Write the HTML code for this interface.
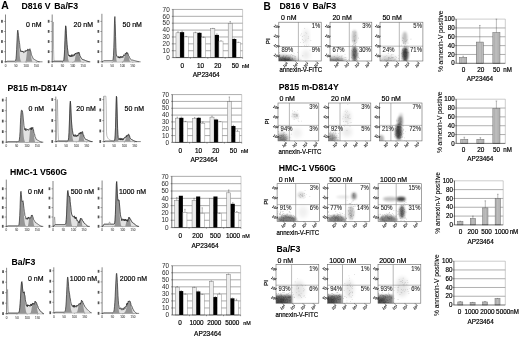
<!DOCTYPE html>
<html><head><meta charset="utf-8"><style>
html,body{margin:0;padding:0;background:#fff;}
svg{display:block;will-change:transform;filter:blur(0.4px);}
svg text{font-family:"Liberation Sans", sans-serif;}
</style></head><body>
<svg width="520" height="338" viewBox="0 0 520 338" font-family="Liberation Sans, sans-serif">
<defs><radialGradient id="rg"><stop offset="0" stop-color="#000" stop-opacity="1"/><stop offset="0.35" stop-color="#000" stop-opacity="0.75"/><stop offset="0.65" stop-color="#000" stop-opacity="0.3"/><stop offset="1" stop-color="#000" stop-opacity="0"/></radialGradient>
<filter id="b1" x="-50%" y="-50%" width="200%" height="200%"><feGaussianBlur stdDeviation="1"/></filter>
<filter id="b2" x="-50%" y="-50%" width="200%" height="200%"><feGaussianBlur stdDeviation="2"/></filter>
<filter id="b3" x="-50%" y="-50%" width="200%" height="200%"><feGaussianBlur stdDeviation="3"/></filter></defs>
<rect width="520" height="338" fill="#fff"/>
<text x="1.3" y="9.3" font-size="10.95" stroke="#000" stroke-width="0.06" font-weight="bold" transform="matrix(0.95 0 0 1 0.07 0)">A</text>
<text x="263.6" y="10.1" font-size="10.53" stroke="#000" stroke-width="0.06" font-weight="bold" transform="matrix(0.95 0 0 1 13.18 0)">B</text>
<text x="21.5" y="9.2" font-size="9.16" stroke="#000" stroke-width="0.06" font-weight="bold" transform="matrix(0.95 0 0 1 1.08 0)" xml:space="preserve">D816 V <tspan dx="1.5">Ba/F3</tspan></text>
<text x="7.5" y="90.6" font-size="9.16" stroke="#000" stroke-width="0.06" font-weight="bold" transform="matrix(0.95 0 0 1 0.38 0)" xml:space="preserve">P815 m-D814Y</text>
<text x="10" y="175" font-size="9.16" stroke="#000" stroke-width="0.06" font-weight="bold" transform="matrix(0.95 0 0 1 0.5 0)" xml:space="preserve">HMC-1 V560G</text>
<text x="11.6" y="264.6" font-size="9.16" stroke="#000" stroke-width="0.06" font-weight="bold" transform="matrix(0.95 0 0 1 0.58 0)" xml:space="preserve">Ba/F3</text>
<text x="279.6" y="9.3" font-size="9.16" stroke="#000" stroke-width="0.06" font-weight="bold" transform="matrix(0.95 0 0 1 13.98 0)" xml:space="preserve">D816 V <tspan dx="1.5">Ba/F3</tspan></text>
<text x="278.8" y="89.6" font-size="9.16" stroke="#000" stroke-width="0.06" font-weight="bold" transform="matrix(0.95 0 0 1 13.94 0)" xml:space="preserve">P815 m-D814Y</text>
<text x="278.8" y="171.2" font-size="9.16" stroke="#000" stroke-width="0.06" font-weight="bold" transform="matrix(0.95 0 0 1 13.94 0)" xml:space="preserve">HMC-1 V560G</text>
<text x="276.6" y="252.2" font-size="9.16" stroke="#000" stroke-width="0.06" font-weight="bold" transform="matrix(0.95 0 0 1 13.83 0)" xml:space="preserve">Ba/F3</text>
<line x1="5.5" y1="14.5" x2="5.5" y2="61.8" stroke="#222" stroke-width="0.55"/>
<line x1="5.5" y1="61.8" x2="42.5" y2="61.8" stroke="#222" stroke-width="0.55"/>
<rect x="1.1" y="60.3" width="1.7" height="2.8" fill="#555"/>
<line x1="3.9" y1="61.8" x2="5.5" y2="61.8" stroke="#444" stroke-width="0.45"/>
<rect x="1.1" y="50.2" width="1.7" height="2.8" fill="#555"/>
<line x1="3.9" y1="51.7" x2="5.5" y2="51.7" stroke="#444" stroke-width="0.45"/>
<rect x="1.1" y="40.1" width="1.7" height="2.8" fill="#555"/>
<line x1="3.9" y1="41.6" x2="5.5" y2="41.6" stroke="#444" stroke-width="0.45"/>
<rect x="1.1" y="30" width="1.7" height="2.8" fill="#555"/>
<line x1="3.9" y1="31.5" x2="5.5" y2="31.5" stroke="#444" stroke-width="0.45"/>
<rect x="1.1" y="19.9" width="1.7" height="2.8" fill="#555"/>
<line x1="3.9" y1="21.4" x2="5.5" y2="21.4" stroke="#444" stroke-width="0.45"/>
<text x="5.5" y="66.8" font-size="3.33" stroke="#555" stroke-width="0.08" text-anchor="middle" fill="#555" transform="matrix(0.9 0 0 1 0.55 0)">0</text>
<line x1="5.5" y1="61.8" x2="5.5" y2="62.7" stroke="#444" stroke-width="0.4"/>
<text x="15.8" y="66.8" font-size="3.33" stroke="#555" stroke-width="0.08" text-anchor="middle" fill="#555" transform="matrix(0.9 0 0 1 1.58 0)">50</text>
<line x1="15.8" y1="61.8" x2="15.8" y2="62.7" stroke="#444" stroke-width="0.4"/>
<text x="26.1" y="66.8" font-size="3.33" stroke="#555" stroke-width="0.08" text-anchor="middle" fill="#555" transform="matrix(0.9 0 0 1 2.61 0)">100</text>
<line x1="26.1" y1="61.8" x2="26.1" y2="62.7" stroke="#444" stroke-width="0.4"/>
<text x="36.4" y="66.8" font-size="3.33" stroke="#555" stroke-width="0.08" text-anchor="middle" fill="#555" transform="matrix(0.9 0 0 1 3.64 0)">150</text>
<line x1="36.4" y1="61.8" x2="36.4" y2="62.7" stroke="#444" stroke-width="0.4"/>
<polygon points="5.5,61.8 5.5,61.8 5.81,61.8 6.12,61.79 6.43,61.68 6.74,61.51 7.05,61.33 7.35,61.22 7.66,61.2 7.97,61.2 8.28,61.2 8.59,61.2 8.9,61.2 9.21,61.2 9.52,61.2 9.83,61.2 10.14,61.2 10.45,61.2 10.75,61.2 11.06,61.2 11.37,61.2 11.68,61.2 11.99,61.2 12.3,61.2 12.61,61.2 12.92,61.2 13.23,61.2 13.54,61.2 13.85,61.2 14.15,61.2 14.46,61.2 14.77,61.18 15.08,61.11 15.39,60.86 15.7,60.15 16.01,58.44 16.32,55.11 16.63,49.6 16.94,42.1 17.25,35.09 17.55,30.83 17.86,30.12 18.17,32.21 18.48,35.36 18.79,38 19.1,40.39 19.41,42.47 19.72,44.55 20.03,48.12 20.34,48.85 20.65,51.51 20.95,50.58 21.26,51.44 21.57,51.95 21.88,51.13 22.19,51.6 22.5,50.94 22.81,52.05 23.12,51.22 23.43,51.78 23.74,52.77 24.05,52.71 24.35,52.21 24.66,51.51 24.97,50.68 25.28,50.53 25.59,51.71 25.9,51.72 26.21,50.16 26.52,50.55 26.83,50.48 27.14,50.84 27.45,50.81 27.75,49.06 28.06,49.07 28.37,50.15 28.68,49.83 28.99,50.45 29.3,50.06 29.61,49.71 29.92,48.68 30.23,50.79 30.54,50.6 30.85,51.81 31.15,53.14 31.46,54.72 31.77,55.47 32.08,56.23 32.39,56.56 32.7,57.46 33.01,58.26 33.32,58.86 33.63,59.06 33.94,59.23 34.25,59.37 34.55,59.53 34.86,59.74 35.17,59.93 35.48,60.11 35.79,60.29 36.1,60.48 36.41,60.67 36.72,60.85 37.03,61.02 37.34,61.18 37.65,61.33 37.95,61.46 38.26,61.58 38.57,61.67 38.88,61.74 39.19,61.78 39.5,61.8 39.5,61.8" fill="#e2e2e2"/>
<polygon points="5.5,61.8 5.5,61.8 5.81,61.8 6.12,61.8 6.43,61.8 6.74,61.8 7.05,61.8 7.35,61.8 7.66,61.8 7.97,61.8 8.28,61.8 8.59,61.8 8.9,61.8 9.21,61.8 9.52,61.8 9.83,61.8 10.14,61.8 10.45,61.8 10.75,61.8 11.06,61.8 11.37,61.8 11.68,61.8 11.99,61.8 12.3,61.8 12.61,61.8 12.92,61.8 13.23,61.8 13.54,61.8 13.85,61.8 14.15,61.8 14.46,61.8 14.77,61.78 15.08,61.71 15.39,61.46 15.7,60.6 16.01,58.44 16.32,55.11 16.63,49.6 16.94,42.1 17.25,35.09 17.55,30.83 17.86,30.12 18.17,32.21 18.48,35.36 18.79,38 19.1,40.56 19.41,47.39 19.72,55.13 20.03,57.88 20.34,59.49 20.65,60.59 20.95,61.24 21.26,61.57 21.57,61.71 21.88,61.77 22.19,61.79 22.5,61.79 22.81,61.79 23.12,61.78 23.43,61.77 23.74,61.75 24.05,61.72 24.35,61.68 24.66,61.63 24.97,61.55 25.28,61.46 25.59,61.34 25.9,60.59 26.21,58.31 26.52,55.73 26.83,53.07 27.14,51.49 27.45,50.81 27.75,49.06 28.06,49.07 28.37,50.15 28.68,49.83 28.99,50.45 29.3,50.06 29.61,49.71 29.92,48.68 30.23,50.79 30.54,50.94 30.85,53.29 31.15,55.93 31.46,58.43 31.77,60.04 32.08,61.13 32.39,61.62 32.7,61.69 33.01,61.73 33.32,61.75 33.63,61.77 33.94,61.78 34.25,61.79 34.55,61.79 34.86,61.8 35.17,61.8 35.48,61.8 35.79,61.8 36.1,61.8 36.41,61.8 36.72,61.8 37.03,61.8 37.34,61.8 37.65,61.8 37.95,61.8 38.26,61.8 38.57,61.8 38.88,61.8 39.19,61.8 39.5,61.8 39.5,61.8" fill="#959595"/>
<polyline points="5.5,61.8 5.81,61.8 6.12,61.79 6.43,61.68 6.74,61.51 7.05,61.33 7.35,61.22 7.66,61.2 7.97,61.2 8.28,61.2 8.59,61.2 8.9,61.2 9.21,61.2 9.52,61.2 9.83,61.2 10.14,61.2 10.45,61.2 10.75,61.2 11.06,61.2 11.37,61.2 11.68,61.2 11.99,61.2 12.3,61.2 12.61,61.2 12.92,61.2 13.23,61.2 13.54,61.2 13.85,61.2 14.15,61.2 14.46,61.2 14.77,61.18 15.08,61.11 15.39,60.86 15.7,60.15 16.01,58.44 16.32,55.11 16.63,49.6 16.94,42.1 17.25,35.09 17.55,30.83 17.86,30.12 18.17,32.21 18.48,35.36 18.79,38 19.1,40.39 19.41,42.47 19.72,44.55 20.03,48.12 20.34,48.85 20.65,51.51 20.95,50.58 21.26,51.44 21.57,51.95 21.88,51.13 22.19,51.6 22.5,50.94 22.81,52.05 23.12,51.22 23.43,51.78 23.74,52.77 24.05,52.71 24.35,52.21 24.66,51.51 24.97,50.68 25.28,50.53 25.59,51.71 25.9,51.72 26.21,50.16 26.52,50.55 26.83,50.48 27.14,50.84 27.45,50.81 27.75,49.06 28.06,49.07 28.37,50.15 28.68,49.83 28.99,50.45 29.3,50.06 29.61,49.71 29.92,48.68 30.23,50.79 30.54,50.6 30.85,51.81 31.15,53.14 31.46,54.72 31.77,55.47 32.08,56.23 32.39,56.56 32.7,57.46 33.01,58.26 33.32,58.86 33.63,59.06 33.94,59.23 34.25,59.37 34.55,59.53 34.86,59.74 35.17,59.93 35.48,60.11 35.79,60.29 36.1,60.48 36.41,60.67 36.72,60.85 37.03,61.02 37.34,61.18 37.65,61.33 37.95,61.46 38.26,61.58 38.57,61.67 38.88,61.74 39.19,61.78 39.5,61.8" fill="none" stroke="#222" stroke-width="0.65"/>
<text x="26" y="26.9" font-size="7.78" stroke="#000" stroke-width="0.2" transform="matrix(0.9 0 0 1 2.6 0)">0 nM</text>
<line x1="52.2" y1="14.5" x2="52.2" y2="61.8" stroke="#222" stroke-width="0.55"/>
<line x1="52.2" y1="61.8" x2="89.2" y2="61.8" stroke="#222" stroke-width="0.55"/>
<rect x="47.8" y="60.3" width="1.7" height="2.8" fill="#555"/>
<line x1="50.6" y1="61.8" x2="52.2" y2="61.8" stroke="#444" stroke-width="0.45"/>
<rect x="47.8" y="50.2" width="1.7" height="2.8" fill="#555"/>
<line x1="50.6" y1="51.7" x2="52.2" y2="51.7" stroke="#444" stroke-width="0.45"/>
<rect x="47.8" y="40.1" width="1.7" height="2.8" fill="#555"/>
<line x1="50.6" y1="41.6" x2="52.2" y2="41.6" stroke="#444" stroke-width="0.45"/>
<rect x="47.8" y="30" width="1.7" height="2.8" fill="#555"/>
<line x1="50.6" y1="31.5" x2="52.2" y2="31.5" stroke="#444" stroke-width="0.45"/>
<rect x="47.8" y="19.9" width="1.7" height="2.8" fill="#555"/>
<line x1="50.6" y1="21.4" x2="52.2" y2="21.4" stroke="#444" stroke-width="0.45"/>
<text x="52.2" y="66.8" font-size="3.33" stroke="#555" stroke-width="0.08" text-anchor="middle" fill="#555" transform="matrix(0.9 0 0 1 5.22 0)">0</text>
<line x1="52.2" y1="61.8" x2="52.2" y2="62.7" stroke="#444" stroke-width="0.4"/>
<text x="62.5" y="66.8" font-size="3.33" stroke="#555" stroke-width="0.08" text-anchor="middle" fill="#555" transform="matrix(0.9 0 0 1 6.25 0)">50</text>
<line x1="62.5" y1="61.8" x2="62.5" y2="62.7" stroke="#444" stroke-width="0.4"/>
<text x="72.8" y="66.8" font-size="3.33" stroke="#555" stroke-width="0.08" text-anchor="middle" fill="#555" transform="matrix(0.9 0 0 1 7.28 0)">100</text>
<line x1="72.8" y1="61.8" x2="72.8" y2="62.7" stroke="#444" stroke-width="0.4"/>
<text x="83.1" y="66.8" font-size="3.33" stroke="#555" stroke-width="0.08" text-anchor="middle" fill="#555" transform="matrix(0.9 0 0 1 8.31 0)">150</text>
<line x1="83.1" y1="61.8" x2="83.1" y2="62.7" stroke="#444" stroke-width="0.4"/>
<polygon points="52.2,61.8 52.2,61.8 52.55,61.8 52.89,61.77 53.24,61.62 53.58,61.42 53.93,61.25 54.27,61.2 54.62,61.2 54.96,61.2 55.31,61.2 55.65,61.2 56,61.2 56.35,61.2 56.69,61.2 57.04,61.2 57.38,61.2 57.73,61.2 58.07,61.2 58.42,61.2 58.76,61.2 59.11,61.2 59.45,61.2 59.8,61.2 60.15,61.2 60.49,61.2 60.84,61.2 61.18,61.2 61.53,61.2 61.87,61.2 62.22,61.2 62.56,61.2 62.91,61.18 63.25,61.09 63.6,60.69 63.95,59.39 64.29,56.07 64.64,49.67 64.98,40.14 65.33,30.67 65.67,25.82 66.02,27.41 66.36,33.28 66.71,39.68 67.05,44.32 67.4,47.71 67.75,50.65 68.09,53.41 68.44,55.25 68.78,55.46 69.13,56.02 69.47,54.97 69.82,56.54 70.16,55.67 70.51,56.66 70.85,55.96 71.2,54.86 71.55,54.84 71.89,56.94 72.24,55.11 72.58,54.8 72.93,55.79 73.27,56.03 73.62,55.82 73.96,54.56 74.31,55.46 74.65,54.07 75,54.56 75.35,53 75.69,53.67 76.04,53.07 76.38,53.05 76.73,53.21 77.07,52.95 77.42,53.04 77.76,53.46 78.11,52.1 78.45,52.84 78.8,53.16 79.15,52.59 79.49,53.75 79.84,55.58 80.18,56.08 80.53,56.6 80.87,57.5 81.22,58.14 81.56,58.51 81.91,58.78 82.25,59.46 82.6,59.49 82.95,59.64 83.29,59.64 83.64,59.83 83.98,59.94 84.33,60.07 84.67,60.2 85.02,60.34 85.36,60.47 85.71,60.61 86.05,60.75 86.4,60.89 86.75,61.02 87.09,61.15 87.44,61.27 87.78,61.38 88.13,61.48 88.47,61.57 88.82,61.65 89.16,61.71 89.51,61.76 89.85,61.79 90.2,61.8 90.2,61.8" fill="#e2e2e2"/>
<polygon points="52.2,61.8 52.2,61.8 52.55,61.8 52.89,61.8 53.24,61.8 53.58,61.8 53.93,61.8 54.27,61.8 54.62,61.8 54.96,61.8 55.31,61.8 55.65,61.8 56,61.8 56.35,61.8 56.69,61.8 57.04,61.8 57.38,61.8 57.73,61.8 58.07,61.8 58.42,61.8 58.76,61.8 59.11,61.8 59.45,61.8 59.8,61.8 60.15,61.8 60.49,61.8 60.84,61.8 61.18,61.8 61.53,61.8 61.87,61.8 62.22,61.8 62.56,61.8 62.91,61.78 63.25,61.69 63.6,61.29 63.95,59.75 64.29,56.07 64.64,49.67 64.98,40.14 65.33,30.67 65.67,25.82 66.02,27.41 66.36,33.28 66.71,39.68 67.05,44.32 67.4,48.94 67.75,55.57 68.09,58.9 68.44,60.36 68.78,61.2 69.13,61.59 69.47,61.74 69.82,61.78 70.16,61.8 70.51,61.8 70.85,61.8 71.2,61.79 71.55,61.78 71.89,61.77 72.24,61.74 72.58,61.7 72.93,61.64 73.27,61.55 73.62,61.43 73.96,61.26 74.31,61.05 74.65,60.47 75,59.03 75.35,56.42 75.69,54.95 76.04,53.25 76.38,53.05 76.73,53.21 77.07,52.95 77.42,53.04 77.76,53.46 78.11,52.1 78.45,52.84 78.8,53.16 79.15,52.6 79.49,54.32 79.84,56.96 80.18,58.53 80.53,59.97 80.87,61.05 81.22,61.52 81.56,61.62 81.91,61.69 82.25,61.73 82.6,61.76 82.95,61.78 83.29,61.79 83.64,61.79 83.98,61.8 84.33,61.8 84.67,61.8 85.02,61.8 85.36,61.8 85.71,61.8 86.05,61.8 86.4,61.8 86.75,61.8 87.09,61.8 87.44,61.8 87.78,61.8 88.13,61.8 88.47,61.8 88.82,61.8 89.16,61.8 89.51,61.8 89.85,61.8 90.2,61.8 90.2,61.8" fill="#959595"/>
<polyline points="52.2,61.31 52.55,53.83 52.89,27.26 53.24,21.94 53.58,49.31 53.93,60.27 54.27,61.18 54.62,61.2 54.96,61.2 55.31,61.2 55.65,61.2 56,61.2 56.35,61.2 56.69,61.2 57.04,61.2 57.38,61.2 57.73,61.2 58.07,61.2 58.42,61.2 58.76,61.2 59.11,61.2 59.45,61.2 59.8,61.2 60.15,61.2 60.49,61.2 60.84,61.2 61.18,61.2 61.53,61.2 61.87,61.2 62.22,61.2 62.56,61.2 62.91,61.18 63.25,61.09 63.6,60.69 63.95,59.39 64.29,56.07 64.64,49.67 64.98,40.14 65.33,30.67 65.67,25.82 66.02,27.41 66.36,33.28 66.71,39.68 67.05,44.32 67.4,47.71 67.75,50.65 68.09,53.41 68.44,55.25 68.78,55.46 69.13,56.02 69.47,54.97 69.82,56.54 70.16,55.67 70.51,56.66 70.85,55.96 71.2,54.86 71.55,54.84 71.89,56.94 72.24,55.11 72.58,54.8 72.93,55.79 73.27,56.03 73.62,55.82 73.96,54.56 74.31,55.46 74.65,54.07 75,54.56 75.35,53 75.69,53.67 76.04,53.07 76.38,53.05 76.73,53.21 77.07,52.95 77.42,53.04 77.76,53.46 78.11,52.1 78.45,52.84 78.8,53.16 79.15,52.59 79.49,53.75 79.84,55.58 80.18,56.08 80.53,56.6 80.87,57.5 81.22,58.14 81.56,58.51 81.91,58.78 82.25,59.46 82.6,59.49 82.95,59.64 83.29,59.64 83.64,59.83 83.98,59.94 84.33,60.07 84.67,60.2 85.02,60.34 85.36,60.47 85.71,60.61 86.05,60.75 86.4,60.89 86.75,61.02 87.09,61.15 87.44,61.27 87.78,61.38 88.13,61.48 88.47,61.57 88.82,61.65 89.16,61.71 89.51,61.76 89.85,61.79 90.2,61.8" fill="none" stroke="#777" stroke-width="0.5"/>
<polyline points="52.2,61.8 52.55,61.8 52.89,61.77 53.24,61.62 53.58,61.42 53.93,61.25 54.27,61.2 54.62,61.2 54.96,61.2 55.31,61.2 55.65,61.2 56,61.2 56.35,61.2 56.69,61.2 57.04,61.2 57.38,61.2 57.73,61.2 58.07,61.2 58.42,61.2 58.76,61.2 59.11,61.2 59.45,61.2 59.8,61.2 60.15,61.2 60.49,61.2 60.84,61.2 61.18,61.2 61.53,61.2 61.87,61.2 62.22,61.2 62.56,61.2 62.91,61.18 63.25,61.09 63.6,60.69 63.95,59.39 64.29,56.07 64.64,49.67 64.98,40.14 65.33,30.67 65.67,25.82 66.02,27.41 66.36,33.28 66.71,39.68 67.05,44.32 67.4,47.71 67.75,50.65 68.09,53.41 68.44,55.25 68.78,55.46 69.13,56.02 69.47,54.97 69.82,56.54 70.16,55.67 70.51,56.66 70.85,55.96 71.2,54.86 71.55,54.84 71.89,56.94 72.24,55.11 72.58,54.8 72.93,55.79 73.27,56.03 73.62,55.82 73.96,54.56 74.31,55.46 74.65,54.07 75,54.56 75.35,53 75.69,53.67 76.04,53.07 76.38,53.05 76.73,53.21 77.07,52.95 77.42,53.04 77.76,53.46 78.11,52.1 78.45,52.84 78.8,53.16 79.15,52.59 79.49,53.75 79.84,55.58 80.18,56.08 80.53,56.6 80.87,57.5 81.22,58.14 81.56,58.51 81.91,58.78 82.25,59.46 82.6,59.49 82.95,59.64 83.29,59.64 83.64,59.83 83.98,59.94 84.33,60.07 84.67,60.2 85.02,60.34 85.36,60.47 85.71,60.61 86.05,60.75 86.4,60.89 86.75,61.02 87.09,61.15 87.44,61.27 87.78,61.38 88.13,61.48 88.47,61.57 88.82,61.65 89.16,61.71 89.51,61.76 89.85,61.79 90.2,61.8" fill="none" stroke="#222" stroke-width="0.65"/>
<text x="73.6" y="26.9" font-size="7.78" stroke="#000" stroke-width="0.2" transform="matrix(0.9 0 0 1 7.36 0)">20 nM</text>
<line x1="101.9" y1="13.8" x2="101.9" y2="61.8" stroke="#222" stroke-width="0.55"/>
<line x1="101.9" y1="61.8" x2="138.9" y2="61.8" stroke="#222" stroke-width="0.55"/>
<rect x="97.5" y="60.3" width="1.7" height="2.8" fill="#555"/>
<line x1="100.3" y1="61.8" x2="101.9" y2="61.8" stroke="#444" stroke-width="0.45"/>
<rect x="97.5" y="50.2" width="1.7" height="2.8" fill="#555"/>
<line x1="100.3" y1="51.7" x2="101.9" y2="51.7" stroke="#444" stroke-width="0.45"/>
<rect x="97.5" y="40.1" width="1.7" height="2.8" fill="#555"/>
<line x1="100.3" y1="41.6" x2="101.9" y2="41.6" stroke="#444" stroke-width="0.45"/>
<rect x="97.5" y="30" width="1.7" height="2.8" fill="#555"/>
<line x1="100.3" y1="31.5" x2="101.9" y2="31.5" stroke="#444" stroke-width="0.45"/>
<rect x="97.5" y="19.9" width="1.7" height="2.8" fill="#555"/>
<line x1="100.3" y1="21.4" x2="101.9" y2="21.4" stroke="#444" stroke-width="0.45"/>
<text x="101.9" y="66.8" font-size="3.33" stroke="#555" stroke-width="0.08" text-anchor="middle" fill="#555" transform="matrix(0.9 0 0 1 10.19 0)">0</text>
<line x1="101.9" y1="61.8" x2="101.9" y2="62.7" stroke="#444" stroke-width="0.4"/>
<text x="112.2" y="66.8" font-size="3.33" stroke="#555" stroke-width="0.08" text-anchor="middle" fill="#555" transform="matrix(0.9 0 0 1 11.22 0)">50</text>
<line x1="112.2" y1="61.8" x2="112.2" y2="62.7" stroke="#444" stroke-width="0.4"/>
<text x="122.5" y="66.8" font-size="3.33" stroke="#555" stroke-width="0.08" text-anchor="middle" fill="#555" transform="matrix(0.9 0 0 1 12.25 0)">100</text>
<line x1="122.5" y1="61.8" x2="122.5" y2="62.7" stroke="#444" stroke-width="0.4"/>
<text x="132.8" y="66.8" font-size="3.33" stroke="#555" stroke-width="0.08" text-anchor="middle" fill="#555" transform="matrix(0.9 0 0 1 13.28 0)">150</text>
<line x1="132.8" y1="61.8" x2="132.8" y2="62.7" stroke="#444" stroke-width="0.4"/>
<polygon points="101.9,61.8 101.9,61.8 102.25,61.8 102.6,61.74 102.95,61.43 103.3,61.02 103.65,60.69 104.01,60.6 104.36,60.6 104.71,60.6 105.06,60.6 105.41,60.6 105.76,60.6 106.11,60.6 106.46,60.6 106.81,60.6 107.16,60.6 107.51,60.6 107.87,60.6 108.22,60.6 108.57,60.6 108.92,60.6 109.27,60.6 109.62,60.6 109.97,60.6 110.32,60.6 110.67,60.6 111.02,60.6 111.37,60.6 111.73,60.6 112.08,60.59 112.43,60.55 112.78,60.26 113.13,59.13 113.48,55.52 113.83,47.24 114.18,33.93 114.53,20.95 114.88,16.52 115.23,23.52 115.59,36.52 115.94,47.78 116.29,53.9 116.64,56.22 116.99,56.54 117.34,56.31 117.69,57.4 118.04,56.99 118.39,56.48 118.74,58.03 119.09,56.65 119.45,58.14 119.8,56.87 120.15,58.13 120.5,56.39 120.85,57.29 121.2,56.59 121.55,57.57 121.9,56.47 122.25,57.36 122.6,56.4 122.95,57.53 123.31,56.26 123.66,54.85 124.01,54.9 124.36,55.92 124.71,55.55 125.06,53.77 125.41,53.24 125.76,54.17 126.11,54.04 126.46,52.37 126.81,52.46 127.17,53.69 127.52,52.69 127.87,53.34 128.22,54.33 128.57,55.66 128.92,56 129.27,56.46 129.62,57.6 129.97,57.96 130.32,58.9 130.67,59.38 131.03,59.57 131.38,59.88 131.73,60.03 132.08,60.02 132.43,60.03 132.78,60.16 133.13,60.24 133.48,60.33 133.83,60.42 134.18,60.52 134.53,60.61 134.89,60.71 135.24,60.81 135.59,60.91 135.94,61.01 136.29,61.1 136.64,61.2 136.99,61.29 137.34,61.37 137.69,61.45 138.04,61.53 138.39,61.59 138.75,61.65 139.1,61.7 139.45,61.74 139.8,61.77 140.15,61.79 140.5,61.8 140.5,61.8" fill="#e2e2e2"/>
<polygon points="101.9,61.8 101.9,61.8 102.25,61.8 102.6,61.8 102.95,61.8 103.3,61.8 103.65,61.8 104.01,61.8 104.36,61.8 104.71,61.8 105.06,61.8 105.41,61.8 105.76,61.8 106.11,61.8 106.46,61.8 106.81,61.8 107.16,61.8 107.51,61.8 107.87,61.8 108.22,61.8 108.57,61.8 108.92,61.8 109.27,61.8 109.62,61.8 109.97,61.8 110.32,61.8 110.67,61.8 111.02,61.8 111.37,61.8 111.73,61.8 112.08,61.79 112.43,61.75 112.78,61.46 113.13,60.23 113.48,55.52 113.83,47.24 114.18,33.93 114.53,20.95 114.88,16.52 115.23,23.52 115.59,36.77 115.94,50.73 116.29,58.7 116.64,61.02 116.99,61.65 117.34,61.78 117.69,61.8 118.04,61.8 118.39,61.8 118.74,61.8 119.09,61.8 119.45,61.8 119.8,61.79 120.15,61.79 120.5,61.78 120.85,61.76 121.2,61.74 121.55,61.69 121.9,61.62 122.25,61.52 122.6,61.37 122.95,61.17 123.31,60.91 123.66,60.32 124.01,58.89 124.36,57.74 124.71,56.3 125.06,53.89 125.41,53.24 125.76,54.17 126.11,54.04 126.46,52.37 126.81,52.46 127.17,53.69 127.52,52.69 127.87,53.34 128.22,54.37 128.57,56.21 128.92,57.47 129.27,58.95 129.62,60.4 129.97,61.19 130.32,61.51 130.67,61.61 131.03,61.69 131.38,61.73 131.73,61.76 132.08,61.78 132.43,61.79 132.78,61.79 133.13,61.8 133.48,61.8 133.83,61.8 134.18,61.8 134.53,61.8 134.89,61.8 135.24,61.8 135.59,61.8 135.94,61.8 136.29,61.8 136.64,61.8 136.99,61.8 137.34,61.8 137.69,61.8 138.04,61.8 138.39,61.8 138.75,61.8 139.1,61.8 139.45,61.8 139.8,61.8 140.15,61.8 140.5,61.8 140.5,61.8" fill="#959595"/>
<polyline points="101.9,61.8 102.25,61.8 102.6,61.74 102.95,61.43 103.3,61.02 103.65,60.69 104.01,60.6 104.36,60.6 104.71,60.6 105.06,60.6 105.41,60.6 105.76,60.6 106.11,60.6 106.46,60.6 106.81,60.6 107.16,60.6 107.51,60.6 107.87,60.6 108.22,60.6 108.57,60.6 108.92,60.6 109.27,60.6 109.62,60.6 109.97,60.6 110.32,60.6 110.67,60.6 111.02,60.6 111.37,60.6 111.73,60.6 112.08,60.59 112.43,60.55 112.78,60.26 113.13,59.13 113.48,55.52 113.83,47.24 114.18,33.93 114.53,20.95 114.88,16.52 115.23,23.52 115.59,36.52 115.94,47.78 116.29,53.9 116.64,56.22 116.99,56.54 117.34,56.31 117.69,57.4 118.04,56.99 118.39,56.48 118.74,58.03 119.09,56.65 119.45,58.14 119.8,56.87 120.15,58.13 120.5,56.39 120.85,57.29 121.2,56.59 121.55,57.57 121.9,56.47 122.25,57.36 122.6,56.4 122.95,57.53 123.31,56.26 123.66,54.85 124.01,54.9 124.36,55.92 124.71,55.55 125.06,53.77 125.41,53.24 125.76,54.17 126.11,54.04 126.46,52.37 126.81,52.46 127.17,53.69 127.52,52.69 127.87,53.34 128.22,54.33 128.57,55.66 128.92,56 129.27,56.46 129.62,57.6 129.97,57.96 130.32,58.9 130.67,59.38 131.03,59.57 131.38,59.88 131.73,60.03 132.08,60.02 132.43,60.03 132.78,60.16 133.13,60.24 133.48,60.33 133.83,60.42 134.18,60.52 134.53,60.61 134.89,60.71 135.24,60.81 135.59,60.91 135.94,61.01 136.29,61.1 136.64,61.2 136.99,61.29 137.34,61.37 137.69,61.45 138.04,61.53 138.39,61.59 138.75,61.65 139.1,61.7 139.45,61.74 139.8,61.77 140.15,61.79 140.5,61.8" fill="none" stroke="#222" stroke-width="0.65"/>
<text x="122.5" y="27" font-size="7.78" stroke="#000" stroke-width="0.2" transform="matrix(0.9 0 0 1 12.25 0)">50 nM</text>
<line x1="6.3" y1="97" x2="6.3" y2="142.2" stroke="#222" stroke-width="0.55"/>
<line x1="6.3" y1="142.2" x2="43.3" y2="142.2" stroke="#222" stroke-width="0.55"/>
<rect x="1.9" y="140.7" width="1.7" height="2.8" fill="#555"/>
<line x1="4.7" y1="142.2" x2="6.3" y2="142.2" stroke="#444" stroke-width="0.45"/>
<rect x="1.9" y="130.2" width="1.7" height="2.8" fill="#555"/>
<line x1="4.7" y1="131.7" x2="6.3" y2="131.7" stroke="#444" stroke-width="0.45"/>
<rect x="1.9" y="119.7" width="1.7" height="2.8" fill="#555"/>
<line x1="4.7" y1="121.2" x2="6.3" y2="121.2" stroke="#444" stroke-width="0.45"/>
<rect x="1.9" y="109.2" width="1.7" height="2.8" fill="#555"/>
<line x1="4.7" y1="110.7" x2="6.3" y2="110.7" stroke="#444" stroke-width="0.45"/>
<rect x="1.9" y="98.7" width="1.7" height="2.8" fill="#555"/>
<line x1="4.7" y1="100.2" x2="6.3" y2="100.2" stroke="#444" stroke-width="0.45"/>
<text x="6.3" y="147.2" font-size="3.33" stroke="#555" stroke-width="0.08" text-anchor="middle" fill="#555" transform="matrix(0.9 0 0 1 0.63 0)">0</text>
<line x1="6.3" y1="142.2" x2="6.3" y2="143.1" stroke="#444" stroke-width="0.4"/>
<text x="16.6" y="147.2" font-size="3.33" stroke="#555" stroke-width="0.08" text-anchor="middle" fill="#555" transform="matrix(0.9 0 0 1 1.66 0)">50</text>
<line x1="16.6" y1="142.2" x2="16.6" y2="143.1" stroke="#444" stroke-width="0.4"/>
<text x="26.9" y="147.2" font-size="3.33" stroke="#555" stroke-width="0.08" text-anchor="middle" fill="#555" transform="matrix(0.9 0 0 1 2.69 0)">100</text>
<line x1="26.9" y1="142.2" x2="26.9" y2="143.1" stroke="#444" stroke-width="0.4"/>
<text x="37.2" y="147.2" font-size="3.33" stroke="#555" stroke-width="0.08" text-anchor="middle" fill="#555" transform="matrix(0.9 0 0 1 3.72 0)">150</text>
<line x1="37.2" y1="142.2" x2="37.2" y2="143.1" stroke="#444" stroke-width="0.4"/>
<polygon points="6.3,142.2 6.3,142.2 6.63,142.2 6.95,142.18 7.28,142.05 7.61,141.86 7.94,141.69 8.26,141.6 8.59,141.6 8.92,141.6 9.25,141.6 9.57,141.6 9.9,141.6 10.23,141.6 10.55,141.6 10.88,141.6 11.21,141.6 11.54,141.6 11.86,141.6 12.19,141.6 12.52,141.6 12.85,141.6 13.17,141.6 13.5,141.6 13.83,141.6 14.15,141.6 14.48,141.6 14.81,141.6 15.14,141.6 15.46,141.6 15.79,141.6 16.12,141.6 16.45,141.6 16.77,141.6 17.1,141.6 17.43,141.6 17.75,141.6 18.08,141.59 18.41,141.53 18.74,141.33 19.06,140.75 19.39,139.35 19.72,136.64 20.05,131.45 20.37,124.34 20.7,117.55 21.03,112.75 21.35,110.44 21.68,110.21 22.01,110.3 22.34,110.91 22.66,112.55 22.99,115.06 23.32,119.04 23.65,121.98 23.97,125.73 24.3,127.25 24.63,129.7 24.95,130.06 25.28,128.41 25.61,130.05 25.94,130.86 26.26,128.65 26.59,129.1 26.92,129.74 27.25,129.72 27.57,128.99 27.9,129.69 28.23,129.43 28.55,130.22 28.88,130.35 29.21,129.58 29.54,128.63 29.86,128.49 30.19,128.55 30.52,128.09 30.85,129.67 31.17,127.5 31.5,129.61 31.83,127.62 32.15,128.45 32.48,128.44 32.81,127.29 33.14,129.48 33.46,129.58 33.79,131.72 34.12,133.41 34.45,133.71 34.77,134.93 35.1,136.9 35.43,137.25 35.75,138.06 36.08,139.05 36.41,139.63 36.74,139.58 37.06,139.84 37.39,140.02 37.72,140.16 38.05,140.36 38.37,140.56 38.7,140.76 39.03,140.96 39.35,141.15 39.68,141.34 40.01,141.52 40.34,141.68 40.66,141.82 40.99,141.95 41.32,142.06 41.65,142.13 41.97,142.18 42.3,142.2 42.3,142.2" fill="#e2e2e2"/>
<polygon points="6.3,142.2 6.3,142.2 6.63,142.2 6.95,142.2 7.28,142.2 7.61,142.2 7.94,142.2 8.26,142.2 8.59,142.2 8.92,142.2 9.25,142.2 9.57,142.2 9.9,142.2 10.23,142.2 10.55,142.2 10.88,142.2 11.21,142.2 11.54,142.2 11.86,142.2 12.19,142.2 12.52,142.2 12.85,142.2 13.17,142.2 13.5,142.2 13.83,142.2 14.15,142.2 14.48,142.2 14.81,142.2 15.14,142.2 15.46,142.2 15.79,142.2 16.12,142.2 16.45,142.2 16.77,142.2 17.1,142.2 17.43,142.2 17.75,142.2 18.08,142.19 18.41,142.13 18.74,141.93 19.06,141.08 19.39,139.35 19.72,136.64 20.05,131.45 20.37,124.34 20.7,117.55 21.03,112.75 21.35,110.44 21.68,110.21 22.01,110.3 22.34,110.91 22.66,112.81 22.99,121.98 23.32,132.15 23.65,135.65 23.97,138.2 24.3,140.01 24.63,141.12 24.95,141.72 25.28,142.01 25.61,142.13 25.94,142.17 26.26,142.18 26.59,142.18 26.92,142.17 27.25,142.15 27.57,142.11 27.9,142.07 28.23,142.01 28.55,141.93 28.88,141.71 29.21,139.78 29.54,136.16 29.86,132.36 30.19,129.53 30.52,128.09 30.85,129.67 31.17,127.5 31.5,129.61 31.83,127.62 32.15,128.45 32.48,128.44 32.81,127.29 33.14,129.48 33.46,130.13 33.79,133.74 34.12,136.99 34.45,139.16 34.77,141.06 35.1,142 35.43,142.11 35.75,142.15 36.08,142.17 36.41,142.18 36.74,142.19 37.06,142.19 37.39,142.2 37.72,142.2 38.05,142.2 38.37,142.2 38.7,142.2 39.03,142.2 39.35,142.2 39.68,142.2 40.01,142.2 40.34,142.2 40.66,142.2 40.99,142.2 41.32,142.2 41.65,142.2 41.97,142.2 42.3,142.2 42.3,142.2" fill="#959595"/>
<polyline points="6.3,142.2 6.63,142.2 6.95,142.18 7.28,142.05 7.61,141.86 7.94,141.69 8.26,141.6 8.59,141.6 8.92,141.6 9.25,141.6 9.57,141.6 9.9,141.6 10.23,141.6 10.55,141.6 10.88,141.6 11.21,141.6 11.54,141.6 11.86,141.6 12.19,141.6 12.52,141.6 12.85,141.6 13.17,141.6 13.5,141.6 13.83,141.6 14.15,141.6 14.48,141.6 14.81,141.6 15.14,141.6 15.46,141.6 15.79,141.6 16.12,141.6 16.45,141.6 16.77,141.6 17.1,141.6 17.43,141.6 17.75,141.6 18.08,141.59 18.41,141.53 18.74,141.33 19.06,140.75 19.39,139.35 19.72,136.64 20.05,131.45 20.37,124.34 20.7,117.55 21.03,112.75 21.35,110.44 21.68,110.21 22.01,110.3 22.34,110.91 22.66,112.55 22.99,115.06 23.32,119.04 23.65,121.98 23.97,125.73 24.3,127.25 24.63,129.7 24.95,130.06 25.28,128.41 25.61,130.05 25.94,130.86 26.26,128.65 26.59,129.1 26.92,129.74 27.25,129.72 27.57,128.99 27.9,129.69 28.23,129.43 28.55,130.22 28.88,130.35 29.21,129.58 29.54,128.63 29.86,128.49 30.19,128.55 30.52,128.09 30.85,129.67 31.17,127.5 31.5,129.61 31.83,127.62 32.15,128.45 32.48,128.44 32.81,127.29 33.14,129.48 33.46,129.58 33.79,131.72 34.12,133.41 34.45,133.71 34.77,134.93 35.1,136.9 35.43,137.25 35.75,138.06 36.08,139.05 36.41,139.63 36.74,139.58 37.06,139.84 37.39,140.02 37.72,140.16 38.05,140.36 38.37,140.56 38.7,140.76 39.03,140.96 39.35,141.15 39.68,141.34 40.01,141.52 40.34,141.68 40.66,141.82 40.99,141.95 41.32,142.06 41.65,142.13 41.97,142.18 42.3,142.2" fill="none" stroke="#222" stroke-width="0.65"/>
<text x="28.6" y="111" font-size="7.78" stroke="#000" stroke-width="0.2" transform="matrix(0.9 0 0 1 2.86 0)">0 nM</text>
<line x1="55.8" y1="96.6" x2="55.8" y2="141.6" stroke="#222" stroke-width="0.55"/>
<line x1="55.8" y1="141.6" x2="92.8" y2="141.6" stroke="#222" stroke-width="0.55"/>
<rect x="51.4" y="140.1" width="1.7" height="2.8" fill="#555"/>
<line x1="54.2" y1="141.6" x2="55.8" y2="141.6" stroke="#444" stroke-width="0.45"/>
<rect x="51.4" y="129.6" width="1.7" height="2.8" fill="#555"/>
<line x1="54.2" y1="131.1" x2="55.8" y2="131.1" stroke="#444" stroke-width="0.45"/>
<rect x="51.4" y="119.1" width="1.7" height="2.8" fill="#555"/>
<line x1="54.2" y1="120.6" x2="55.8" y2="120.6" stroke="#444" stroke-width="0.45"/>
<rect x="51.4" y="108.6" width="1.7" height="2.8" fill="#555"/>
<line x1="54.2" y1="110.1" x2="55.8" y2="110.1" stroke="#444" stroke-width="0.45"/>
<rect x="51.4" y="98.1" width="1.7" height="2.8" fill="#555"/>
<line x1="54.2" y1="99.6" x2="55.8" y2="99.6" stroke="#444" stroke-width="0.45"/>
<text x="55.8" y="146.6" font-size="3.33" stroke="#555" stroke-width="0.08" text-anchor="middle" fill="#555" transform="matrix(0.9 0 0 1 5.58 0)">0</text>
<line x1="55.8" y1="141.6" x2="55.8" y2="142.5" stroke="#444" stroke-width="0.4"/>
<text x="66.1" y="146.6" font-size="3.33" stroke="#555" stroke-width="0.08" text-anchor="middle" fill="#555" transform="matrix(0.9 0 0 1 6.61 0)">50</text>
<line x1="66.1" y1="141.6" x2="66.1" y2="142.5" stroke="#444" stroke-width="0.4"/>
<text x="76.4" y="146.6" font-size="3.33" stroke="#555" stroke-width="0.08" text-anchor="middle" fill="#555" transform="matrix(0.9 0 0 1 7.64 0)">100</text>
<line x1="76.4" y1="141.6" x2="76.4" y2="142.5" stroke="#444" stroke-width="0.4"/>
<text x="86.7" y="146.6" font-size="3.33" stroke="#555" stroke-width="0.08" text-anchor="middle" fill="#555" transform="matrix(0.9 0 0 1 8.67 0)">150</text>
<line x1="86.7" y1="141.6" x2="86.7" y2="142.5" stroke="#444" stroke-width="0.4"/>
<polygon points="55.8,141.6 55.8,141.6 56.13,141.6 56.46,141.58 56.79,141.45 57.12,141.26 57.45,141.08 57.79,141 58.12,141 58.45,141 58.78,141 59.11,141 59.44,141 59.77,141 60.1,141 60.43,141 60.76,141 61.09,141 61.43,141 61.76,141 62.09,141 62.42,141 62.75,141 63.08,141 63.41,141 63.74,141 64.07,141 64.4,141 64.73,141 65.07,141 65.4,141 65.73,141 66.06,141 66.39,141 66.72,141 67.05,141 67.38,140.99 67.71,140.94 68.04,140.7 68.37,139.86 68.71,137.54 69.04,132.48 69.37,124 69.7,113.12 70.03,104.16 70.36,101.19 70.69,104.79 71.02,112.05 71.35,119.05 71.68,123.98 72.01,127.54 72.35,130.23 72.68,131.98 73.01,134.64 73.34,134.75 73.67,136.18 74,134.7 74.33,135.84 74.66,136.22 74.99,136.61 75.32,134.82 75.65,134.86 75.99,135.83 76.32,136.62 76.65,135.75 76.98,135.93 77.31,134.92 77.64,136.04 77.97,136.24 78.3,134.76 78.63,134.54 78.96,133.41 79.29,132.9 79.63,134.2 79.96,133.23 80.29,132.37 80.62,132.43 80.95,133.81 81.28,132.69 81.61,132.02 81.94,131.93 82.27,131.71 82.6,131.74 82.93,134.23 83.27,134.57 83.6,134.94 83.93,136.81 84.26,137.28 84.59,137.93 84.92,138.64 85.25,138.95 85.58,139.26 85.91,139.36 86.24,139.55 86.57,139.61 86.91,139.72 87.24,139.88 87.57,140.03 87.9,140.18 88.23,140.34 88.56,140.5 88.89,140.65 89.22,140.8 89.55,140.95 89.88,141.08 90.21,141.21 90.55,141.32 90.88,141.41 91.21,141.49 91.54,141.55 91.87,141.59 92.2,141.6 92.2,141.6" fill="#e2e2e2"/>
<polygon points="55.8,141.6 55.8,141.6 56.13,141.6 56.46,141.6 56.79,141.6 57.12,141.6 57.45,141.6 57.79,141.6 58.12,141.6 58.45,141.6 58.78,141.6 59.11,141.6 59.44,141.6 59.77,141.6 60.1,141.6 60.43,141.6 60.76,141.6 61.09,141.6 61.43,141.6 61.76,141.6 62.09,141.6 62.42,141.6 62.75,141.6 63.08,141.6 63.41,141.6 63.74,141.6 64.07,141.6 64.4,141.6 64.73,141.6 65.07,141.6 65.4,141.6 65.73,141.6 66.06,141.6 66.39,141.6 66.72,141.6 67.05,141.6 67.38,141.59 67.71,141.54 68.04,141.3 68.37,140.44 68.71,137.6 69.04,132.48 69.37,124 69.7,113.12 70.03,104.16 70.36,101.19 70.69,104.79 71.02,112.05 71.35,119.05 71.68,123.98 72.01,128.9 72.35,135.29 72.68,138.62 73.01,140.06 73.34,140.92 73.67,141.35 74,141.52 74.33,141.58 74.66,141.59 74.99,141.6 75.32,141.6 75.65,141.59 75.99,141.58 76.32,141.57 76.65,141.54 76.98,141.49 77.31,141.42 77.64,141.32 77.97,141.17 78.3,140.96 78.63,140.64 78.96,139.18 79.29,136.78 79.63,135.53 79.96,133.45 80.29,132.37 80.62,132.43 80.95,133.81 81.28,132.69 81.61,132.02 81.94,131.93 82.27,131.71 82.6,131.74 82.93,134.47 83.27,135.8 83.6,137.55 83.93,139.75 84.26,140.82 84.59,141.32 84.92,141.43 85.25,141.5 85.58,141.54 85.91,141.57 86.24,141.58 86.57,141.59 86.91,141.6 87.24,141.6 87.57,141.6 87.9,141.6 88.23,141.6 88.56,141.6 88.89,141.6 89.22,141.6 89.55,141.6 89.88,141.6 90.21,141.6 90.55,141.6 90.88,141.6 91.21,141.6 91.54,141.6 91.87,141.6 92.2,141.6 92.2,141.6" fill="#959595"/>
<polyline points="55.8,141.43 56.13,140.09 56.46,133.82 56.79,118.14 57.12,100.51 57.45,99.6 57.79,116.41 58.12,132.51 58.45,139.29 58.78,140.8 59.11,140.99 59.44,141 59.77,141 60.1,141 60.43,141 60.76,141 61.09,141 61.43,141 61.76,141 62.09,141 62.42,141 62.75,141 63.08,141 63.41,141 63.74,141 64.07,141 64.4,141 64.73,141 65.07,141 65.4,141 65.73,141 66.06,141 66.39,141 66.72,141 67.05,141 67.38,140.99 67.71,140.94 68.04,140.7 68.37,139.86 68.71,137.54 69.04,132.48 69.37,124 69.7,113.12 70.03,104.16 70.36,101.19 70.69,104.79 71.02,112.05 71.35,119.05 71.68,123.98 72.01,127.54 72.35,130.23 72.68,131.98 73.01,134.64 73.34,134.75 73.67,136.18 74,134.7 74.33,135.84 74.66,136.22 74.99,136.61 75.32,134.82 75.65,134.86 75.99,135.83 76.32,136.62 76.65,135.75 76.98,135.93 77.31,134.92 77.64,136.04 77.97,136.24 78.3,134.76 78.63,134.54 78.96,133.41 79.29,132.9 79.63,134.2 79.96,133.23 80.29,132.37 80.62,132.43 80.95,133.81 81.28,132.69 81.61,132.02 81.94,131.93 82.27,131.71 82.6,131.74 82.93,134.23 83.27,134.57 83.6,134.94 83.93,136.81 84.26,137.28 84.59,137.93 84.92,138.64 85.25,138.95 85.58,139.26 85.91,139.36 86.24,139.55 86.57,139.61 86.91,139.72 87.24,139.88 87.57,140.03 87.9,140.18 88.23,140.34 88.56,140.5 88.89,140.65 89.22,140.8 89.55,140.95 89.88,141.08 90.21,141.21 90.55,141.32 90.88,141.41 91.21,141.49 91.54,141.55 91.87,141.59 92.2,141.6" fill="none" stroke="#777" stroke-width="0.5"/>
<polyline points="55.8,141.6 56.13,141.6 56.46,141.58 56.79,141.45 57.12,141.26 57.45,141.08 57.79,141 58.12,141 58.45,141 58.78,141 59.11,141 59.44,141 59.77,141 60.1,141 60.43,141 60.76,141 61.09,141 61.43,141 61.76,141 62.09,141 62.42,141 62.75,141 63.08,141 63.41,141 63.74,141 64.07,141 64.4,141 64.73,141 65.07,141 65.4,141 65.73,141 66.06,141 66.39,141 66.72,141 67.05,141 67.38,140.99 67.71,140.94 68.04,140.7 68.37,139.86 68.71,137.54 69.04,132.48 69.37,124 69.7,113.12 70.03,104.16 70.36,101.19 70.69,104.79 71.02,112.05 71.35,119.05 71.68,123.98 72.01,127.54 72.35,130.23 72.68,131.98 73.01,134.64 73.34,134.75 73.67,136.18 74,134.7 74.33,135.84 74.66,136.22 74.99,136.61 75.32,134.82 75.65,134.86 75.99,135.83 76.32,136.62 76.65,135.75 76.98,135.93 77.31,134.92 77.64,136.04 77.97,136.24 78.3,134.76 78.63,134.54 78.96,133.41 79.29,132.9 79.63,134.2 79.96,133.23 80.29,132.37 80.62,132.43 80.95,133.81 81.28,132.69 81.61,132.02 81.94,131.93 82.27,131.71 82.6,131.74 82.93,134.23 83.27,134.57 83.6,134.94 83.93,136.81 84.26,137.28 84.59,137.93 84.92,138.64 85.25,138.95 85.58,139.26 85.91,139.36 86.24,139.55 86.57,139.61 86.91,139.72 87.24,139.88 87.57,140.03 87.9,140.18 88.23,140.34 88.56,140.5 88.89,140.65 89.22,140.8 89.55,140.95 89.88,141.08 90.21,141.21 90.55,141.32 90.88,141.41 91.21,141.49 91.54,141.55 91.87,141.59 92.2,141.6" fill="none" stroke="#222" stroke-width="0.65"/>
<text x="76.3" y="110.8" font-size="7.78" stroke="#000" stroke-width="0.2" transform="matrix(0.9 0 0 1 7.63 0)">20 nM</text>
<line x1="103.8" y1="96.2" x2="103.8" y2="141.6" stroke="#222" stroke-width="0.55"/>
<line x1="103.8" y1="141.6" x2="140.8" y2="141.6" stroke="#222" stroke-width="0.55"/>
<rect x="99.4" y="140.1" width="1.7" height="2.8" fill="#555"/>
<line x1="102.2" y1="141.6" x2="103.8" y2="141.6" stroke="#444" stroke-width="0.45"/>
<rect x="99.4" y="129.6" width="1.7" height="2.8" fill="#555"/>
<line x1="102.2" y1="131.1" x2="103.8" y2="131.1" stroke="#444" stroke-width="0.45"/>
<rect x="99.4" y="119.1" width="1.7" height="2.8" fill="#555"/>
<line x1="102.2" y1="120.6" x2="103.8" y2="120.6" stroke="#444" stroke-width="0.45"/>
<rect x="99.4" y="108.6" width="1.7" height="2.8" fill="#555"/>
<line x1="102.2" y1="110.1" x2="103.8" y2="110.1" stroke="#444" stroke-width="0.45"/>
<rect x="99.4" y="98.1" width="1.7" height="2.8" fill="#555"/>
<line x1="102.2" y1="99.6" x2="103.8" y2="99.6" stroke="#444" stroke-width="0.45"/>
<text x="103.8" y="146.6" font-size="3.33" stroke="#555" stroke-width="0.08" text-anchor="middle" fill="#555" transform="matrix(0.9 0 0 1 10.38 0)">0</text>
<line x1="103.8" y1="141.6" x2="103.8" y2="142.5" stroke="#444" stroke-width="0.4"/>
<text x="114.1" y="146.6" font-size="3.33" stroke="#555" stroke-width="0.08" text-anchor="middle" fill="#555" transform="matrix(0.9 0 0 1 11.41 0)">50</text>
<line x1="114.1" y1="141.6" x2="114.1" y2="142.5" stroke="#444" stroke-width="0.4"/>
<text x="124.4" y="146.6" font-size="3.33" stroke="#555" stroke-width="0.08" text-anchor="middle" fill="#555" transform="matrix(0.9 0 0 1 12.44 0)">100</text>
<line x1="124.4" y1="141.6" x2="124.4" y2="142.5" stroke="#444" stroke-width="0.4"/>
<text x="134.7" y="146.6" font-size="3.33" stroke="#555" stroke-width="0.08" text-anchor="middle" fill="#555" transform="matrix(0.9 0 0 1 13.47 0)">150</text>
<line x1="134.7" y1="141.6" x2="134.7" y2="142.5" stroke="#444" stroke-width="0.4"/>
<polygon points="103.8,141.6 103.8,141.6 104.1,141.6 104.4,141.59 104.7,141.49 105,141.33 105.3,141.16 105.6,141.03 105.9,141 106.2,141 106.5,141 106.8,141 107.1,141 107.4,141 107.7,141 108,141 108.3,141 108.6,141 108.9,141 109.2,141 109.5,141 109.8,141 110.1,141 110.4,141 110.7,141 111,141 111.3,141 111.6,141 111.9,141 112.2,141 112.5,141 112.8,141 113.1,141 113.4,141 113.7,141 114,140.97 114.3,140.86 114.6,140.38 114.9,138.91 115.2,135.14 115.5,127.66 115.8,116.3 116.1,104.03 116.4,96.33 116.7,97.27 117,106.15 117.3,118.21 117.6,128.46 117.9,134.72 118.2,137.68 118.5,138.6 118.8,138.93 119.1,140.02 119.4,138.7 119.7,138.41 120,137.94 120.3,138.7 120.6,140.1 120.9,138.62 121.2,139.6 121.5,138.54 121.8,139.73 122.1,140.15 122.4,139.37 122.7,138.62 123,140.09 123.3,138.55 123.6,138.81 123.9,138.78 124.2,138.44 124.5,137.38 124.8,137.22 125.1,137.52 125.4,137.67 125.7,136.78 126,136.43 126.3,135.8 126.6,136.75 126.9,135.47 127.2,134.91 127.5,135.14 127.8,135.46 128.1,135.39 128.4,134.48 128.7,134.27 129,134.54 129.3,136.03 129.6,136.07 129.9,137.7 130.2,138.47 130.5,138.53 130.8,138.96 131.1,139.4 131.4,139.41 131.7,139.58 132,139.9 132.3,139.91 132.6,140.07 132.9,140.25 133.2,140.39 133.5,140.53 133.8,140.67 134.1,140.81 134.4,140.95 134.7,141.08 135,141.2 135.3,141.31 135.6,141.41 135.9,141.49 136.2,141.55 136.5,141.59 136.8,141.6 136.8,141.6" fill="#e2e2e2"/>
<polygon points="103.8,141.6 103.8,141.6 104.1,141.6 104.4,141.6 104.7,141.6 105,141.6 105.3,141.6 105.6,141.6 105.9,141.6 106.2,141.6 106.5,141.6 106.8,141.6 107.1,141.6 107.4,141.6 107.7,141.6 108,141.6 108.3,141.6 108.6,141.6 108.9,141.6 109.2,141.6 109.5,141.6 109.8,141.6 110.1,141.6 110.4,141.6 110.7,141.6 111,141.6 111.3,141.6 111.6,141.6 111.9,141.6 112.2,141.6 112.5,141.6 112.8,141.6 113.1,141.6 113.4,141.6 113.7,141.6 114,141.57 114.3,141.46 114.6,140.98 114.9,139.37 115.2,135.14 115.5,127.66 115.8,116.3 116.1,104.03 116.4,96.33 116.7,97.27 117,106.15 117.3,118.38 117.6,129.83 117.9,137.16 118.2,140.14 118.5,141.21 118.8,141.51 119.1,141.59 119.4,141.6 119.7,141.6 120,141.6 120.3,141.6 120.6,141.6 120.9,141.6 121.2,141.6 121.5,141.6 121.8,141.6 122.1,141.59 122.4,141.59 122.7,141.58 123,141.56 123.3,141.52 123.6,141.47 123.9,141.38 124.2,141.25 124.5,141.07 124.8,140.83 125.1,140.51 125.4,139.88 125.7,138.67 126,137.42 126.3,136.11 126.6,136.75 126.9,135.47 127.2,134.91 127.5,135.14 127.8,135.46 128.1,135.39 128.4,134.48 128.7,134.27 129,134.54 129.3,136.3 129.6,137.12 129.9,139.11 130.2,140.22 130.5,140.88 130.8,141.25 131.1,141.38 131.4,141.47 131.7,141.52 132,141.56 132.3,141.58 132.6,141.59 132.9,141.59 133.2,141.6 133.5,141.6 133.8,141.6 134.1,141.6 134.4,141.6 134.7,141.6 135,141.6 135.3,141.6 135.6,141.6 135.9,141.6 136.2,141.6 136.5,141.6 136.8,141.6 136.8,141.6" fill="#959595"/>
<polyline points="103.8,96.2 104.1,96.2 104.4,96.2 104.7,96.2 105,96.2 105.3,96.2 105.6,96.2 105.9,96.2 106.2,105.11 106.5,131.79 106.8,135.7 107.1,136.51 107.4,137.2 107.7,137.78 108,138.28 108.3,138.7 108.6,139.05 108.9,139.35 109.2,139.6 109.5,139.82 109.8,140 110.1,140.15 110.4,140.28 110.7,140.39 111,140.49 111.3,140.56 111.6,140.63 111.9,140.69 112.2,140.74 112.5,140.78 112.8,140.81 113.1,140.84 113.4,140.86 113.7,140.88 114,140.88 114.3,140.77 114.6,140.31 114.9,138.85 115.2,135.09 115.5,127.62 115.8,116.27 116.1,104 116.4,96.3 116.7,97.24 117,106.13 117.3,118.2 117.6,128.45 117.9,134.71 118.2,137.67 118.5,138.59 118.8,138.92 119.1,140.02 119.4,138.7 119.7,138.41 120,137.94 120.3,138.7 120.6,140.1 120.9,138.62 121.2,139.6 121.5,138.53 121.8,139.73 122.1,140.15 122.4,139.37 122.7,138.61 123,140.09 123.3,138.55 123.6,138.81 123.9,138.78 124.2,138.44 124.5,137.38 124.8,137.22 125.1,137.52 125.4,137.67 125.7,136.77 126,136.43 126.3,135.8 126.6,136.75 126.9,135.47 127.2,134.91 127.5,135.14 127.8,135.46 128.1,135.39 128.4,134.48 128.7,134.27 129,134.54 129.3,136.03 129.6,136.07 129.9,137.7 130.2,138.47 130.5,138.53 130.8,138.96 131.1,139.4 131.4,139.41 131.7,139.58 132,139.9 132.3,139.91 132.6,140.07 132.9,140.25 133.2,140.39 133.5,140.53 133.8,140.67 134.1,140.81 134.4,140.95 134.7,141.08 135,141.2 135.3,141.31 135.6,141.41 135.9,141.49 136.2,141.55 136.5,141.59 136.8,141.6" fill="none" stroke="#777" stroke-width="0.5"/>
<polyline points="103.8,141.6 104.1,141.6 104.4,141.59 104.7,141.49 105,141.33 105.3,141.16 105.6,141.03 105.9,141 106.2,141 106.5,141 106.8,141 107.1,141 107.4,141 107.7,141 108,141 108.3,141 108.6,141 108.9,141 109.2,141 109.5,141 109.8,141 110.1,141 110.4,141 110.7,141 111,141 111.3,141 111.6,141 111.9,141 112.2,141 112.5,141 112.8,141 113.1,141 113.4,141 113.7,141 114,140.97 114.3,140.86 114.6,140.38 114.9,138.91 115.2,135.14 115.5,127.66 115.8,116.3 116.1,104.03 116.4,96.33 116.7,97.27 117,106.15 117.3,118.21 117.6,128.46 117.9,134.72 118.2,137.68 118.5,138.6 118.8,138.93 119.1,140.02 119.4,138.7 119.7,138.41 120,137.94 120.3,138.7 120.6,140.1 120.9,138.62 121.2,139.6 121.5,138.54 121.8,139.73 122.1,140.15 122.4,139.37 122.7,138.62 123,140.09 123.3,138.55 123.6,138.81 123.9,138.78 124.2,138.44 124.5,137.38 124.8,137.22 125.1,137.52 125.4,137.67 125.7,136.78 126,136.43 126.3,135.8 126.6,136.75 126.9,135.47 127.2,134.91 127.5,135.14 127.8,135.46 128.1,135.39 128.4,134.48 128.7,134.27 129,134.54 129.3,136.03 129.6,136.07 129.9,137.7 130.2,138.47 130.5,138.53 130.8,138.96 131.1,139.4 131.4,139.41 131.7,139.58 132,139.9 132.3,139.91 132.6,140.07 132.9,140.25 133.2,140.39 133.5,140.53 133.8,140.67 134.1,140.81 134.4,140.95 134.7,141.08 135,141.2 135.3,141.31 135.6,141.41 135.9,141.49 136.2,141.55 136.5,141.59 136.8,141.6" fill="none" stroke="#222" stroke-width="0.65"/>
<text x="124.6" y="111" font-size="7.78" stroke="#000" stroke-width="0.2" transform="matrix(0.9 0 0 1 12.46 0)">50 nM</text>
<line x1="6.3" y1="179.6" x2="6.3" y2="226.4" stroke="#222" stroke-width="0.55"/>
<line x1="6.3" y1="226.4" x2="43.3" y2="226.4" stroke="#222" stroke-width="0.55"/>
<rect x="1.9" y="224.9" width="1.7" height="2.8" fill="#555"/>
<line x1="4.7" y1="226.4" x2="6.3" y2="226.4" stroke="#444" stroke-width="0.45"/>
<rect x="1.9" y="215.5" width="1.7" height="2.8" fill="#555"/>
<line x1="4.7" y1="217" x2="6.3" y2="217" stroke="#444" stroke-width="0.45"/>
<rect x="1.9" y="206.1" width="1.7" height="2.8" fill="#555"/>
<line x1="4.7" y1="207.6" x2="6.3" y2="207.6" stroke="#444" stroke-width="0.45"/>
<rect x="1.9" y="196.7" width="1.7" height="2.8" fill="#555"/>
<line x1="4.7" y1="198.2" x2="6.3" y2="198.2" stroke="#444" stroke-width="0.45"/>
<rect x="1.9" y="187.3" width="1.7" height="2.8" fill="#555"/>
<line x1="4.7" y1="188.8" x2="6.3" y2="188.8" stroke="#444" stroke-width="0.45"/>
<text x="6.3" y="231.4" font-size="3.33" stroke="#555" stroke-width="0.08" text-anchor="middle" fill="#555" transform="matrix(0.9 0 0 1 0.63 0)">0</text>
<line x1="6.3" y1="226.4" x2="6.3" y2="227.3" stroke="#444" stroke-width="0.4"/>
<text x="16.6" y="231.4" font-size="3.33" stroke="#555" stroke-width="0.08" text-anchor="middle" fill="#555" transform="matrix(0.9 0 0 1 1.66 0)">50</text>
<line x1="16.6" y1="226.4" x2="16.6" y2="227.3" stroke="#444" stroke-width="0.4"/>
<text x="26.9" y="231.4" font-size="3.33" stroke="#555" stroke-width="0.08" text-anchor="middle" fill="#555" transform="matrix(0.9 0 0 1 2.69 0)">100</text>
<line x1="26.9" y1="226.4" x2="26.9" y2="227.3" stroke="#444" stroke-width="0.4"/>
<text x="37.2" y="231.4" font-size="3.33" stroke="#555" stroke-width="0.08" text-anchor="middle" fill="#555" transform="matrix(0.9 0 0 1 3.72 0)">150</text>
<line x1="37.2" y1="226.4" x2="37.2" y2="227.3" stroke="#444" stroke-width="0.4"/>
<polygon points="6.3,226.4 6.3,226.4 6.63,226.4 6.95,226.38 7.28,226.25 7.61,226.06 7.94,225.89 8.26,225.8 8.59,225.8 8.92,225.8 9.25,225.8 9.57,225.8 9.9,225.8 10.23,225.8 10.55,225.8 10.88,225.8 11.21,225.8 11.54,225.8 11.86,225.8 12.19,225.8 12.52,225.8 12.85,225.8 13.17,225.8 13.5,225.8 13.83,225.8 14.15,225.8 14.48,225.8 14.81,225.8 15.14,225.8 15.46,225.8 15.79,225.8 16.12,225.8 16.45,225.8 16.77,225.8 17.1,225.8 17.43,225.8 17.75,225.8 18.08,225.77 18.41,225.67 18.74,225.25 19.06,224.04 19.39,221.11 19.72,215.63 20.05,207.25 20.37,198.14 20.7,192.12 21.03,191.29 21.35,194.57 21.68,198.98 22.01,201.4 22.34,201.73 22.66,201.18 22.99,200.74 23.32,202.53 23.65,205.88 23.97,208.4 24.3,211.3 24.63,212.75 24.95,215.9 25.28,216.2 25.61,216.62 25.94,219.1 26.26,219.22 26.59,218.42 26.92,218.87 27.25,217.76 27.57,219.37 27.9,218.57 28.23,217.3 28.55,218.25 28.88,216.96 29.21,218.9 29.54,218.87 29.86,218.55 30.19,217.6 30.52,218.09 30.85,217.83 31.17,216.12 31.5,215.04 31.83,215.42 32.15,214.94 32.48,215.93 32.81,216.73 33.14,217.4 33.46,219.08 33.79,219.81 34.12,220.16 34.45,220.92 34.77,221.39 35.1,222.03 35.43,222.6 35.75,222.64 36.08,222.85 36.41,223.15 36.74,223.29 37.06,223.57 37.39,223.77 37.72,224.01 38.05,224.25 38.37,224.49 38.7,224.73 39.03,224.97 39.35,225.2 39.68,225.42 40.01,225.62 40.34,225.81 40.66,225.98 40.99,226.12 41.32,226.24 41.65,226.33 41.97,226.38 42.3,226.4 42.3,226.4" fill="#e2e2e2"/>
<polygon points="6.3,226.4 6.3,226.4 6.63,226.4 6.95,226.4 7.28,226.4 7.61,226.4 7.94,226.4 8.26,226.4 8.59,226.4 8.92,226.4 9.25,226.4 9.57,226.4 9.9,226.4 10.23,226.4 10.55,226.4 10.88,226.4 11.21,226.4 11.54,226.4 11.86,226.4 12.19,226.4 12.52,226.4 12.85,226.4 13.17,226.4 13.5,226.4 13.83,226.4 14.15,226.4 14.48,226.4 14.81,226.4 15.14,226.4 15.46,226.4 15.79,226.4 16.12,226.4 16.45,226.4 16.77,226.4 17.1,226.4 17.43,226.4 17.75,226.4 18.08,226.37 18.41,226.27 18.74,225.85 19.06,224.36 19.39,221.11 19.72,215.63 20.05,207.25 20.37,198.14 20.7,192.12 21.03,191.29 21.35,194.57 21.68,198.98 22.01,201.4 22.34,201.73 22.66,201.18 22.99,200.74 23.32,202.68 23.65,209.83 23.97,216.61 24.3,219.59 24.63,221.94 24.95,223.72 25.28,224.93 25.61,225.65 25.94,226.04 26.26,226.23 26.59,226.31 26.92,226.32 27.25,226.31 27.57,226.28 27.9,226.03 28.23,224.48 28.55,222.63 28.88,219.59 29.21,219.47 29.54,218.87 29.86,218.55 30.19,217.6 30.52,218.09 30.85,217.83 31.17,216.12 31.5,215.04 31.83,215.42 32.15,214.94 32.48,215.98 32.81,217.62 33.14,219.78 33.46,222.59 33.79,224.42 34.12,225.66 34.45,226.31 34.77,226.37 35.1,226.38 35.43,226.39 35.75,226.39 36.08,226.4 36.41,226.4 36.74,226.4 37.06,226.4 37.39,226.4 37.72,226.4 38.05,226.4 38.37,226.4 38.7,226.4 39.03,226.4 39.35,226.4 39.68,226.4 40.01,226.4 40.34,226.4 40.66,226.4 40.99,226.4 41.32,226.4 41.65,226.4 41.97,226.4 42.3,226.4 42.3,226.4" fill="#959595"/>
<polyline points="6.3,226.4 6.63,226.4 6.95,226.38 7.28,226.25 7.61,226.06 7.94,225.89 8.26,225.8 8.59,225.8 8.92,225.8 9.25,225.8 9.57,225.8 9.9,225.8 10.23,225.8 10.55,225.8 10.88,225.8 11.21,225.8 11.54,225.8 11.86,225.8 12.19,225.8 12.52,225.8 12.85,225.8 13.17,225.8 13.5,225.8 13.83,225.8 14.15,225.8 14.48,225.8 14.81,225.8 15.14,225.8 15.46,225.8 15.79,225.8 16.12,225.8 16.45,225.8 16.77,225.8 17.1,225.8 17.43,225.8 17.75,225.8 18.08,225.77 18.41,225.67 18.74,225.25 19.06,224.04 19.39,221.11 19.72,215.63 20.05,207.25 20.37,198.14 20.7,192.12 21.03,191.29 21.35,194.57 21.68,198.98 22.01,201.4 22.34,201.73 22.66,201.18 22.99,200.74 23.32,202.53 23.65,205.88 23.97,208.4 24.3,211.3 24.63,212.75 24.95,215.9 25.28,216.2 25.61,216.62 25.94,219.1 26.26,219.22 26.59,218.42 26.92,218.87 27.25,217.76 27.57,219.37 27.9,218.57 28.23,217.3 28.55,218.25 28.88,216.96 29.21,218.9 29.54,218.87 29.86,218.55 30.19,217.6 30.52,218.09 30.85,217.83 31.17,216.12 31.5,215.04 31.83,215.42 32.15,214.94 32.48,215.93 32.81,216.73 33.14,217.4 33.46,219.08 33.79,219.81 34.12,220.16 34.45,220.92 34.77,221.39 35.1,222.03 35.43,222.6 35.75,222.64 36.08,222.85 36.41,223.15 36.74,223.29 37.06,223.57 37.39,223.77 37.72,224.01 38.05,224.25 38.37,224.49 38.7,224.73 39.03,224.97 39.35,225.2 39.68,225.42 40.01,225.62 40.34,225.81 40.66,225.98 40.99,226.12 41.32,226.24 41.65,226.33 41.97,226.38 42.3,226.4" fill="none" stroke="#222" stroke-width="0.65"/>
<text x="28" y="194" font-size="7.78" stroke="#000" stroke-width="0.2" transform="matrix(0.9 0 0 1 2.8 0)">0 nM</text>
<line x1="53" y1="181" x2="53" y2="226.4" stroke="#222" stroke-width="0.55"/>
<line x1="53" y1="226.4" x2="90" y2="226.4" stroke="#222" stroke-width="0.55"/>
<rect x="48.6" y="224.9" width="1.7" height="2.8" fill="#555"/>
<line x1="51.4" y1="226.4" x2="53" y2="226.4" stroke="#444" stroke-width="0.45"/>
<rect x="48.6" y="215.5" width="1.7" height="2.8" fill="#555"/>
<line x1="51.4" y1="217" x2="53" y2="217" stroke="#444" stroke-width="0.45"/>
<rect x="48.6" y="206.1" width="1.7" height="2.8" fill="#555"/>
<line x1="51.4" y1="207.6" x2="53" y2="207.6" stroke="#444" stroke-width="0.45"/>
<rect x="48.6" y="196.7" width="1.7" height="2.8" fill="#555"/>
<line x1="51.4" y1="198.2" x2="53" y2="198.2" stroke="#444" stroke-width="0.45"/>
<rect x="48.6" y="187.3" width="1.7" height="2.8" fill="#555"/>
<line x1="51.4" y1="188.8" x2="53" y2="188.8" stroke="#444" stroke-width="0.45"/>
<text x="53" y="231.4" font-size="3.33" stroke="#555" stroke-width="0.08" text-anchor="middle" fill="#555" transform="matrix(0.9 0 0 1 5.3 0)">0</text>
<line x1="53" y1="226.4" x2="53" y2="227.3" stroke="#444" stroke-width="0.4"/>
<text x="63.3" y="231.4" font-size="3.33" stroke="#555" stroke-width="0.08" text-anchor="middle" fill="#555" transform="matrix(0.9 0 0 1 6.33 0)">50</text>
<line x1="63.3" y1="226.4" x2="63.3" y2="227.3" stroke="#444" stroke-width="0.4"/>
<text x="73.6" y="231.4" font-size="3.33" stroke="#555" stroke-width="0.08" text-anchor="middle" fill="#555" transform="matrix(0.9 0 0 1 7.36 0)">100</text>
<line x1="73.6" y1="226.4" x2="73.6" y2="227.3" stroke="#444" stroke-width="0.4"/>
<text x="83.9" y="231.4" font-size="3.33" stroke="#555" stroke-width="0.08" text-anchor="middle" fill="#555" transform="matrix(0.9 0 0 1 8.39 0)">150</text>
<line x1="83.9" y1="226.4" x2="83.9" y2="227.3" stroke="#444" stroke-width="0.4"/>
<polygon points="53,226.4 53,226.4 53.32,226.4 53.65,226.35 53.97,225.98 54.29,225.42 54.62,224.89 54.94,224.61 55.27,224.6 55.59,224.6 55.91,224.6 56.24,224.6 56.56,224.6 56.88,224.6 57.21,224.6 57.53,224.6 57.85,224.6 58.18,224.6 58.5,224.6 58.83,224.6 59.15,224.6 59.47,224.6 59.8,224.6 60.12,224.6 60.44,224.6 60.77,224.6 61.09,224.6 61.41,224.6 61.74,224.6 62.06,224.6 62.39,224.6 62.71,224.6 63.03,224.6 63.36,224.6 63.68,224.6 64,224.6 64.33,224.6 64.65,224.59 64.97,224.56 65.3,224.41 65.62,223.9 65.95,222.6 66.27,219.58 66.59,214.1 66.92,205.77 67.24,197.14 67.56,191.56 67.89,190.54 68.21,192.82 68.53,195.68 68.86,196.69 69.18,196.44 69.51,196.32 69.83,197.25 70.15,201.63 70.48,204.16 70.8,207.42 71.12,211.13 71.45,213.02 71.77,214.51 72.09,215.53 72.42,215.59 72.74,216.33 73.07,216.67 73.39,217.11 73.71,216.87 74.04,216 74.36,215.94 74.68,218.26 75.01,217.54 75.33,217.18 75.65,218.84 75.98,216.95 76.3,218.61 76.63,218.69 76.95,220.76 77.27,220.58 77.6,220.68 77.92,221.55 78.24,221.86 78.57,221.73 78.89,222.56 79.21,223.02 79.54,220.75 79.86,221.12 80.19,219.44 80.51,218.34 80.83,219.38 81.16,219.12 81.48,218.7 81.8,218.78 82.13,219.98 82.45,220.72 82.77,220.74 83.1,221.06 83.42,222.21 83.75,222.37 84.07,222.8 84.39,223.32 84.72,223.41 85.04,223.77 85.36,224.16 85.69,224.46 86.01,224.77 86.33,225.09 86.66,225.39 86.98,225.66 87.31,225.91 87.63,226.11 87.95,226.27 88.28,226.37 88.6,226.4 88.6,226.4" fill="#e2e2e2"/>
<polygon points="53,226.4 53,226.4 53.32,226.4 53.65,226.4 53.97,226.4 54.29,226.4 54.62,226.4 54.94,226.4 55.27,226.4 55.59,226.4 55.91,226.4 56.24,226.4 56.56,226.4 56.88,226.4 57.21,226.4 57.53,226.4 57.85,226.4 58.18,226.4 58.5,226.4 58.83,226.4 59.15,226.4 59.47,226.4 59.8,226.4 60.12,226.4 60.44,226.4 60.77,226.4 61.09,226.4 61.41,226.4 61.74,226.4 62.06,226.4 62.39,226.4 62.71,226.4 63.03,226.4 63.36,226.4 63.68,226.4 64,226.4 64.33,226.4 64.65,226.39 64.97,226.36 65.3,226.21 65.62,225.68 65.95,223.08 66.27,219.58 66.59,214.1 66.92,205.77 67.24,197.14 67.56,191.56 67.89,190.54 68.21,192.82 68.53,195.68 68.86,196.69 69.18,196.44 69.51,196.32 69.83,197.29 70.15,205.83 70.48,214.51 70.8,218.67 71.12,221.58 71.45,223.7 71.77,225.04 72.09,225.78 72.42,226.15 72.74,226.32 73.07,226.39 73.39,226.43 73.71,226.46 74.04,226.51 74.36,226.57 74.68,226.67 75.01,226.82 75.33,227.02 75.65,227.29 75.98,227.63 76.3,228 76.63,227.27 76.95,226.11 77.27,223.99 77.6,222.03 77.92,221.63 78.24,221.86 78.57,221.73 78.89,222.56 79.21,223.02 79.54,220.75 79.86,221.12 80.19,219.44 80.51,218.34 80.83,219.38 81.16,219.51 81.48,220.48 81.8,222.34 82.13,224.65 82.45,226.09 82.77,226.78 83.1,226.87 83.42,226.71 83.75,226.6 84.07,226.52 84.39,226.47 84.72,226.44 85.04,226.42 85.36,226.41 85.69,226.41 86.01,226.4 86.33,226.4 86.66,226.4 86.98,226.4 87.31,226.4 87.63,226.4 87.95,226.4 88.28,226.4 88.6,226.4 88.6,226.4" fill="#959595"/>
<polyline points="53,226.4 53.32,226.4 53.65,226.3 53.97,225.09 54.29,220.66 54.62,216.91 54.94,220.43 55.27,223.92 55.59,224.57 55.91,224.6 56.24,224.6 56.56,224.6 56.88,224.6 57.21,224.6 57.53,224.6 57.85,224.6 58.18,224.6 58.5,224.6 58.83,224.6 59.15,224.6 59.47,224.6 59.8,224.6 60.12,224.6 60.44,224.6 60.77,224.6 61.09,224.6 61.41,224.6 61.74,224.6 62.06,224.6 62.39,224.6 62.71,224.6 63.03,224.6 63.36,224.6 63.68,224.6 64,224.6 64.33,224.6 64.65,224.59 64.97,224.56 65.3,224.41 65.62,223.9 65.95,222.6 66.27,219.58 66.59,214.1 66.92,205.77 67.24,197.14 67.56,191.56 67.89,190.54 68.21,192.82 68.53,195.68 68.86,196.69 69.18,196.44 69.51,196.32 69.83,197.25 70.15,201.63 70.48,204.16 70.8,207.42 71.12,211.13 71.45,213.02 71.77,214.51 72.09,215.53 72.42,215.59 72.74,216.33 73.07,216.67 73.39,217.11 73.71,216.87 74.04,216 74.36,215.94 74.68,218.26 75.01,217.54 75.33,217.18 75.65,218.84 75.98,216.95 76.3,218.61 76.63,218.69 76.95,220.76 77.27,220.58 77.6,220.68 77.92,221.55 78.24,221.86 78.57,221.73 78.89,222.56 79.21,223.02 79.54,220.75 79.86,221.12 80.19,219.44 80.51,218.34 80.83,219.38 81.16,219.12 81.48,218.7 81.8,218.78 82.13,219.98 82.45,220.72 82.77,220.74 83.1,221.06 83.42,222.21 83.75,222.37 84.07,222.8 84.39,223.32 84.72,223.41 85.04,223.77 85.36,224.16 85.69,224.46 86.01,224.77 86.33,225.09 86.66,225.39 86.98,225.66 87.31,225.91 87.63,226.11 87.95,226.27 88.28,226.37 88.6,226.4" fill="none" stroke="#777" stroke-width="0.5"/>
<polyline points="53,226.4 53.32,226.4 53.65,226.35 53.97,225.98 54.29,225.42 54.62,224.89 54.94,224.61 55.27,224.6 55.59,224.6 55.91,224.6 56.24,224.6 56.56,224.6 56.88,224.6 57.21,224.6 57.53,224.6 57.85,224.6 58.18,224.6 58.5,224.6 58.83,224.6 59.15,224.6 59.47,224.6 59.8,224.6 60.12,224.6 60.44,224.6 60.77,224.6 61.09,224.6 61.41,224.6 61.74,224.6 62.06,224.6 62.39,224.6 62.71,224.6 63.03,224.6 63.36,224.6 63.68,224.6 64,224.6 64.33,224.6 64.65,224.59 64.97,224.56 65.3,224.41 65.62,223.9 65.95,222.6 66.27,219.58 66.59,214.1 66.92,205.77 67.24,197.14 67.56,191.56 67.89,190.54 68.21,192.82 68.53,195.68 68.86,196.69 69.18,196.44 69.51,196.32 69.83,197.25 70.15,201.63 70.48,204.16 70.8,207.42 71.12,211.13 71.45,213.02 71.77,214.51 72.09,215.53 72.42,215.59 72.74,216.33 73.07,216.67 73.39,217.11 73.71,216.87 74.04,216 74.36,215.94 74.68,218.26 75.01,217.54 75.33,217.18 75.65,218.84 75.98,216.95 76.3,218.61 76.63,218.69 76.95,220.76 77.27,220.58 77.6,220.68 77.92,221.55 78.24,221.86 78.57,221.73 78.89,222.56 79.21,223.02 79.54,220.75 79.86,221.12 80.19,219.44 80.51,218.34 80.83,219.38 81.16,219.12 81.48,218.7 81.8,218.78 82.13,219.98 82.45,220.72 82.77,220.74 83.1,221.06 83.42,222.21 83.75,222.37 84.07,222.8 84.39,223.32 84.72,223.41 85.04,223.77 85.36,224.16 85.69,224.46 86.01,224.77 86.33,225.09 86.66,225.39 86.98,225.66 87.31,225.91 87.63,226.11 87.95,226.27 88.28,226.37 88.6,226.4" fill="none" stroke="#222" stroke-width="0.65"/>
<text x="70.7" y="194" font-size="7.78" stroke="#000" stroke-width="0.2" transform="matrix(0.9 0 0 1 7.07 0)">500 nM</text>
<line x1="102.1" y1="180.5" x2="102.1" y2="226.4" stroke="#222" stroke-width="0.55"/>
<line x1="102.1" y1="226.4" x2="139.1" y2="226.4" stroke="#222" stroke-width="0.55"/>
<rect x="97.7" y="224.9" width="1.7" height="2.8" fill="#555"/>
<line x1="100.5" y1="226.4" x2="102.1" y2="226.4" stroke="#444" stroke-width="0.45"/>
<rect x="97.7" y="215.5" width="1.7" height="2.8" fill="#555"/>
<line x1="100.5" y1="217" x2="102.1" y2="217" stroke="#444" stroke-width="0.45"/>
<rect x="97.7" y="206.1" width="1.7" height="2.8" fill="#555"/>
<line x1="100.5" y1="207.6" x2="102.1" y2="207.6" stroke="#444" stroke-width="0.45"/>
<rect x="97.7" y="196.7" width="1.7" height="2.8" fill="#555"/>
<line x1="100.5" y1="198.2" x2="102.1" y2="198.2" stroke="#444" stroke-width="0.45"/>
<rect x="97.7" y="187.3" width="1.7" height="2.8" fill="#555"/>
<line x1="100.5" y1="188.8" x2="102.1" y2="188.8" stroke="#444" stroke-width="0.45"/>
<text x="102.1" y="231.4" font-size="3.33" stroke="#555" stroke-width="0.08" text-anchor="middle" fill="#555" transform="matrix(0.9 0 0 1 10.21 0)">0</text>
<line x1="102.1" y1="226.4" x2="102.1" y2="227.3" stroke="#444" stroke-width="0.4"/>
<text x="112.4" y="231.4" font-size="3.33" stroke="#555" stroke-width="0.08" text-anchor="middle" fill="#555" transform="matrix(0.9 0 0 1 11.24 0)">50</text>
<line x1="112.4" y1="226.4" x2="112.4" y2="227.3" stroke="#444" stroke-width="0.4"/>
<text x="122.7" y="231.4" font-size="3.33" stroke="#555" stroke-width="0.08" text-anchor="middle" fill="#555" transform="matrix(0.9 0 0 1 12.27 0)">100</text>
<line x1="122.7" y1="226.4" x2="122.7" y2="227.3" stroke="#444" stroke-width="0.4"/>
<text x="133" y="231.4" font-size="3.33" stroke="#555" stroke-width="0.08" text-anchor="middle" fill="#555" transform="matrix(0.9 0 0 1 13.3 0)">150</text>
<line x1="133" y1="226.4" x2="133" y2="227.3" stroke="#444" stroke-width="0.4"/>
<polygon points="102.1,226.4 102.1,226.4 102.43,226.4 102.76,226.33 103.1,225.84 103.43,225.13 103.76,224.49 104.09,224.2 104.42,224.2 104.75,224.2 105.09,224.2 105.42,224.2 105.75,224.2 106.08,224.2 106.41,224.2 106.75,224.2 107.08,224.2 107.41,224.2 107.74,224.2 108.07,224.2 108.4,224.2 108.74,224.2 109.07,224.2 109.4,224.2 109.73,224.2 110.06,224.2 110.4,224.2 110.73,224.2 111.06,224.2 111.39,224.2 111.72,224.2 112.05,224.2 112.39,224.2 112.72,224.2 113.05,224.2 113.38,224.2 113.71,224.19 114.05,224.12 114.38,223.81 114.71,222.79 115.04,220.14 115.37,214.38 115.7,204.79 116.04,192.92 116.37,183.78 116.7,181.56 117.03,186.19 117.36,193.55 117.7,198.78 118.03,200.35 118.36,199.96 118.69,199.91 119.02,199.99 119.35,202.63 119.69,206.99 120.02,211.38 120.35,214.33 120.68,216.25 121.01,217.35 121.35,218.46 121.68,220.58 122.01,219.29 122.34,218.83 122.67,219.42 123,220.42 123.34,219.38 123.67,218.98 124,220.07 124.33,221 124.66,219.27 125,219.66 125.33,220.57 125.66,219.13 125.99,220.4 126.32,220.14 126.65,220.96 126.99,219.9 127.32,219.8 127.65,221.54 127.98,220.6 128.31,218.88 128.65,218.9 128.98,217.08 129.31,218.4 129.64,217.93 129.97,218.66 130.3,218.91 130.64,219.52 130.97,220.28 131.3,221.1 131.63,221.32 131.96,222.23 132.3,222.33 132.63,222.63 132.96,223.04 133.29,223.12 133.62,223.44 133.95,223.64 134.29,223.9 134.62,224.17 134.95,224.44 135.28,224.71 135.61,224.97 135.95,225.23 136.28,225.47 136.61,225.69 136.94,225.89 137.27,226.06 137.6,226.2 137.94,226.31 138.27,226.38 138.6,226.4 138.6,226.4" fill="#e2e2e2"/>
<polygon points="102.1,226.4 102.1,226.4 102.43,226.4 102.76,226.4 103.1,226.4 103.43,226.4 103.76,226.4 104.09,226.4 104.42,226.4 104.75,226.4 105.09,226.4 105.42,226.4 105.75,226.4 106.08,226.4 106.41,226.4 106.75,226.4 107.08,226.4 107.41,226.4 107.74,226.4 108.07,226.4 108.4,226.4 108.74,226.4 109.07,226.4 109.4,226.4 109.73,226.4 110.06,226.4 110.4,226.4 110.73,226.4 111.06,226.4 111.39,226.4 111.72,226.4 112.05,226.4 112.39,226.4 112.72,226.4 113.05,226.4 113.38,226.4 113.71,226.39 114.05,226.32 114.38,226.01 114.71,224.89 115.04,220.24 115.37,214.38 115.7,204.79 116.04,192.92 116.37,183.78 116.7,181.56 117.03,186.19 117.36,193.55 117.7,198.78 118.03,200.35 118.36,199.96 118.69,199.91 119.02,200.02 119.35,206.46 119.69,214.88 120.02,218.85 120.35,221.79 120.68,223.87 121.01,225.16 121.35,225.86 121.68,226.19 122.01,226.33 122.34,226.38 122.67,226.4 123,226.41 123.34,226.42 123.67,226.43 124,226.44 124.33,226.46 124.66,226.49 125,226.53 125.33,226.23 125.66,224.61 125.99,223.2 126.32,221.32 126.65,221.06 126.99,219.9 127.32,219.8 127.65,221.54 127.98,220.6 128.31,218.88 128.65,218.9 128.98,217.08 129.31,218.4 129.64,218.05 129.97,219.75 130.3,221.54 130.64,223.62 130.97,225.3 131.3,226.25 131.63,226.44 131.96,226.42 132.3,226.41 132.63,226.41 132.96,226.4 133.29,226.4 133.62,226.4 133.95,226.4 134.29,226.4 134.62,226.4 134.95,226.4 135.28,226.4 135.61,226.4 135.95,226.4 136.28,226.4 136.61,226.4 136.94,226.4 137.27,226.4 137.6,226.4 137.94,226.4 138.27,226.4 138.6,226.4 138.6,226.4" fill="#959595"/>
<polyline points="102.1,226.4 102.43,226.4 102.76,226.33 103.1,225.84 103.43,225.13 103.76,224.49 104.09,224.2 104.42,224.2 104.75,224.2 105.09,224.2 105.42,224.2 105.75,224.2 106.08,224.2 106.41,224.2 106.75,224.2 107.08,224.2 107.41,224.2 107.74,224.2 108.07,224.2 108.4,224.17 108.74,223.96 109.07,223.17 109.4,221.99 109.73,221.83 110.06,222.92 110.4,223.85 110.73,224.15 111.06,224.2 111.39,224.2 111.72,224.2 112.05,224.2 112.39,224.2 112.72,224.2 113.05,224.2 113.38,224.2 113.71,224.19 114.05,224.12 114.38,223.81 114.71,222.79 115.04,220.14 115.37,214.38 115.7,204.79 116.04,192.92 116.37,183.78 116.7,181.56 117.03,186.19 117.36,193.55 117.7,198.78 118.03,200.35 118.36,199.96 118.69,199.91 119.02,199.99 119.35,202.63 119.69,206.99 120.02,211.38 120.35,214.33 120.68,216.25 121.01,217.35 121.35,218.46 121.68,220.58 122.01,219.29 122.34,218.83 122.67,219.42 123,220.42 123.34,219.38 123.67,218.98 124,220.07 124.33,221 124.66,219.27 125,219.66 125.33,220.57 125.66,219.13 125.99,220.4 126.32,220.14 126.65,220.96 126.99,219.9 127.32,219.8 127.65,221.54 127.98,220.6 128.31,218.88 128.65,218.9 128.98,217.08 129.31,218.4 129.64,217.93 129.97,218.66 130.3,218.91 130.64,219.52 130.97,220.28 131.3,221.1 131.63,221.32 131.96,222.23 132.3,222.33 132.63,222.63 132.96,223.04 133.29,223.12 133.62,223.44 133.95,223.64 134.29,223.9 134.62,224.17 134.95,224.44 135.28,224.71 135.61,224.97 135.95,225.23 136.28,225.47 136.61,225.69 136.94,225.89 137.27,226.06 137.6,226.2 137.94,226.31 138.27,226.38 138.6,226.4" fill="none" stroke="#777" stroke-width="0.5"/>
<polyline points="102.1,226.4 102.43,226.4 102.76,226.33 103.1,225.84 103.43,225.13 103.76,224.49 104.09,224.2 104.42,224.2 104.75,224.2 105.09,224.2 105.42,224.2 105.75,224.2 106.08,224.2 106.41,224.2 106.75,224.2 107.08,224.2 107.41,224.2 107.74,224.2 108.07,224.2 108.4,224.2 108.74,224.2 109.07,224.2 109.4,224.2 109.73,224.2 110.06,224.2 110.4,224.2 110.73,224.2 111.06,224.2 111.39,224.2 111.72,224.2 112.05,224.2 112.39,224.2 112.72,224.2 113.05,224.2 113.38,224.2 113.71,224.19 114.05,224.12 114.38,223.81 114.71,222.79 115.04,220.14 115.37,214.38 115.7,204.79 116.04,192.92 116.37,183.78 116.7,181.56 117.03,186.19 117.36,193.55 117.7,198.78 118.03,200.35 118.36,199.96 118.69,199.91 119.02,199.99 119.35,202.63 119.69,206.99 120.02,211.38 120.35,214.33 120.68,216.25 121.01,217.35 121.35,218.46 121.68,220.58 122.01,219.29 122.34,218.83 122.67,219.42 123,220.42 123.34,219.38 123.67,218.98 124,220.07 124.33,221 124.66,219.27 125,219.66 125.33,220.57 125.66,219.13 125.99,220.4 126.32,220.14 126.65,220.96 126.99,219.9 127.32,219.8 127.65,221.54 127.98,220.6 128.31,218.88 128.65,218.9 128.98,217.08 129.31,218.4 129.64,217.93 129.97,218.66 130.3,218.91 130.64,219.52 130.97,220.28 131.3,221.1 131.63,221.32 131.96,222.23 132.3,222.33 132.63,222.63 132.96,223.04 133.29,223.12 133.62,223.44 133.95,223.64 134.29,223.9 134.62,224.17 134.95,224.44 135.28,224.71 135.61,224.97 135.95,225.23 136.28,225.47 136.61,225.69 136.94,225.89 137.27,226.06 137.6,226.2 137.94,226.31 138.27,226.38 138.6,226.4" fill="none" stroke="#222" stroke-width="0.65"/>
<text x="118.9" y="194.4" font-size="7.78" stroke="#000" stroke-width="0.2" transform="matrix(0.9 0 0 1 11.89 0)">1000 nM</text>
<line x1="6.6" y1="267.8" x2="6.6" y2="313.7" stroke="#222" stroke-width="0.55"/>
<line x1="6.6" y1="313.7" x2="43.6" y2="313.7" stroke="#222" stroke-width="0.55"/>
<rect x="2.2" y="312.2" width="1.7" height="2.8" fill="#555"/>
<line x1="5" y1="313.7" x2="6.6" y2="313.7" stroke="#444" stroke-width="0.45"/>
<rect x="2.2" y="301.7" width="1.7" height="2.8" fill="#555"/>
<line x1="5" y1="303.2" x2="6.6" y2="303.2" stroke="#444" stroke-width="0.45"/>
<rect x="2.2" y="291.2" width="1.7" height="2.8" fill="#555"/>
<line x1="5" y1="292.7" x2="6.6" y2="292.7" stroke="#444" stroke-width="0.45"/>
<rect x="2.2" y="280.7" width="1.7" height="2.8" fill="#555"/>
<line x1="5" y1="282.2" x2="6.6" y2="282.2" stroke="#444" stroke-width="0.45"/>
<rect x="2.2" y="270.2" width="1.7" height="2.8" fill="#555"/>
<line x1="5" y1="271.7" x2="6.6" y2="271.7" stroke="#444" stroke-width="0.45"/>
<text x="6.6" y="318.7" font-size="3.33" stroke="#555" stroke-width="0.08" text-anchor="middle" fill="#555" transform="matrix(0.9 0 0 1 0.66 0)">0</text>
<line x1="6.6" y1="313.7" x2="6.6" y2="314.6" stroke="#444" stroke-width="0.4"/>
<text x="16.9" y="318.7" font-size="3.33" stroke="#555" stroke-width="0.08" text-anchor="middle" fill="#555" transform="matrix(0.9 0 0 1 1.69 0)">50</text>
<line x1="16.9" y1="313.7" x2="16.9" y2="314.6" stroke="#444" stroke-width="0.4"/>
<text x="27.2" y="318.7" font-size="3.33" stroke="#555" stroke-width="0.08" text-anchor="middle" fill="#555" transform="matrix(0.9 0 0 1 2.72 0)">100</text>
<line x1="27.2" y1="313.7" x2="27.2" y2="314.6" stroke="#444" stroke-width="0.4"/>
<text x="37.5" y="318.7" font-size="3.33" stroke="#555" stroke-width="0.08" text-anchor="middle" fill="#555" transform="matrix(0.9 0 0 1 3.75 0)">150</text>
<line x1="37.5" y1="313.7" x2="37.5" y2="314.6" stroke="#444" stroke-width="0.4"/>
<polygon points="6.6,313.7 6.6,313.7 6.94,313.7 7.28,313.68 7.62,313.54 7.96,313.34 8.3,313.16 8.63,313.1 8.97,313.1 9.31,313.1 9.65,313.1 9.99,313.1 10.33,313.1 10.67,313.1 11.01,313.1 11.35,313.1 11.69,313.1 12.03,313.1 12.36,313.1 12.7,313.1 13.04,313.1 13.38,313.1 13.72,313.1 14.06,313.1 14.4,313.1 14.74,313.1 15.08,313.1 15.42,313.1 15.76,313.1 16.09,313.1 16.43,313.1 16.77,313.1 17.11,313.1 17.45,313.1 17.79,313.09 18.13,313.05 18.47,312.94 18.81,312.62 19.15,311.87 19.49,310.31 19.82,307.56 20.16,303.43 20.5,298.16 20.84,291.98 21.18,286.04 21.52,282.25 21.86,281.63 22.2,284.05 22.54,288.08 22.88,291.23 23.22,292.73 23.55,292.83 23.89,292.04 24.23,291.82 24.57,294.76 24.91,295.91 25.25,299.53 25.59,301.3 25.93,302.44 26.27,305.47 26.61,305.48 26.95,305.03 27.28,306.79 27.62,304.71 27.96,305.3 28.3,304.92 28.64,305.92 28.98,305.2 29.32,305.61 29.66,305.41 30,306.36 30.34,305.75 30.68,304.27 31.01,303.91 31.35,305.9 31.69,304.37 32.03,305.14 32.37,304.03 32.71,302.98 33.05,303.36 33.39,303.85 33.73,303.52 34.07,304.43 34.41,303.42 34.74,302.64 35.08,301.19 35.42,301.66 35.76,302.08 36.1,302.15 36.44,303.11 36.78,303.71 37.12,305.16 37.46,305.6 37.8,306.29 38.14,307.85 38.47,308.45 38.81,308.91 39.15,309.26 39.49,309.72 39.83,310.48 40.17,310.72 40.51,311.12 40.85,311.47 41.19,311.87 41.53,312.23 41.87,312.57 42.2,312.87 42.54,313.15 42.88,313.37 43.22,313.55 43.56,313.66 43.9,313.7 43.9,313.7" fill="#e2e2e2"/>
<polygon points="6.6,313.7 6.6,313.7 6.94,313.7 7.28,313.7 7.62,313.7 7.96,313.7 8.3,313.7 8.63,313.7 8.97,313.7 9.31,313.7 9.65,313.7 9.99,313.7 10.33,313.7 10.67,313.7 11.01,313.7 11.35,313.7 11.69,313.7 12.03,313.7 12.36,313.7 12.7,313.7 13.04,313.7 13.38,313.7 13.72,313.7 14.06,313.7 14.4,313.7 14.74,313.7 15.08,313.7 15.42,313.7 15.76,313.7 16.09,313.7 16.43,313.7 16.77,313.7 17.11,313.7 17.45,313.7 17.79,313.69 18.13,313.65 18.47,313.54 18.81,313.22 19.15,312.41 19.49,310.37 19.82,307.56 20.16,303.43 20.5,298.16 20.84,291.98 21.18,286.04 21.52,282.25 21.86,281.63 22.2,284.05 22.54,288.08 22.88,291.23 23.22,292.73 23.55,292.83 23.89,292.04 24.23,291.82 24.57,294.94 24.91,300.42 25.25,306.86 25.59,309.24 25.93,311.07 26.27,312.32 26.61,313.05 26.95,313.42 27.28,313.58 27.62,313.64 27.96,313.64 28.3,313.63 28.64,313.59 28.98,313.54 29.32,313.47 29.66,313.38 30,313.26 30.34,313.11 30.68,312.83 31.01,311.58 31.35,310.3 31.69,307.74 32.03,306.54 32.37,304.38 32.71,302.98 33.05,303.36 33.39,303.85 33.73,303.52 34.07,304.43 34.41,303.42 34.74,302.64 35.08,301.19 35.42,301.66 35.76,302.08 36.1,302.19 36.44,303.87 36.78,305.76 37.12,308.39 37.46,310.23 37.8,311.86 38.14,313.03 38.47,313.46 38.81,313.54 39.15,313.59 39.49,313.63 39.83,313.65 40.17,313.67 40.51,313.68 40.85,313.69 41.19,313.69 41.53,313.7 41.87,313.7 42.2,313.7 42.54,313.7 42.88,313.7 43.22,313.7 43.56,313.7 43.9,313.7 43.9,313.7" fill="#959595"/>
<polyline points="6.6,313.41 6.94,309.17 7.28,293.9 7.62,289.45 7.96,305.16 8.3,312.39 8.63,313.08 8.97,313.1 9.31,313.1 9.65,313.1 9.99,313.1 10.33,313.1 10.67,313.1 11.01,313.1 11.35,313.1 11.69,313.1 12.03,313.1 12.36,313.1 12.7,313.1 13.04,313.1 13.38,313.1 13.72,313.1 14.06,313.1 14.4,313.1 14.74,313.1 15.08,313.1 15.42,313.1 15.76,313.1 16.09,313.1 16.43,313.1 16.77,313.1 17.11,313.1 17.45,313.1 17.79,313.09 18.13,313.05 18.47,312.94 18.81,312.62 19.15,311.87 19.49,310.31 19.82,307.56 20.16,303.43 20.5,298.16 20.84,291.98 21.18,286.04 21.52,282.25 21.86,281.63 22.2,284.05 22.54,288.08 22.88,291.23 23.22,292.73 23.55,292.83 23.89,292.04 24.23,291.82 24.57,294.76 24.91,295.91 25.25,299.53 25.59,301.3 25.93,302.44 26.27,305.47 26.61,305.48 26.95,305.03 27.28,306.79 27.62,304.71 27.96,305.3 28.3,304.92 28.64,305.92 28.98,305.2 29.32,305.61 29.66,305.41 30,306.36 30.34,305.75 30.68,304.27 31.01,303.91 31.35,305.9 31.69,304.37 32.03,305.14 32.37,304.03 32.71,302.98 33.05,303.36 33.39,303.85 33.73,303.52 34.07,304.43 34.41,303.42 34.74,302.64 35.08,301.19 35.42,301.66 35.76,302.08 36.1,302.15 36.44,303.11 36.78,303.71 37.12,305.16 37.46,305.6 37.8,306.29 38.14,307.85 38.47,308.45 38.81,308.91 39.15,309.26 39.49,309.72 39.83,310.48 40.17,310.72 40.51,311.12 40.85,311.47 41.19,311.87 41.53,312.23 41.87,312.57 42.2,312.87 42.54,313.15 42.88,313.37 43.22,313.55 43.56,313.66 43.9,313.7" fill="none" stroke="#777" stroke-width="0.5"/>
<polyline points="6.6,313.7 6.94,313.7 7.28,313.68 7.62,313.54 7.96,313.34 8.3,313.16 8.63,313.1 8.97,313.1 9.31,313.1 9.65,313.1 9.99,313.1 10.33,313.1 10.67,313.1 11.01,313.1 11.35,313.1 11.69,313.1 12.03,313.1 12.36,313.1 12.7,313.1 13.04,313.1 13.38,313.1 13.72,313.1 14.06,313.1 14.4,313.1 14.74,313.1 15.08,313.1 15.42,313.1 15.76,313.1 16.09,313.1 16.43,313.1 16.77,313.1 17.11,313.1 17.45,313.1 17.79,313.09 18.13,313.05 18.47,312.94 18.81,312.62 19.15,311.87 19.49,310.31 19.82,307.56 20.16,303.43 20.5,298.16 20.84,291.98 21.18,286.04 21.52,282.25 21.86,281.63 22.2,284.05 22.54,288.08 22.88,291.23 23.22,292.73 23.55,292.83 23.89,292.04 24.23,291.82 24.57,294.76 24.91,295.91 25.25,299.53 25.59,301.3 25.93,302.44 26.27,305.47 26.61,305.48 26.95,305.03 27.28,306.79 27.62,304.71 27.96,305.3 28.3,304.92 28.64,305.92 28.98,305.2 29.32,305.61 29.66,305.41 30,306.36 30.34,305.75 30.68,304.27 31.01,303.91 31.35,305.9 31.69,304.37 32.03,305.14 32.37,304.03 32.71,302.98 33.05,303.36 33.39,303.85 33.73,303.52 34.07,304.43 34.41,303.42 34.74,302.64 35.08,301.19 35.42,301.66 35.76,302.08 36.1,302.15 36.44,303.11 36.78,303.71 37.12,305.16 37.46,305.6 37.8,306.29 38.14,307.85 38.47,308.45 38.81,308.91 39.15,309.26 39.49,309.72 39.83,310.48 40.17,310.72 40.51,311.12 40.85,311.47 41.19,311.87 41.53,312.23 41.87,312.57 42.2,312.87 42.54,313.15 42.88,313.37 43.22,313.55 43.56,313.66 43.9,313.7" fill="none" stroke="#222" stroke-width="0.65"/>
<text x="28" y="281" font-size="7.78" stroke="#000" stroke-width="0.2" transform="matrix(0.9 0 0 1 2.8 0)">0 nM</text>
<line x1="53.8" y1="267.3" x2="53.8" y2="312.8" stroke="#222" stroke-width="0.55"/>
<line x1="53.8" y1="312.8" x2="90.8" y2="312.8" stroke="#222" stroke-width="0.55"/>
<rect x="49.4" y="311.3" width="1.7" height="2.8" fill="#555"/>
<line x1="52.2" y1="312.8" x2="53.8" y2="312.8" stroke="#444" stroke-width="0.45"/>
<rect x="49.4" y="300.8" width="1.7" height="2.8" fill="#555"/>
<line x1="52.2" y1="302.3" x2="53.8" y2="302.3" stroke="#444" stroke-width="0.45"/>
<rect x="49.4" y="290.3" width="1.7" height="2.8" fill="#555"/>
<line x1="52.2" y1="291.8" x2="53.8" y2="291.8" stroke="#444" stroke-width="0.45"/>
<rect x="49.4" y="279.8" width="1.7" height="2.8" fill="#555"/>
<line x1="52.2" y1="281.3" x2="53.8" y2="281.3" stroke="#444" stroke-width="0.45"/>
<rect x="49.4" y="269.3" width="1.7" height="2.8" fill="#555"/>
<line x1="52.2" y1="270.8" x2="53.8" y2="270.8" stroke="#444" stroke-width="0.45"/>
<text x="53.8" y="317.8" font-size="3.33" stroke="#555" stroke-width="0.08" text-anchor="middle" fill="#555" transform="matrix(0.9 0 0 1 5.38 0)">0</text>
<line x1="53.8" y1="312.8" x2="53.8" y2="313.7" stroke="#444" stroke-width="0.4"/>
<text x="64.1" y="317.8" font-size="3.33" stroke="#555" stroke-width="0.08" text-anchor="middle" fill="#555" transform="matrix(0.9 0 0 1 6.41 0)">50</text>
<line x1="64.1" y1="312.8" x2="64.1" y2="313.7" stroke="#444" stroke-width="0.4"/>
<text x="74.4" y="317.8" font-size="3.33" stroke="#555" stroke-width="0.08" text-anchor="middle" fill="#555" transform="matrix(0.9 0 0 1 7.44 0)">100</text>
<line x1="74.4" y1="312.8" x2="74.4" y2="313.7" stroke="#444" stroke-width="0.4"/>
<text x="84.7" y="317.8" font-size="3.33" stroke="#555" stroke-width="0.08" text-anchor="middle" fill="#555" transform="matrix(0.9 0 0 1 8.47 0)">150</text>
<line x1="84.7" y1="312.8" x2="84.7" y2="313.7" stroke="#444" stroke-width="0.4"/>
<polygon points="53.8,312.8 53.8,312.8 54.15,312.8 54.49,312.77 54.84,312.62 55.18,312.42 55.53,312.25 55.87,312.2 56.22,312.2 56.56,312.2 56.91,312.2 57.25,312.2 57.6,312.2 57.95,312.2 58.29,312.2 58.64,312.2 58.98,312.2 59.33,312.2 59.67,312.2 60.02,312.2 60.36,312.2 60.71,312.2 61.05,312.2 61.4,312.2 61.75,312.2 62.09,312.2 62.44,312.2 62.78,312.2 63.13,312.2 63.47,312.2 63.82,312.19 64.16,312.17 64.51,312.08 64.85,311.8 65.2,311.04 65.55,309.33 65.89,306.13 66.24,301.05 66.58,294.4 66.93,286.75 67.27,280.22 67.62,276.97 67.96,277.76 68.31,281.74 68.65,286.61 69,290.4 69.35,292.93 69.69,294.8 70.04,297.45 70.38,298.95 70.73,301.59 71.07,302.93 71.42,304.83 71.76,304.55 72.11,306.08 72.45,306.54 72.8,305.43 73.15,305.09 73.49,307.1 73.84,305.26 74.18,307.46 74.53,305.16 74.87,306.66 75.22,305.85 75.56,305.94 75.91,307.12 76.25,307.13 76.6,305.41 76.95,306.3 77.29,305.25 77.64,305.9 77.98,306.13 78.33,304.79 78.67,303.98 79.02,304.31 79.36,303.85 79.71,304.24 80.05,303.06 80.4,304.22 80.75,302.63 81.09,302.81 81.44,300.18 81.78,301.13 82.13,301.22 82.47,301.08 82.82,302.19 83.16,303.64 83.51,303.42 83.85,304.93 84.2,305.06 84.55,306.25 84.89,306.36 85.24,306.96 85.58,307.39 85.93,308 86.27,308.57 86.62,308.9 86.96,309.15 87.31,309.39 87.65,309.75 88,310.16 88.35,310.5 88.69,310.85 89.04,311.19 89.38,311.52 89.73,311.82 90.07,312.09 90.42,312.33 90.76,312.53 91.11,312.67 91.45,312.77 91.8,312.8 91.8,312.8" fill="#e2e2e2"/>
<polygon points="53.8,312.8 53.8,312.8 54.15,312.8 54.49,312.8 54.84,312.8 55.18,312.8 55.53,312.8 55.87,312.8 56.22,312.8 56.56,312.8 56.91,312.8 57.25,312.8 57.6,312.8 57.95,312.8 58.29,312.8 58.64,312.8 58.98,312.8 59.33,312.8 59.67,312.8 60.02,312.8 60.36,312.8 60.71,312.8 61.05,312.8 61.4,312.8 61.75,312.8 62.09,312.8 62.44,312.8 62.78,312.8 63.13,312.8 63.47,312.8 63.82,312.79 64.16,312.77 64.51,312.68 64.85,312.4 65.2,311.63 65.55,309.45 65.89,306.13 66.24,301.05 66.58,294.4 66.93,286.75 67.27,280.22 67.62,276.97 67.96,277.76 68.31,281.74 68.65,286.61 69,290.4 69.35,292.93 69.69,294.8 70.04,297.96 70.38,303.53 70.73,307.98 71.07,309.75 71.42,311.07 71.76,311.93 72.11,312.41 72.45,312.64 72.8,312.74 73.15,312.78 73.49,312.78 73.84,312.78 74.18,312.77 74.53,312.75 74.87,312.72 75.22,312.68 75.56,312.62 75.91,312.55 76.25,312.45 76.6,312.33 76.95,312.18 77.29,311.5 77.64,310.29 77.98,308.89 78.33,306.55 78.67,304.56 79.02,304.31 79.36,303.85 79.71,304.24 80.05,303.06 80.4,304.22 80.75,302.63 81.09,302.81 81.44,300.18 81.78,301.13 82.13,301.22 82.47,301.11 82.82,302.89 83.16,305.46 83.51,306.99 83.85,309.44 84.2,310.95 84.55,312.14 84.89,312.59 85.24,312.66 85.58,312.71 85.93,312.74 86.27,312.76 86.62,312.78 86.96,312.79 87.31,312.79 87.65,312.8 88,312.8 88.35,312.8 88.69,312.8 89.04,312.8 89.38,312.8 89.73,312.8 90.07,312.8 90.42,312.8 90.76,312.8 91.11,312.8 91.45,312.8 91.8,312.8 91.8,312.8" fill="#959595"/>
<polyline points="53.8,312.8 54.15,312.8 54.49,312.77 54.84,312.62 55.18,312.42 55.53,312.25 55.87,312.2 56.22,312.2 56.56,312.2 56.91,312.2 57.25,312.2 57.6,312.2 57.95,312.2 58.29,312.2 58.64,312.2 58.98,312.2 59.33,312.2 59.67,312.2 60.02,312.2 60.36,312.2 60.71,312.2 61.05,312.2 61.4,312.2 61.75,312.2 62.09,312.2 62.44,312.2 62.78,312.2 63.13,312.2 63.47,312.2 63.82,312.19 64.16,312.17 64.51,312.08 64.85,311.8 65.2,311.04 65.55,309.33 65.89,306.13 66.24,301.05 66.58,294.4 66.93,286.75 67.27,280.22 67.62,276.97 67.96,277.76 68.31,281.74 68.65,286.61 69,290.4 69.35,292.93 69.69,294.8 70.04,297.45 70.38,298.95 70.73,301.59 71.07,302.93 71.42,304.83 71.76,304.55 72.11,306.08 72.45,306.54 72.8,305.43 73.15,305.09 73.49,307.1 73.84,305.26 74.18,307.46 74.53,305.16 74.87,306.66 75.22,305.85 75.56,305.94 75.91,307.12 76.25,307.13 76.6,305.41 76.95,306.3 77.29,305.25 77.64,305.9 77.98,306.13 78.33,304.79 78.67,303.98 79.02,304.31 79.36,303.85 79.71,304.24 80.05,303.06 80.4,304.22 80.75,302.63 81.09,302.81 81.44,300.18 81.78,301.13 82.13,301.22 82.47,301.08 82.82,302.19 83.16,303.64 83.51,303.42 83.85,304.93 84.2,305.06 84.55,306.25 84.89,306.36 85.24,306.96 85.58,307.39 85.93,308 86.27,308.57 86.62,308.9 86.96,309.15 87.31,309.39 87.65,309.75 88,310.16 88.35,310.5 88.69,310.85 89.04,311.19 89.38,311.52 89.73,311.82 90.07,312.09 90.42,312.33 90.76,312.53 91.11,312.67 91.45,312.77 91.8,312.8" fill="none" stroke="#222" stroke-width="0.65"/>
<text x="69.8" y="281.4" font-size="7.78" stroke="#000" stroke-width="0.2" transform="matrix(0.9 0 0 1 6.98 0)">1000 nM</text>
<line x1="102.1" y1="267.3" x2="102.1" y2="313.4" stroke="#222" stroke-width="0.55"/>
<line x1="102.1" y1="313.4" x2="139.1" y2="313.4" stroke="#222" stroke-width="0.55"/>
<rect x="97.7" y="311.9" width="1.7" height="2.8" fill="#555"/>
<line x1="100.5" y1="313.4" x2="102.1" y2="313.4" stroke="#444" stroke-width="0.45"/>
<rect x="97.7" y="301.4" width="1.7" height="2.8" fill="#555"/>
<line x1="100.5" y1="302.9" x2="102.1" y2="302.9" stroke="#444" stroke-width="0.45"/>
<rect x="97.7" y="290.9" width="1.7" height="2.8" fill="#555"/>
<line x1="100.5" y1="292.4" x2="102.1" y2="292.4" stroke="#444" stroke-width="0.45"/>
<rect x="97.7" y="280.4" width="1.7" height="2.8" fill="#555"/>
<line x1="100.5" y1="281.9" x2="102.1" y2="281.9" stroke="#444" stroke-width="0.45"/>
<rect x="97.7" y="269.9" width="1.7" height="2.8" fill="#555"/>
<line x1="100.5" y1="271.4" x2="102.1" y2="271.4" stroke="#444" stroke-width="0.45"/>
<text x="102.1" y="318.4" font-size="3.33" stroke="#555" stroke-width="0.08" text-anchor="middle" fill="#555" transform="matrix(0.9 0 0 1 10.21 0)">0</text>
<line x1="102.1" y1="313.4" x2="102.1" y2="314.3" stroke="#444" stroke-width="0.4"/>
<text x="112.4" y="318.4" font-size="3.33" stroke="#555" stroke-width="0.08" text-anchor="middle" fill="#555" transform="matrix(0.9 0 0 1 11.24 0)">50</text>
<line x1="112.4" y1="313.4" x2="112.4" y2="314.3" stroke="#444" stroke-width="0.4"/>
<text x="122.7" y="318.4" font-size="3.33" stroke="#555" stroke-width="0.08" text-anchor="middle" fill="#555" transform="matrix(0.9 0 0 1 12.27 0)">100</text>
<line x1="122.7" y1="313.4" x2="122.7" y2="314.3" stroke="#444" stroke-width="0.4"/>
<text x="133" y="318.4" font-size="3.33" stroke="#555" stroke-width="0.08" text-anchor="middle" fill="#555" transform="matrix(0.9 0 0 1 13.3 0)">150</text>
<line x1="133" y1="313.4" x2="133" y2="314.3" stroke="#444" stroke-width="0.4"/>
<polygon points="102.1,313.4 102.1,313.4 102.42,313.4 102.74,313.39 103.05,313.27 103.37,313.09 103.69,312.91 104.01,312.81 104.33,312.8 104.65,312.8 104.96,312.8 105.28,312.8 105.6,312.8 105.92,312.8 106.24,312.8 106.55,312.8 106.87,312.8 107.19,312.8 107.51,312.8 107.83,312.8 108.15,312.8 108.46,312.8 108.78,312.8 109.1,312.8 109.42,312.8 109.74,312.8 110.05,312.8 110.37,312.8 110.69,312.8 111.01,312.8 111.33,312.8 111.65,312.8 111.96,312.8 112.28,312.79 112.6,312.76 112.92,312.69 113.24,312.5 113.55,312.06 113.87,311.15 114.19,309.45 114.51,306.56 114.83,302.26 115.15,296.56 115.46,289.95 115.78,283.14 116.1,277.18 116.42,273.6 116.74,273.32 117.05,276.48 117.37,282.35 117.69,289.21 118.01,295.6 118.33,300.71 118.65,304.72 118.96,305.97 119.28,308.64 119.6,308.49 119.92,309.17 120.24,309.19 120.55,307.79 120.87,307.95 121.19,308.01 121.51,308.5 121.83,310.1 122.15,310.08 122.46,308.54 122.78,308.37 123.1,308.15 123.42,308.29 123.74,309.83 124.05,307.97 124.37,307.29 124.69,307.47 125.01,308.65 125.33,306.58 125.65,306.48 125.96,306.93 126.28,306.53 126.6,303.71 126.92,305.28 127.24,302.99 127.55,304 127.87,302.72 128.19,301.08 128.51,301.2 128.83,301.91 129.15,301.18 129.46,301.03 129.78,300.99 130.1,301.2 130.42,302.15 130.74,303.17 131.05,305.06 131.37,306.01 131.69,306.12 132.01,306.44 132.33,307.32 132.65,308.65 132.96,308.68 133.28,309.56 133.6,310.44 133.92,310.47 134.24,311.25 134.55,311.5 134.87,311.85 135.19,312.25 135.51,312.54 135.83,312.78 136.15,313.05 136.46,313.23 136.78,313.36 137.1,313.4 137.1,313.4" fill="#e2e2e2"/>
<polygon points="102.1,313.4 102.1,313.4 102.42,313.4 102.74,313.4 103.05,313.4 103.37,313.4 103.69,313.4 104.01,313.4 104.33,313.4 104.65,313.4 104.96,313.4 105.28,313.4 105.6,313.4 105.92,313.4 106.24,313.4 106.55,313.4 106.87,313.4 107.19,313.4 107.51,313.4 107.83,313.4 108.15,313.4 108.46,313.4 108.78,313.4 109.1,313.4 109.42,313.4 109.74,313.4 110.05,313.4 110.37,313.4 110.69,313.4 111.01,313.4 111.33,313.4 111.65,313.4 111.96,313.4 112.28,313.39 112.6,313.36 112.92,313.29 113.24,313.1 113.55,312.66 113.87,311.71 114.19,309.6 114.51,306.56 114.83,302.26 115.15,296.56 115.46,289.95 115.78,283.14 116.1,277.18 116.42,273.6 116.74,273.32 117.05,276.48 117.37,282.35 117.69,289.21 118.01,296.51 118.33,304.11 118.65,308.73 118.96,311 119.28,312.27 119.6,312.92 119.92,313.21 120.24,313.33 120.55,313.38 120.87,313.39 121.19,313.39 121.51,313.39 121.83,313.38 122.15,313.36 122.46,313.34 122.78,313.3 123.1,313.24 123.42,313.16 123.74,313.04 124.05,312.87 124.37,312.65 124.69,312.36 125.01,312 125.33,311.57 125.65,310.86 125.96,309.78 126.28,308.47 126.6,305.63 126.92,305.75 127.24,303.08 127.55,304 127.87,302.72 128.19,301.08 128.51,301.2 128.83,301.91 129.15,301.18 129.46,301.03 129.78,300.99 130.1,301.2 130.42,302.15 130.74,303.23 131.05,305.53 131.37,307.16 131.69,308.35 132.01,309.79 132.33,311.24 132.65,312.27 132.96,312.75 133.28,312.95 133.6,313.09 133.92,313.2 134.24,313.27 134.55,313.32 134.87,313.35 135.19,313.37 135.51,313.38 135.83,313.39 136.15,313.39 136.46,313.4 136.78,313.4 137.1,313.4 137.1,313.4" fill="#959595"/>
<polyline points="102.1,313.4 102.42,313.4 102.74,313.39 103.05,313.27 103.37,313.09 103.69,312.91 104.01,312.81 104.33,312.8 104.65,312.8 104.96,312.8 105.28,312.8 105.6,312.8 105.92,312.8 106.24,312.8 106.55,312.8 106.87,312.8 107.19,312.8 107.51,312.8 107.83,312.8 108.15,312.8 108.46,312.8 108.78,312.8 109.1,312.8 109.42,312.8 109.74,312.8 110.05,312.8 110.37,312.8 110.69,312.8 111.01,312.8 111.33,312.8 111.65,312.8 111.96,312.8 112.28,312.79 112.6,312.76 112.92,312.69 113.24,312.5 113.55,312.06 113.87,311.15 114.19,309.45 114.51,306.56 114.83,302.26 115.15,296.56 115.46,289.95 115.78,283.14 116.1,277.18 116.42,273.6 116.74,273.32 117.05,276.48 117.37,282.35 117.69,289.21 118.01,295.6 118.33,300.71 118.65,304.72 118.96,305.97 119.28,308.64 119.6,308.49 119.92,309.17 120.24,309.19 120.55,307.79 120.87,307.95 121.19,308.01 121.51,308.5 121.83,310.1 122.15,310.08 122.46,308.54 122.78,308.37 123.1,308.15 123.42,308.29 123.74,309.83 124.05,307.97 124.37,307.29 124.69,307.47 125.01,308.65 125.33,306.58 125.65,306.48 125.96,306.93 126.28,306.53 126.6,303.71 126.92,305.28 127.24,302.99 127.55,304 127.87,302.72 128.19,301.08 128.51,301.2 128.83,301.91 129.15,301.18 129.46,301.03 129.78,300.99 130.1,301.2 130.42,302.15 130.74,303.17 131.05,305.06 131.37,306.01 131.69,306.12 132.01,306.44 132.33,307.32 132.65,308.65 132.96,308.68 133.28,309.56 133.6,310.44 133.92,310.47 134.24,311.25 134.55,311.5 134.87,311.85 135.19,312.25 135.51,312.54 135.83,312.78 136.15,313.05 136.46,313.23 136.78,313.36 137.1,313.4" fill="none" stroke="#222" stroke-width="0.65"/>
<text x="119.8" y="281.4" font-size="7.78" stroke="#000" stroke-width="0.2" transform="matrix(0.9 0 0 1 11.98 0)">2000 nM</text>
<line x1="173" y1="50.72" x2="242.6" y2="50.72" stroke="#7a7a7a" stroke-width="0.62"/>
<line x1="173" y1="43.84" x2="242.6" y2="43.84" stroke="#7a7a7a" stroke-width="0.62"/>
<line x1="173" y1="36.96" x2="242.6" y2="36.96" stroke="#7a7a7a" stroke-width="0.62"/>
<line x1="173" y1="30.08" x2="242.6" y2="30.08" stroke="#7a7a7a" stroke-width="0.62"/>
<line x1="173" y1="23.2" x2="242.6" y2="23.2" stroke="#7a7a7a" stroke-width="0.62"/>
<line x1="173" y1="16.32" x2="242.6" y2="16.32" stroke="#7a7a7a" stroke-width="0.62"/>
<line x1="173" y1="9.44" x2="242.6" y2="9.44" stroke="#7a7a7a" stroke-width="0.62"/>
<line x1="242.6" y1="9.44" x2="242.6" y2="57.6" stroke="#9a9a9a" stroke-width="0.5"/>
<text x="169.7" y="59.8" font-size="7.11" stroke="#333" stroke-width="0.04" text-anchor="end" fill="#333" transform="matrix(0.9 0 0 1 16.97 0)">0</text>
<line x1="171.8" y1="57.6" x2="173" y2="57.6" stroke="#333" stroke-width="0.45"/>
<text x="169.7" y="52.92" font-size="7.11" stroke="#333" stroke-width="0.04" text-anchor="end" fill="#333" transform="matrix(0.9 0 0 1 16.97 0)">10</text>
<line x1="171.8" y1="50.72" x2="173" y2="50.72" stroke="#333" stroke-width="0.45"/>
<text x="169.7" y="46.04" font-size="7.11" stroke="#333" stroke-width="0.04" text-anchor="end" fill="#333" transform="matrix(0.9 0 0 1 16.97 0)">20</text>
<line x1="171.8" y1="43.84" x2="173" y2="43.84" stroke="#333" stroke-width="0.45"/>
<text x="169.7" y="39.16" font-size="7.11" stroke="#333" stroke-width="0.04" text-anchor="end" fill="#333" transform="matrix(0.9 0 0 1 16.97 0)">30</text>
<line x1="171.8" y1="36.96" x2="173" y2="36.96" stroke="#333" stroke-width="0.45"/>
<text x="169.7" y="32.28" font-size="7.11" stroke="#333" stroke-width="0.04" text-anchor="end" fill="#333" transform="matrix(0.9 0 0 1 16.97 0)">40</text>
<line x1="171.8" y1="30.08" x2="173" y2="30.08" stroke="#333" stroke-width="0.45"/>
<text x="169.7" y="25.4" font-size="7.11" stroke="#333" stroke-width="0.04" text-anchor="end" fill="#333" transform="matrix(0.9 0 0 1 16.97 0)">50</text>
<line x1="171.8" y1="23.2" x2="173" y2="23.2" stroke="#333" stroke-width="0.45"/>
<text x="169.7" y="18.52" font-size="7.11" stroke="#333" stroke-width="0.04" text-anchor="end" fill="#333" transform="matrix(0.9 0 0 1 16.97 0)">60</text>
<line x1="171.8" y1="16.32" x2="173" y2="16.32" stroke="#333" stroke-width="0.45"/>
<text x="169.7" y="11.64" font-size="7.11" stroke="#333" stroke-width="0.04" text-anchor="end" fill="#333" transform="matrix(0.9 0 0 1 16.97 0)">70</text>
<line x1="171.8" y1="9.44" x2="173" y2="9.44" stroke="#333" stroke-width="0.45"/>
<rect x="175.97" y="32.83" width="4.09" height="24.77" fill="#ececec" stroke="#777" stroke-width="0.45"/>
<line x1="178.01" y1="31.8" x2="178.01" y2="32.83" stroke="#555" stroke-width="0.4"/>
<line x1="177.31" y1="31.8" x2="178.71" y2="31.8" stroke="#555" stroke-width="0.4"/>
<rect x="180.06" y="32.14" width="4.09" height="25.46" fill="#000"/>
<line x1="182.1" y1="31.11" x2="182.1" y2="32.14" stroke="#555" stroke-width="0.4"/>
<line x1="181.4" y1="31.11" x2="182.8" y2="31.11" stroke="#555" stroke-width="0.4"/>
<rect x="184.14" y="36.96" width="4.09" height="20.64" fill="#fff" stroke="#888" stroke-width="0.45"/>
<line x1="186.19" y1="36.41" x2="186.19" y2="36.96" stroke="#555" stroke-width="0.4"/>
<line x1="185.49" y1="36.41" x2="186.89" y2="36.41" stroke="#555" stroke-width="0.4"/>
<line x1="190.4" y1="57.6" x2="190.4" y2="58.8" stroke="#333" stroke-width="0.45"/>
<rect x="193.37" y="32.83" width="4.09" height="24.77" fill="#ececec" stroke="#777" stroke-width="0.45"/>
<line x1="195.41" y1="32.14" x2="195.41" y2="32.83" stroke="#555" stroke-width="0.4"/>
<line x1="194.71" y1="32.14" x2="196.11" y2="32.14" stroke="#555" stroke-width="0.4"/>
<rect x="197.46" y="32.83" width="4.09" height="24.77" fill="#000"/>
<line x1="199.5" y1="32.49" x2="199.5" y2="32.83" stroke="#555" stroke-width="0.4"/>
<line x1="198.8" y1="32.49" x2="200.2" y2="32.49" stroke="#555" stroke-width="0.4"/>
<rect x="201.54" y="37.65" width="4.09" height="19.95" fill="#fff" stroke="#888" stroke-width="0.45"/>
<line x1="203.59" y1="36.96" x2="203.59" y2="37.65" stroke="#555" stroke-width="0.4"/>
<line x1="202.89" y1="36.96" x2="204.29" y2="36.96" stroke="#555" stroke-width="0.4"/>
<line x1="207.8" y1="57.6" x2="207.8" y2="58.8" stroke="#333" stroke-width="0.45"/>
<rect x="210.77" y="28.7" width="4.09" height="28.9" fill="#ececec" stroke="#777" stroke-width="0.45"/>
<line x1="212.81" y1="28.36" x2="212.81" y2="28.7" stroke="#555" stroke-width="0.4"/>
<line x1="212.11" y1="28.36" x2="213.51" y2="28.36" stroke="#555" stroke-width="0.4"/>
<rect x="214.86" y="34.9" width="4.09" height="22.7" fill="#000"/>
<line x1="216.9" y1="33.86" x2="216.9" y2="34.9" stroke="#555" stroke-width="0.4"/>
<line x1="216.2" y1="33.86" x2="217.6" y2="33.86" stroke="#555" stroke-width="0.4"/>
<rect x="218.94" y="41.09" width="4.09" height="16.51" fill="#fff" stroke="#888" stroke-width="0.45"/>
<line x1="220.99" y1="40.74" x2="220.99" y2="41.09" stroke="#555" stroke-width="0.4"/>
<line x1="220.29" y1="40.74" x2="221.69" y2="40.74" stroke="#555" stroke-width="0.4"/>
<line x1="225.2" y1="57.6" x2="225.2" y2="58.8" stroke="#333" stroke-width="0.45"/>
<rect x="228.17" y="23.54" width="4.09" height="34.06" fill="#ececec" stroke="#777" stroke-width="0.45"/>
<line x1="230.21" y1="21.48" x2="230.21" y2="23.54" stroke="#555" stroke-width="0.4"/>
<line x1="229.51" y1="21.48" x2="230.91" y2="21.48" stroke="#555" stroke-width="0.4"/>
<rect x="232.26" y="39.02" width="4.09" height="18.58" fill="#000"/>
<line x1="234.3" y1="38.68" x2="234.3" y2="39.02" stroke="#555" stroke-width="0.4"/>
<line x1="233.6" y1="38.68" x2="235" y2="38.68" stroke="#555" stroke-width="0.4"/>
<rect x="236.34" y="42.46" width="4.09" height="15.14" fill="#fff" stroke="#888" stroke-width="0.45"/>
<line x1="238.39" y1="42.12" x2="238.39" y2="42.46" stroke="#555" stroke-width="0.4"/>
<line x1="237.69" y1="42.12" x2="239.09" y2="42.12" stroke="#555" stroke-width="0.4"/>
<line x1="242.6" y1="57.6" x2="242.6" y2="58.8" stroke="#333" stroke-width="0.45"/>
<line x1="173" y1="9.44" x2="173" y2="57.6" stroke="#111" stroke-width="0.6"/>
<line x1="173" y1="57.6" x2="242.6" y2="57.6" stroke="#111" stroke-width="0.6"/>
<text x="182.2" y="67.8" font-size="7.11" stroke="#000" stroke-width="0.2" text-anchor="middle" transform="matrix(0.9 0 0 1 18.22 0)">0</text>
<text x="200.6" y="67.8" font-size="7.11" stroke="#000" stroke-width="0.2" text-anchor="middle" transform="matrix(0.9 0 0 1 20.06 0)">10</text>
<text x="217.8" y="67.8" font-size="7.11" stroke="#000" stroke-width="0.2" text-anchor="middle" transform="matrix(0.9 0 0 1 21.78 0)">20</text>
<text x="235.3" y="67.8" font-size="7.11" stroke="#000" stroke-width="0.2" text-anchor="middle" transform="matrix(0.9 0 0 1 23.53 0)">50</text>
<text x="245.6" y="67.8" font-size="6" stroke="#000" stroke-width="0.2" text-anchor="middle" transform="matrix(0.9 0 0 1 24.56 0)">nM</text>
<text x="206.2" y="77" font-size="7.33" stroke="#000" stroke-width="0.2" text-anchor="middle" transform="matrix(0.9 0 0 1 20.62 0)">AP23464</text>
<line x1="172.3" y1="135.57" x2="241.7" y2="135.57" stroke="#7a7a7a" stroke-width="0.62"/>
<line x1="172.3" y1="128.74" x2="241.7" y2="128.74" stroke="#7a7a7a" stroke-width="0.62"/>
<line x1="172.3" y1="121.91" x2="241.7" y2="121.91" stroke="#7a7a7a" stroke-width="0.62"/>
<line x1="172.3" y1="115.08" x2="241.7" y2="115.08" stroke="#7a7a7a" stroke-width="0.62"/>
<line x1="172.3" y1="108.25" x2="241.7" y2="108.25" stroke="#7a7a7a" stroke-width="0.62"/>
<line x1="172.3" y1="101.42" x2="241.7" y2="101.42" stroke="#7a7a7a" stroke-width="0.62"/>
<line x1="172.3" y1="94.59" x2="241.7" y2="94.59" stroke="#7a7a7a" stroke-width="0.62"/>
<line x1="241.7" y1="94.59" x2="241.7" y2="142.4" stroke="#9a9a9a" stroke-width="0.5"/>
<text x="169" y="144.6" font-size="7.11" stroke="#333" stroke-width="0.04" text-anchor="end" fill="#333" transform="matrix(0.9 0 0 1 16.9 0)">0</text>
<line x1="171.1" y1="142.4" x2="172.3" y2="142.4" stroke="#333" stroke-width="0.45"/>
<text x="169" y="137.77" font-size="7.11" stroke="#333" stroke-width="0.04" text-anchor="end" fill="#333" transform="matrix(0.9 0 0 1 16.9 0)">10</text>
<line x1="171.1" y1="135.57" x2="172.3" y2="135.57" stroke="#333" stroke-width="0.45"/>
<text x="169" y="130.94" font-size="7.11" stroke="#333" stroke-width="0.04" text-anchor="end" fill="#333" transform="matrix(0.9 0 0 1 16.9 0)">20</text>
<line x1="171.1" y1="128.74" x2="172.3" y2="128.74" stroke="#333" stroke-width="0.45"/>
<text x="169" y="124.11" font-size="7.11" stroke="#333" stroke-width="0.04" text-anchor="end" fill="#333" transform="matrix(0.9 0 0 1 16.9 0)">30</text>
<line x1="171.1" y1="121.91" x2="172.3" y2="121.91" stroke="#333" stroke-width="0.45"/>
<text x="169" y="117.28" font-size="7.11" stroke="#333" stroke-width="0.04" text-anchor="end" fill="#333" transform="matrix(0.9 0 0 1 16.9 0)">40</text>
<line x1="171.1" y1="115.08" x2="172.3" y2="115.08" stroke="#333" stroke-width="0.45"/>
<text x="169" y="110.45" font-size="7.11" stroke="#333" stroke-width="0.04" text-anchor="end" fill="#333" transform="matrix(0.9 0 0 1 16.9 0)">50</text>
<line x1="171.1" y1="108.25" x2="172.3" y2="108.25" stroke="#333" stroke-width="0.45"/>
<text x="169" y="103.62" font-size="7.11" stroke="#333" stroke-width="0.04" text-anchor="end" fill="#333" transform="matrix(0.9 0 0 1 16.9 0)">60</text>
<line x1="171.1" y1="101.42" x2="172.3" y2="101.42" stroke="#333" stroke-width="0.45"/>
<text x="169" y="96.79" font-size="7.11" stroke="#333" stroke-width="0.04" text-anchor="end" fill="#333" transform="matrix(0.9 0 0 1 16.9 0)">70</text>
<line x1="171.1" y1="94.59" x2="172.3" y2="94.59" stroke="#333" stroke-width="0.45"/>
<rect x="175.26" y="118.15" width="4.08" height="24.25" fill="#ececec" stroke="#777" stroke-width="0.45"/>
<line x1="177.3" y1="117.13" x2="177.3" y2="118.15" stroke="#555" stroke-width="0.4"/>
<line x1="176.6" y1="117.13" x2="178" y2="117.13" stroke="#555" stroke-width="0.4"/>
<rect x="179.34" y="117.81" width="4.08" height="24.59" fill="#000"/>
<line x1="181.38" y1="117.13" x2="181.38" y2="117.81" stroke="#555" stroke-width="0.4"/>
<line x1="180.68" y1="117.13" x2="182.08" y2="117.13" stroke="#555" stroke-width="0.4"/>
<rect x="183.41" y="121.91" width="4.08" height="20.49" fill="#fff" stroke="#888" stroke-width="0.45"/>
<line x1="185.45" y1="121.36" x2="185.45" y2="121.91" stroke="#555" stroke-width="0.4"/>
<line x1="184.75" y1="121.36" x2="186.15" y2="121.36" stroke="#555" stroke-width="0.4"/>
<line x1="189.65" y1="142.4" x2="189.65" y2="143.6" stroke="#333" stroke-width="0.45"/>
<rect x="192.61" y="118.5" width="4.08" height="23.91" fill="#ececec" stroke="#777" stroke-width="0.45"/>
<line x1="194.65" y1="117.47" x2="194.65" y2="118.5" stroke="#555" stroke-width="0.4"/>
<line x1="193.95" y1="117.47" x2="195.35" y2="117.47" stroke="#555" stroke-width="0.4"/>
<rect x="196.69" y="117.81" width="4.08" height="24.59" fill="#000"/>
<line x1="198.72" y1="117.47" x2="198.72" y2="117.81" stroke="#555" stroke-width="0.4"/>
<line x1="198.03" y1="117.47" x2="199.42" y2="117.47" stroke="#555" stroke-width="0.4"/>
<rect x="200.76" y="123.28" width="4.08" height="19.12" fill="#fff" stroke="#888" stroke-width="0.45"/>
<line x1="202.8" y1="121.91" x2="202.8" y2="123.28" stroke="#555" stroke-width="0.4"/>
<line x1="202.1" y1="121.91" x2="203.5" y2="121.91" stroke="#555" stroke-width="0.4"/>
<line x1="207" y1="142.4" x2="207" y2="143.6" stroke="#333" stroke-width="0.45"/>
<rect x="209.96" y="117.13" width="4.08" height="25.27" fill="#ececec" stroke="#777" stroke-width="0.45"/>
<line x1="212" y1="116.1" x2="212" y2="117.13" stroke="#555" stroke-width="0.4"/>
<line x1="211.3" y1="116.1" x2="212.7" y2="116.1" stroke="#555" stroke-width="0.4"/>
<rect x="214.04" y="119.52" width="4.08" height="22.88" fill="#000"/>
<line x1="216.08" y1="119.18" x2="216.08" y2="119.52" stroke="#555" stroke-width="0.4"/>
<line x1="215.38" y1="119.18" x2="216.78" y2="119.18" stroke="#555" stroke-width="0.4"/>
<rect x="218.11" y="121.91" width="4.08" height="20.49" fill="#fff" stroke="#888" stroke-width="0.45"/>
<line x1="220.15" y1="121.57" x2="220.15" y2="121.91" stroke="#555" stroke-width="0.4"/>
<line x1="219.45" y1="121.57" x2="220.85" y2="121.57" stroke="#555" stroke-width="0.4"/>
<line x1="224.35" y1="142.4" x2="224.35" y2="143.6" stroke="#333" stroke-width="0.45"/>
<rect x="227.31" y="101.76" width="4.08" height="40.64" fill="#ececec" stroke="#777" stroke-width="0.45"/>
<line x1="229.35" y1="96.98" x2="229.35" y2="101.76" stroke="#555" stroke-width="0.4"/>
<line x1="228.65" y1="96.98" x2="230.05" y2="96.98" stroke="#555" stroke-width="0.4"/>
<rect x="231.39" y="126.01" width="4.08" height="16.39" fill="#000"/>
<line x1="233.42" y1="125.33" x2="233.42" y2="126.01" stroke="#555" stroke-width="0.4"/>
<line x1="232.72" y1="125.33" x2="234.12" y2="125.33" stroke="#555" stroke-width="0.4"/>
<rect x="235.46" y="131.47" width="4.08" height="10.93" fill="#fff" stroke="#888" stroke-width="0.45"/>
<line x1="237.5" y1="130.11" x2="237.5" y2="131.47" stroke="#555" stroke-width="0.4"/>
<line x1="236.8" y1="130.11" x2="238.2" y2="130.11" stroke="#555" stroke-width="0.4"/>
<line x1="241.7" y1="142.4" x2="241.7" y2="143.6" stroke="#333" stroke-width="0.45"/>
<line x1="172.3" y1="94.59" x2="172.3" y2="142.4" stroke="#111" stroke-width="0.6"/>
<line x1="172.3" y1="142.4" x2="241.7" y2="142.4" stroke="#111" stroke-width="0.6"/>
<text x="180.3" y="152.6" font-size="7.11" stroke="#000" stroke-width="0.2" text-anchor="middle" transform="matrix(0.9 0 0 1 18.03 0)">0</text>
<text x="198.5" y="152.6" font-size="7.11" stroke="#000" stroke-width="0.2" text-anchor="middle" transform="matrix(0.9 0 0 1 19.85 0)">10</text>
<text x="215.8" y="152.6" font-size="7.11" stroke="#000" stroke-width="0.2" text-anchor="middle" transform="matrix(0.9 0 0 1 21.58 0)">20</text>
<text x="233.4" y="152.6" font-size="7.11" stroke="#000" stroke-width="0.2" text-anchor="middle" transform="matrix(0.9 0 0 1 23.34 0)">50</text>
<text x="244.4" y="152.6" font-size="6" stroke="#000" stroke-width="0.2" text-anchor="middle" transform="matrix(0.9 0 0 1 24.44 0)">nM</text>
<text x="204" y="162" font-size="7.33" stroke="#000" stroke-width="0.2" text-anchor="middle" transform="matrix(0.9 0 0 1 20.4 0)">AP23464</text>
<line x1="171.8" y1="220.28" x2="241" y2="220.28" stroke="#7a7a7a" stroke-width="0.62"/>
<line x1="171.8" y1="212.96" x2="241" y2="212.96" stroke="#7a7a7a" stroke-width="0.62"/>
<line x1="171.8" y1="205.64" x2="241" y2="205.64" stroke="#7a7a7a" stroke-width="0.62"/>
<line x1="171.8" y1="198.32" x2="241" y2="198.32" stroke="#7a7a7a" stroke-width="0.62"/>
<line x1="171.8" y1="191" x2="241" y2="191" stroke="#7a7a7a" stroke-width="0.62"/>
<line x1="171.8" y1="183.68" x2="241" y2="183.68" stroke="#7a7a7a" stroke-width="0.62"/>
<line x1="171.8" y1="176.36" x2="241" y2="176.36" stroke="#7a7a7a" stroke-width="0.62"/>
<line x1="241" y1="176.36" x2="241" y2="227.6" stroke="#9a9a9a" stroke-width="0.5"/>
<text x="168.5" y="229.8" font-size="7.11" stroke="#333" stroke-width="0.04" text-anchor="end" fill="#333" transform="matrix(0.9 0 0 1 16.85 0)">0</text>
<line x1="170.6" y1="227.6" x2="171.8" y2="227.6" stroke="#333" stroke-width="0.45"/>
<text x="168.5" y="222.48" font-size="7.11" stroke="#333" stroke-width="0.04" text-anchor="end" fill="#333" transform="matrix(0.9 0 0 1 16.85 0)">10</text>
<line x1="170.6" y1="220.28" x2="171.8" y2="220.28" stroke="#333" stroke-width="0.45"/>
<text x="168.5" y="215.16" font-size="7.11" stroke="#333" stroke-width="0.04" text-anchor="end" fill="#333" transform="matrix(0.9 0 0 1 16.85 0)">20</text>
<line x1="170.6" y1="212.96" x2="171.8" y2="212.96" stroke="#333" stroke-width="0.45"/>
<text x="168.5" y="207.84" font-size="7.11" stroke="#333" stroke-width="0.04" text-anchor="end" fill="#333" transform="matrix(0.9 0 0 1 16.85 0)">30</text>
<line x1="170.6" y1="205.64" x2="171.8" y2="205.64" stroke="#333" stroke-width="0.45"/>
<text x="168.5" y="200.52" font-size="7.11" stroke="#333" stroke-width="0.04" text-anchor="end" fill="#333" transform="matrix(0.9 0 0 1 16.85 0)">40</text>
<line x1="170.6" y1="198.32" x2="171.8" y2="198.32" stroke="#333" stroke-width="0.45"/>
<text x="168.5" y="193.2" font-size="7.11" stroke="#333" stroke-width="0.04" text-anchor="end" fill="#333" transform="matrix(0.9 0 0 1 16.85 0)">50</text>
<line x1="170.6" y1="191" x2="171.8" y2="191" stroke="#333" stroke-width="0.45"/>
<text x="168.5" y="185.88" font-size="7.11" stroke="#333" stroke-width="0.04" text-anchor="end" fill="#333" transform="matrix(0.9 0 0 1 16.85 0)">60</text>
<line x1="170.6" y1="183.68" x2="171.8" y2="183.68" stroke="#333" stroke-width="0.45"/>
<text x="168.5" y="178.56" font-size="7.11" stroke="#333" stroke-width="0.04" text-anchor="end" fill="#333" transform="matrix(0.9 0 0 1 16.85 0)">70</text>
<line x1="170.6" y1="176.36" x2="171.8" y2="176.36" stroke="#333" stroke-width="0.45"/>
<rect x="174.75" y="200.52" width="4.07" height="27.08" fill="#ececec" stroke="#777" stroke-width="0.45"/>
<line x1="176.78" y1="197.59" x2="176.78" y2="200.52" stroke="#555" stroke-width="0.4"/>
<line x1="176.08" y1="197.59" x2="177.48" y2="197.59" stroke="#555" stroke-width="0.4"/>
<rect x="178.82" y="195.76" width="4.07" height="31.84" fill="#000"/>
<rect x="182.88" y="212.23" width="4.07" height="15.37" fill="#fff" stroke="#888" stroke-width="0.45"/>
<line x1="184.92" y1="209.3" x2="184.92" y2="212.23" stroke="#555" stroke-width="0.4"/>
<line x1="184.22" y1="209.3" x2="185.62" y2="209.3" stroke="#555" stroke-width="0.4"/>
<line x1="189.1" y1="227.6" x2="189.1" y2="228.8" stroke="#333" stroke-width="0.45"/>
<rect x="192.05" y="200.52" width="4.07" height="27.08" fill="#ececec" stroke="#777" stroke-width="0.45"/>
<line x1="194.08" y1="198.32" x2="194.08" y2="200.52" stroke="#555" stroke-width="0.4"/>
<line x1="193.38" y1="198.32" x2="194.78" y2="198.32" stroke="#555" stroke-width="0.4"/>
<rect x="196.12" y="196.49" width="4.07" height="31.11" fill="#000"/>
<rect x="200.18" y="213.33" width="4.07" height="14.27" fill="#fff" stroke="#888" stroke-width="0.45"/>
<line x1="202.22" y1="207.84" x2="202.22" y2="213.33" stroke="#555" stroke-width="0.4"/>
<line x1="201.52" y1="207.84" x2="202.92" y2="207.84" stroke="#555" stroke-width="0.4"/>
<line x1="206.4" y1="227.6" x2="206.4" y2="228.8" stroke="#333" stroke-width="0.45"/>
<rect x="209.35" y="198.69" width="4.07" height="28.91" fill="#ececec" stroke="#777" stroke-width="0.45"/>
<rect x="213.42" y="196.49" width="4.07" height="31.11" fill="#000"/>
<rect x="217.48" y="213.69" width="4.07" height="13.91" fill="#fff" stroke="#888" stroke-width="0.45"/>
<line x1="219.52" y1="212.96" x2="219.52" y2="213.69" stroke="#555" stroke-width="0.4"/>
<line x1="218.82" y1="212.96" x2="220.22" y2="212.96" stroke="#555" stroke-width="0.4"/>
<line x1="223.7" y1="227.6" x2="223.7" y2="228.8" stroke="#333" stroke-width="0.45"/>
<rect x="226.65" y="192.83" width="4.07" height="34.77" fill="#ececec" stroke="#777" stroke-width="0.45"/>
<line x1="228.68" y1="189.9" x2="228.68" y2="192.83" stroke="#555" stroke-width="0.4"/>
<line x1="227.98" y1="189.9" x2="229.38" y2="189.9" stroke="#555" stroke-width="0.4"/>
<rect x="230.72" y="203.81" width="4.07" height="23.79" fill="#000"/>
<line x1="232.75" y1="202.71" x2="232.75" y2="203.81" stroke="#555" stroke-width="0.4"/>
<line x1="232.05" y1="202.71" x2="233.45" y2="202.71" stroke="#555" stroke-width="0.4"/>
<rect x="234.78" y="212.23" width="4.07" height="15.37" fill="#fff" stroke="#888" stroke-width="0.45"/>
<line x1="236.82" y1="211.5" x2="236.82" y2="212.23" stroke="#555" stroke-width="0.4"/>
<line x1="236.12" y1="211.5" x2="237.52" y2="211.5" stroke="#555" stroke-width="0.4"/>
<line x1="241" y1="227.6" x2="241" y2="228.8" stroke="#333" stroke-width="0.45"/>
<line x1="171.8" y1="176.36" x2="171.8" y2="227.6" stroke="#111" stroke-width="0.6"/>
<line x1="171.8" y1="227.6" x2="241" y2="227.6" stroke="#111" stroke-width="0.6"/>
<text x="180.2" y="237.9" font-size="7.11" stroke="#000" stroke-width="0.2" text-anchor="middle" transform="matrix(0.9 0 0 1 18.02 0)">0</text>
<text x="197.7" y="237.9" font-size="7.11" stroke="#000" stroke-width="0.2" text-anchor="middle" transform="matrix(0.9 0 0 1 19.77 0)">200</text>
<text x="215.4" y="237.9" font-size="7.11" stroke="#000" stroke-width="0.2" text-anchor="middle" transform="matrix(0.9 0 0 1 21.54 0)">500</text>
<text x="233" y="237.9" font-size="7.11" stroke="#000" stroke-width="0.2" text-anchor="middle" transform="matrix(0.9 0 0 1 23.3 0)">1000</text>
<text x="246" y="237.9" font-size="6" stroke="#000" stroke-width="0.2" text-anchor="middle" transform="matrix(0.9 0 0 1 24.6 0)">nM</text>
<text x="205" y="248.2" font-size="7.33" stroke="#000" stroke-width="0.2" text-anchor="middle" transform="matrix(0.9 0 0 1 20.5 0)">AP23464</text>
<line x1="172.3" y1="307.96" x2="240.6" y2="307.96" stroke="#7a7a7a" stroke-width="0.62"/>
<line x1="172.3" y1="300.92" x2="240.6" y2="300.92" stroke="#7a7a7a" stroke-width="0.62"/>
<line x1="172.3" y1="293.88" x2="240.6" y2="293.88" stroke="#7a7a7a" stroke-width="0.62"/>
<line x1="172.3" y1="286.84" x2="240.6" y2="286.84" stroke="#7a7a7a" stroke-width="0.62"/>
<line x1="172.3" y1="279.8" x2="240.6" y2="279.8" stroke="#7a7a7a" stroke-width="0.62"/>
<line x1="172.3" y1="272.76" x2="240.6" y2="272.76" stroke="#7a7a7a" stroke-width="0.62"/>
<line x1="172.3" y1="265.72" x2="240.6" y2="265.72" stroke="#7a7a7a" stroke-width="0.62"/>
<line x1="240.6" y1="265.72" x2="240.6" y2="315" stroke="#9a9a9a" stroke-width="0.5"/>
<text x="169" y="317.2" font-size="7.11" stroke="#333" stroke-width="0.04" text-anchor="end" fill="#333" transform="matrix(0.9 0 0 1 16.9 0)">0</text>
<line x1="171.1" y1="315" x2="172.3" y2="315" stroke="#333" stroke-width="0.45"/>
<text x="169" y="310.16" font-size="7.11" stroke="#333" stroke-width="0.04" text-anchor="end" fill="#333" transform="matrix(0.9 0 0 1 16.9 0)">10</text>
<line x1="171.1" y1="307.96" x2="172.3" y2="307.96" stroke="#333" stroke-width="0.45"/>
<text x="169" y="303.12" font-size="7.11" stroke="#333" stroke-width="0.04" text-anchor="end" fill="#333" transform="matrix(0.9 0 0 1 16.9 0)">20</text>
<line x1="171.1" y1="300.92" x2="172.3" y2="300.92" stroke="#333" stroke-width="0.45"/>
<text x="169" y="296.08" font-size="7.11" stroke="#333" stroke-width="0.04" text-anchor="end" fill="#333" transform="matrix(0.9 0 0 1 16.9 0)">30</text>
<line x1="171.1" y1="293.88" x2="172.3" y2="293.88" stroke="#333" stroke-width="0.45"/>
<text x="169" y="289.04" font-size="7.11" stroke="#333" stroke-width="0.04" text-anchor="end" fill="#333" transform="matrix(0.9 0 0 1 16.9 0)">40</text>
<line x1="171.1" y1="286.84" x2="172.3" y2="286.84" stroke="#333" stroke-width="0.45"/>
<text x="169" y="282" font-size="7.11" stroke="#333" stroke-width="0.04" text-anchor="end" fill="#333" transform="matrix(0.9 0 0 1 16.9 0)">50</text>
<line x1="171.1" y1="279.8" x2="172.3" y2="279.8" stroke="#333" stroke-width="0.45"/>
<text x="169" y="274.96" font-size="7.11" stroke="#333" stroke-width="0.04" text-anchor="end" fill="#333" transform="matrix(0.9 0 0 1 16.9 0)">60</text>
<line x1="171.1" y1="272.76" x2="172.3" y2="272.76" stroke="#333" stroke-width="0.45"/>
<text x="169" y="267.92" font-size="7.11" stroke="#333" stroke-width="0.04" text-anchor="end" fill="#333" transform="matrix(0.9 0 0 1 16.9 0)">70</text>
<line x1="171.1" y1="265.72" x2="172.3" y2="265.72" stroke="#333" stroke-width="0.45"/>
<rect x="175.22" y="287.19" width="4.01" height="27.81" fill="#ececec" stroke="#777" stroke-width="0.45"/>
<line x1="177.22" y1="286.49" x2="177.22" y2="287.19" stroke="#555" stroke-width="0.4"/>
<line x1="176.52" y1="286.49" x2="177.92" y2="286.49" stroke="#555" stroke-width="0.4"/>
<rect x="179.23" y="291.06" width="4.01" height="23.94" fill="#000"/>
<line x1="181.24" y1="290.71" x2="181.24" y2="291.06" stroke="#555" stroke-width="0.4"/>
<line x1="180.54" y1="290.71" x2="181.94" y2="290.71" stroke="#555" stroke-width="0.4"/>
<rect x="183.24" y="294.23" width="4.01" height="20.77" fill="#fff" stroke="#888" stroke-width="0.45"/>
<line x1="185.25" y1="293.88" x2="185.25" y2="294.23" stroke="#555" stroke-width="0.4"/>
<line x1="184.55" y1="293.88" x2="185.95" y2="293.88" stroke="#555" stroke-width="0.4"/>
<line x1="189.38" y1="315" x2="189.38" y2="316.2" stroke="#333" stroke-width="0.45"/>
<rect x="192.29" y="287.54" width="4.01" height="27.46" fill="#ececec" stroke="#777" stroke-width="0.45"/>
<line x1="194.3" y1="287.19" x2="194.3" y2="287.54" stroke="#555" stroke-width="0.4"/>
<line x1="193.6" y1="287.19" x2="195" y2="287.19" stroke="#555" stroke-width="0.4"/>
<rect x="196.31" y="291.42" width="4.01" height="23.58" fill="#000"/>
<line x1="198.31" y1="291.06" x2="198.31" y2="291.42" stroke="#555" stroke-width="0.4"/>
<line x1="197.61" y1="291.06" x2="199.01" y2="291.06" stroke="#555" stroke-width="0.4"/>
<rect x="200.32" y="294.58" width="4.01" height="20.42" fill="#fff" stroke="#888" stroke-width="0.45"/>
<line x1="202.33" y1="294.23" x2="202.33" y2="294.58" stroke="#555" stroke-width="0.4"/>
<line x1="201.63" y1="294.23" x2="203.03" y2="294.23" stroke="#555" stroke-width="0.4"/>
<line x1="206.45" y1="315" x2="206.45" y2="316.2" stroke="#333" stroke-width="0.45"/>
<rect x="209.37" y="281.21" width="4.01" height="33.79" fill="#ececec" stroke="#777" stroke-width="0.45"/>
<line x1="211.37" y1="280.86" x2="211.37" y2="281.21" stroke="#555" stroke-width="0.4"/>
<line x1="210.67" y1="280.86" x2="212.07" y2="280.86" stroke="#555" stroke-width="0.4"/>
<rect x="213.38" y="297.05" width="4.01" height="17.95" fill="#000"/>
<line x1="215.39" y1="296.7" x2="215.39" y2="297.05" stroke="#555" stroke-width="0.4"/>
<line x1="214.69" y1="296.7" x2="216.09" y2="296.7" stroke="#555" stroke-width="0.4"/>
<rect x="217.39" y="294.23" width="4.01" height="20.77" fill="#fff" stroke="#888" stroke-width="0.45"/>
<line x1="219.4" y1="293.18" x2="219.4" y2="294.23" stroke="#555" stroke-width="0.4"/>
<line x1="218.7" y1="293.18" x2="220.1" y2="293.18" stroke="#555" stroke-width="0.4"/>
<line x1="223.53" y1="315" x2="223.53" y2="316.2" stroke="#333" stroke-width="0.45"/>
<rect x="226.44" y="274.31" width="4.01" height="40.69" fill="#ececec" stroke="#777" stroke-width="0.45"/>
<line x1="228.45" y1="273.96" x2="228.45" y2="274.31" stroke="#555" stroke-width="0.4"/>
<line x1="227.75" y1="273.96" x2="229.15" y2="273.96" stroke="#555" stroke-width="0.4"/>
<rect x="230.46" y="298.32" width="4.01" height="16.68" fill="#000"/>
<line x1="232.46" y1="297.96" x2="232.46" y2="298.32" stroke="#555" stroke-width="0.4"/>
<line x1="231.76" y1="297.96" x2="233.16" y2="297.96" stroke="#555" stroke-width="0.4"/>
<rect x="234.47" y="300.92" width="4.01" height="14.08" fill="#fff" stroke="#888" stroke-width="0.45"/>
<line x1="236.48" y1="299.16" x2="236.48" y2="300.92" stroke="#555" stroke-width="0.4"/>
<line x1="235.78" y1="299.16" x2="237.18" y2="299.16" stroke="#555" stroke-width="0.4"/>
<line x1="240.6" y1="315" x2="240.6" y2="316.2" stroke="#333" stroke-width="0.45"/>
<line x1="172.3" y1="265.72" x2="172.3" y2="315" stroke="#111" stroke-width="0.6"/>
<line x1="172.3" y1="315" x2="240.6" y2="315" stroke="#111" stroke-width="0.6"/>
<text x="180" y="325" font-size="7.11" stroke="#000" stroke-width="0.2" text-anchor="middle" transform="matrix(0.9 0 0 1 18 0)">0</text>
<text x="196.5" y="325" font-size="7.11" stroke="#000" stroke-width="0.2" text-anchor="middle" transform="matrix(0.9 0 0 1 19.65 0)">1000</text>
<text x="214.3" y="325" font-size="7.11" stroke="#000" stroke-width="0.2" text-anchor="middle" transform="matrix(0.9 0 0 1 21.43 0)">2000</text>
<text x="232.3" y="325" font-size="7.11" stroke="#000" stroke-width="0.2" text-anchor="middle" transform="matrix(0.9 0 0 1 23.23 0)">5000</text>
<text x="247" y="325" font-size="6" stroke="#000" stroke-width="0.2" text-anchor="middle" transform="matrix(0.9 0 0 1 24.7 0)">nM</text>
<text x="207.7" y="335.6" font-size="7.33" stroke="#000" stroke-width="0.2" text-anchor="middle" transform="matrix(0.9 0 0 1 20.77 0)">AP23464</text>
<rect x="278.8" y="22.2" width="42.4" height="38.8" fill="#fff"/>
<clipPath id="c1"><rect x="278.8" y="22.2" width="42.4" height="38.8"/></clipPath>
<g clip-path="url(#c1)">
<ellipse cx="283" cy="61.5" rx="9" ry="5" fill="#000" opacity="0.75" filter="url(#b2)"/>
<ellipse cx="292" cy="61" rx="7" ry="3.5" fill="#000" opacity="0.35" filter="url(#b2)"/>
<ellipse cx="306" cy="37" rx="2.5" ry="8" fill="#000" opacity="0.1" filter="url(#b2)"/>
<ellipse cx="306" cy="55" rx="4" ry="5" fill="#000" opacity="0.08" filter="url(#b2)"/>
<path fill="#000" fill-opacity="0.25" d="M284.5 59.8h0.7v0.7h-0.7zM284.6 57.7h0.7v0.7h-0.7zM280.4 58.0h0.7v0.7h-0.7zM292.7 59.6h0.7v0.7h-0.7zM292.2 59.1h0.7v0.7h-0.7zM288.4 59.0h0.7v0.7h-0.7zM279.1 60.0h0.7v0.7h-0.7zM289.0 59.7h0.7v0.7h-0.7zM279.1 54.1h0.7v0.7h-0.7zM280.7 57.3h0.7v0.7h-0.7zM287.8 58.4h0.7v0.7h-0.7zM289.1 56.9h0.7v0.7h-0.7zM287.9 59.5h0.7v0.7h-0.7zM282.0 60.0h0.7v0.7h-0.7zM289.3 60.0h0.7v0.7h-0.7zM282.3 56.7h0.7v0.7h-0.7zM283.9 58.2h0.7v0.7h-0.7zM289.8 59.1h0.7v0.7h-0.7zM283.3 56.1h0.7v0.7h-0.7zM282.9 60.0h0.7v0.7h-0.7zM281.2 59.1h0.7v0.7h-0.7zM288.6 54.8h0.7v0.7h-0.7zM286.3 60.0h0.7v0.7h-0.7zM279.1 57.7h0.7v0.7h-0.7zM285.4 56.5h0.7v0.7h-0.7zM289.0 58.3h0.7v0.7h-0.7zM279.1 60.0h0.7v0.7h-0.7zM290.0 60.0h0.7v0.7h-0.7zM294.6 59.4h0.7v0.7h-0.7zM286.7 55.3h0.7v0.7h-0.7zM289.7 57.0h0.7v0.7h-0.7zM283.3 55.3h0.7v0.7h-0.7zM280.2 57.2h0.7v0.7h-0.7zM293.7 53.4h0.7v0.7h-0.7zM279.1 59.1h0.7v0.7h-0.7zM294.7 59.9h0.7v0.7h-0.7zM279.1 52.2h0.7v0.7h-0.7zM288.1 56.7h0.7v0.7h-0.7zM279.3 60.0h0.7v0.7h-0.7zM292.6 58.9h0.7v0.7h-0.7zM287.5 59.6h0.7v0.7h-0.7zM295.6 60.0h0.7v0.7h-0.7zM289.1 59.9h0.7v0.7h-0.7zM279.1 60.0h0.7v0.7h-0.7zM291.7 59.8h0.7v0.7h-0.7zM279.1 56.9h0.7v0.7h-0.7zM291.1 54.0h0.7v0.7h-0.7zM284.9 60.0h0.7v0.7h-0.7zM279.1 60.0h0.7v0.7h-0.7zM289.3 58.1h0.7v0.7h-0.7zM287.9 60.0h0.7v0.7h-0.7zM286.7 60.0h0.7v0.7h-0.7zM282.0 57.5h0.7v0.7h-0.7zM292.3 58.6h0.7v0.7h-0.7zM280.7 60.0h0.7v0.7h-0.7zM294.8 57.4h0.7v0.7h-0.7zM279.1 58.2h0.7v0.7h-0.7zM285.1 57.8h0.7v0.7h-0.7zM294.4 55.9h0.7v0.7h-0.7zM293.6 55.3h0.7v0.7h-0.7zM281.3 60.0h0.7v0.7h-0.7zM292.8 60.0h0.7v0.7h-0.7zM288.1 58.9h0.7v0.7h-0.7zM286.9 59.9h0.7v0.7h-0.7zM284.9 59.2h0.7v0.7h-0.7zM289.4 58.5h0.7v0.7h-0.7zM290.6 59.9h0.7v0.7h-0.7zM298.1 59.3h0.7v0.7h-0.7zM283.4 57.6h0.7v0.7h-0.7zM285.9 60.0h0.7v0.7h-0.7zM284.0 59.5h0.7v0.7h-0.7zM297.0 52.1h0.7v0.7h-0.7zM279.3 59.1h0.7v0.7h-0.7zM288.4 59.1h0.7v0.7h-0.7zM283.4 60.0h0.7v0.7h-0.7zM287.7 57.2h0.7v0.7h-0.7zM300.6 59.4h0.7v0.7h-0.7zM282.7 58.3h0.7v0.7h-0.7zM284.6 58.3h0.7v0.7h-0.7zM279.1 57.3h0.7v0.7h-0.7zM292.1 55.6h0.7v0.7h-0.7zM285.6 60.0h0.7v0.7h-0.7zM291.1 60.0h0.7v0.7h-0.7zM279.1 57.6h0.7v0.7h-0.7zM284.0 60.0h0.7v0.7h-0.7zM292.6 51.8h0.7v0.7h-0.7zM292.5 54.9h0.7v0.7h-0.7zM290.1 54.8h0.7v0.7h-0.7zM287.1 60.0h0.7v0.7h-0.7zM285.1 59.0h0.7v0.7h-0.7zM290.8 58.9h0.7v0.7h-0.7zM285.5 60.0h0.7v0.7h-0.7zM292.3 57.8h0.7v0.7h-0.7zM302.5 55.6h0.7v0.7h-0.7zM291.5 57.8h0.7v0.7h-0.7zM286.8 60.0h0.7v0.7h-0.7zM287.3 60.0h0.7v0.7h-0.7zM279.1 54.7h0.7v0.7h-0.7zM289.7 56.1h0.7v0.7h-0.7zM279.8 54.8h0.7v0.7h-0.7zM293.6 60.0h0.7v0.7h-0.7zM294.8 56.2h0.7v0.7h-0.7zM286.0 55.6h0.7v0.7h-0.7zM290.6 60.0h0.7v0.7h-0.7zM280.7 60.0h0.7v0.7h-0.7zM291.9 58.1h0.7v0.7h-0.7zM279.1 60.0h0.7v0.7h-0.7zM285.4 57.0h0.7v0.7h-0.7zM288.4 59.5h0.7v0.7h-0.7zM295.0 55.9h0.7v0.7h-0.7zM292.8 60.0h0.7v0.7h-0.7zM294.7 58.0h0.7v0.7h-0.7zM281.5 60.0h0.7v0.7h-0.7zM286.7 58.8h0.7v0.7h-0.7zM294.5 57.8h0.7v0.7h-0.7zM279.1 57.5h0.7v0.7h-0.7zM279.1 60.0h0.7v0.7h-0.7zM287.9 57.0h0.7v0.7h-0.7zM285.9 60.0h0.7v0.7h-0.7zM286.5 60.0h0.7v0.7h-0.7z"/>
<path fill="#000" fill-opacity="0.2" d="M305.8 46.2h0.7v0.7h-0.7zM309.7 49.7h0.7v0.7h-0.7zM304.3 45.3h0.7v0.7h-0.7zM301.3 33.5h0.7v0.7h-0.7zM301.1 46.4h0.7v0.7h-0.7zM302.9 39.9h0.7v0.7h-0.7zM305.5 39.8h0.7v0.7h-0.7zM304.5 41.4h0.7v0.7h-0.7zM310.5 40.3h0.7v0.7h-0.7zM307.3 46.0h0.7v0.7h-0.7zM305.5 32.4h0.7v0.7h-0.7zM304.6 46.4h0.7v0.7h-0.7zM301.9 36.4h0.7v0.7h-0.7zM308.5 44.8h0.7v0.7h-0.7zM306.0 44.8h0.7v0.7h-0.7zM306.4 32.9h0.7v0.7h-0.7zM302.1 36.2h0.7v0.7h-0.7zM308.3 36.6h0.7v0.7h-0.7zM303.7 35.4h0.7v0.7h-0.7zM302.2 39.3h0.7v0.7h-0.7zM303.1 42.2h0.7v0.7h-0.7zM300.1 42.0h0.7v0.7h-0.7zM304.4 28.3h0.7v0.7h-0.7zM307.8 38.3h0.7v0.7h-0.7zM300.4 34.7h0.7v0.7h-0.7z"/>
</g>
<line x1="298.4" y1="22.2" x2="298.4" y2="61" stroke="#8a8a8a" stroke-width="0.6"/>
<line x1="278.8" y1="46.5" x2="321.2" y2="46.5" stroke="#8a8a8a" stroke-width="0.6"/>
<rect x="278.8" y="22.2" width="42.4" height="38.8" fill="none" stroke="#666" stroke-width="0.6"/>
<text x="273.8" y="27.4" font-size="3.6" fill="#222" stroke="#222" stroke-width="0.15" transform="rotate(35 275.6 26.4)">10<tspan font-size="2.6" dy="-1.4">0</tspan></text>
<line x1="277.8" y1="26.4" x2="278.8" y2="26.4" stroke="#333" stroke-width="0.4"/>
<text x="282.7" y="66.6" font-size="3.6" fill="#222" stroke="#222" stroke-width="0.15" transform="rotate(-35 285.1 65)">10<tspan font-size="2.6" dy="-1.4">0</tspan></text>
<line x1="285.1" y1="61" x2="285.1" y2="62" stroke="#333" stroke-width="0.4"/>
<text x="273.8" y="37.1" font-size="3.6" fill="#222" stroke="#222" stroke-width="0.15" transform="rotate(35 275.6 36.1)">10<tspan font-size="2.6" dy="-1.4">1</tspan></text>
<line x1="277.8" y1="36.1" x2="278.8" y2="36.1" stroke="#333" stroke-width="0.4"/>
<text x="293" y="66.6" font-size="3.6" fill="#222" stroke="#222" stroke-width="0.15" transform="rotate(-35 295.4 65)">10<tspan font-size="2.6" dy="-1.4">1</tspan></text>
<line x1="295.4" y1="61" x2="295.4" y2="62" stroke="#333" stroke-width="0.4"/>
<text x="273.8" y="46.8" font-size="3.6" fill="#222" stroke="#222" stroke-width="0.15" transform="rotate(35 275.6 45.8)">10<tspan font-size="2.6" dy="-1.4">2</tspan></text>
<line x1="277.8" y1="45.8" x2="278.8" y2="45.8" stroke="#333" stroke-width="0.4"/>
<text x="303.3" y="66.6" font-size="3.6" fill="#222" stroke="#222" stroke-width="0.15" transform="rotate(-35 305.7 65)">10<tspan font-size="2.6" dy="-1.4">2</tspan></text>
<line x1="305.7" y1="61" x2="305.7" y2="62" stroke="#333" stroke-width="0.4"/>
<text x="273.8" y="56.5" font-size="3.6" fill="#222" stroke="#222" stroke-width="0.15" transform="rotate(35 275.6 55.5)">10<tspan font-size="2.6" dy="-1.4">3</tspan></text>
<line x1="277.8" y1="55.5" x2="278.8" y2="55.5" stroke="#333" stroke-width="0.4"/>
<text x="313.6" y="66.6" font-size="3.6" fill="#222" stroke="#222" stroke-width="0.15" transform="rotate(-35 316 65)">10<tspan font-size="2.6" dy="-1.4">3</tspan></text>
<line x1="316" y1="61" x2="316" y2="62" stroke="#333" stroke-width="0.4"/>
<text x="281" y="20.5" font-size="7.78" stroke="#000" stroke-width="0.2" transform="matrix(0.9 0 0 1 28.1 0)">0 nM</text>
<text x="320.2" y="28.5" font-size="6.56" stroke="#222" stroke-width="0.08" text-anchor="end" fill="#222" transform="matrix(0.9 0 0 1 32.02 0)">1%</text>
<text x="281.4" y="51.9" font-size="6.56" stroke="#222" stroke-width="0.08" fill="#222" transform="matrix(0.9 0 0 1 28.14 0)">89%</text>
<text x="320.2" y="51.9" font-size="6.56" stroke="#222" stroke-width="0.08" text-anchor="end" fill="#222" transform="matrix(0.9 0 0 1 32.02 0)">9%</text>
<text x="270.3" y="41.2" font-size="6.2" stroke="#000" stroke-width="0.2" text-anchor="middle" transform="rotate(-90 270.3 41.2)">PI</text>
<text x="300.8" y="72.2" font-size="7.3" stroke="#000" stroke-width="0.2" text-anchor="middle" textLength="42.8" lengthAdjust="spacingAndGlyphs">annexin-V-FITC</text>
<rect x="330" y="22.2" width="41.8" height="38.8" fill="#fff"/>
<clipPath id="c2"><rect x="330" y="22.2" width="41.8" height="38.8"/></clipPath>
<g clip-path="url(#c2)">
<ellipse cx="335" cy="61.5" rx="10" ry="4" fill="#000" opacity="0.55" filter="url(#b2)"/>
<ellipse cx="354.5" cy="54" rx="2.8" ry="8" fill="#000" opacity="0.6" filter="url(#b1)"/>
<ellipse cx="354.5" cy="37" rx="2.5" ry="7" fill="#000" opacity="0.25" filter="url(#b1)"/>
<path fill="#000" fill-opacity="0.25" d="M355.0 46.8h0.7v0.7h-0.7zM355.9 55.2h0.7v0.7h-0.7zM355.7 52.3h0.7v0.7h-0.7zM356.9 54.6h0.7v0.7h-0.7zM355.3 35.4h0.7v0.7h-0.7zM356.1 59.2h0.7v0.7h-0.7zM354.0 46.7h0.7v0.7h-0.7zM358.0 37.7h0.7v0.7h-0.7zM355.3 60.0h0.7v0.7h-0.7zM352.8 54.8h0.7v0.7h-0.7zM357.9 49.2h0.7v0.7h-0.7zM355.5 56.3h0.7v0.7h-0.7zM352.9 49.4h0.7v0.7h-0.7zM355.0 55.8h0.7v0.7h-0.7zM354.4 48.6h0.7v0.7h-0.7zM352.7 47.5h0.7v0.7h-0.7zM356.1 50.7h0.7v0.7h-0.7zM353.0 44.1h0.7v0.7h-0.7zM359.3 58.0h0.7v0.7h-0.7zM355.6 31.8h0.7v0.7h-0.7zM355.6 53.4h0.7v0.7h-0.7zM357.5 53.0h0.7v0.7h-0.7zM354.4 53.7h0.7v0.7h-0.7zM351.0 57.2h0.7v0.7h-0.7zM355.1 45.1h0.7v0.7h-0.7zM356.9 60.0h0.7v0.7h-0.7zM352.0 45.3h0.7v0.7h-0.7zM355.0 51.3h0.7v0.7h-0.7zM353.8 43.2h0.7v0.7h-0.7zM358.3 57.3h0.7v0.7h-0.7zM352.4 40.6h0.7v0.7h-0.7zM357.6 56.9h0.7v0.7h-0.7zM357.8 55.7h0.7v0.7h-0.7zM352.9 51.8h0.7v0.7h-0.7zM350.6 44.8h0.7v0.7h-0.7zM354.4 53.7h0.7v0.7h-0.7zM353.2 49.1h0.7v0.7h-0.7zM355.3 52.6h0.7v0.7h-0.7zM355.6 51.5h0.7v0.7h-0.7zM353.9 55.5h0.7v0.7h-0.7zM354.6 44.2h0.7v0.7h-0.7zM353.4 50.0h0.7v0.7h-0.7zM354.3 51.1h0.7v0.7h-0.7zM354.5 51.2h0.7v0.7h-0.7zM354.3 41.2h0.7v0.7h-0.7zM355.3 57.4h0.7v0.7h-0.7zM355.3 48.7h0.7v0.7h-0.7zM355.3 43.2h0.7v0.7h-0.7zM351.1 50.4h0.7v0.7h-0.7zM352.8 55.2h0.7v0.7h-0.7zM352.5 31.6h0.7v0.7h-0.7zM352.6 60.0h0.7v0.7h-0.7zM353.8 40.4h0.7v0.7h-0.7zM353.1 53.6h0.7v0.7h-0.7zM355.4 51.2h0.7v0.7h-0.7zM357.2 54.9h0.7v0.7h-0.7zM354.5 54.2h0.7v0.7h-0.7zM357.5 56.8h0.7v0.7h-0.7zM356.3 42.4h0.7v0.7h-0.7zM354.2 55.1h0.7v0.7h-0.7zM354.0 57.5h0.7v0.7h-0.7zM355.6 56.4h0.7v0.7h-0.7zM354.1 60.0h0.7v0.7h-0.7zM356.7 48.5h0.7v0.7h-0.7zM354.7 60.0h0.7v0.7h-0.7zM353.9 56.1h0.7v0.7h-0.7zM356.3 50.0h0.7v0.7h-0.7zM352.4 51.3h0.7v0.7h-0.7zM355.1 57.9h0.7v0.7h-0.7zM355.9 50.2h0.7v0.7h-0.7zM356.0 53.8h0.7v0.7h-0.7zM354.9 50.4h0.7v0.7h-0.7zM354.1 54.8h0.7v0.7h-0.7zM352.6 45.6h0.7v0.7h-0.7zM354.5 39.8h0.7v0.7h-0.7zM353.7 35.9h0.7v0.7h-0.7zM353.3 54.0h0.7v0.7h-0.7zM355.5 49.6h0.7v0.7h-0.7zM354.1 40.1h0.7v0.7h-0.7zM357.8 53.6h0.7v0.7h-0.7z"/>
<path fill="#000" fill-opacity="0.2" d="M344.6 57.2h0.7v0.7h-0.7zM336.9 55.4h0.7v0.7h-0.7zM342.7 60.0h0.7v0.7h-0.7zM330.3 58.9h0.7v0.7h-0.7zM341.8 55.5h0.7v0.7h-0.7zM330.3 56.9h0.7v0.7h-0.7zM334.2 56.2h0.7v0.7h-0.7zM338.2 59.5h0.7v0.7h-0.7zM341.8 60.0h0.7v0.7h-0.7zM347.0 60.0h0.7v0.7h-0.7zM330.3 58.0h0.7v0.7h-0.7zM331.6 56.8h0.7v0.7h-0.7zM337.5 59.0h0.7v0.7h-0.7zM340.9 55.8h0.7v0.7h-0.7zM330.6 59.0h0.7v0.7h-0.7zM336.8 58.4h0.7v0.7h-0.7zM337.6 57.5h0.7v0.7h-0.7zM342.2 59.7h0.7v0.7h-0.7zM337.5 57.7h0.7v0.7h-0.7zM337.0 53.6h0.7v0.7h-0.7zM332.1 59.1h0.7v0.7h-0.7zM330.3 59.4h0.7v0.7h-0.7zM338.9 56.2h0.7v0.7h-0.7zM336.5 58.4h0.7v0.7h-0.7zM340.8 60.0h0.7v0.7h-0.7zM337.8 57.3h0.7v0.7h-0.7zM337.1 58.9h0.7v0.7h-0.7zM342.4 59.6h0.7v0.7h-0.7zM333.7 56.3h0.7v0.7h-0.7zM335.8 57.5h0.7v0.7h-0.7zM331.3 58.8h0.7v0.7h-0.7zM335.1 59.2h0.7v0.7h-0.7zM341.1 58.2h0.7v0.7h-0.7zM351.9 58.4h0.7v0.7h-0.7zM344.6 59.2h0.7v0.7h-0.7zM344.7 54.2h0.7v0.7h-0.7zM333.5 59.5h0.7v0.7h-0.7zM341.6 60.0h0.7v0.7h-0.7zM339.9 60.0h0.7v0.7h-0.7zM342.6 60.0h0.7v0.7h-0.7zM341.1 58.7h0.7v0.7h-0.7zM341.1 56.8h0.7v0.7h-0.7zM345.1 57.0h0.7v0.7h-0.7zM339.5 60.0h0.7v0.7h-0.7zM336.7 59.0h0.7v0.7h-0.7zM345.0 59.1h0.7v0.7h-0.7zM333.2 59.5h0.7v0.7h-0.7zM341.5 60.0h0.7v0.7h-0.7zM333.4 60.0h0.7v0.7h-0.7zM348.0 59.0h0.7v0.7h-0.7zM339.6 58.1h0.7v0.7h-0.7zM346.5 57.6h0.7v0.7h-0.7zM342.0 58.0h0.7v0.7h-0.7zM333.8 60.0h0.7v0.7h-0.7zM346.0 59.0h0.7v0.7h-0.7zM333.9 60.0h0.7v0.7h-0.7zM337.7 59.6h0.7v0.7h-0.7zM347.1 60.0h0.7v0.7h-0.7zM334.9 60.0h0.7v0.7h-0.7zM338.0 60.0h0.7v0.7h-0.7z"/>
</g>
<line x1="349.3" y1="22.2" x2="349.3" y2="61" stroke="#8a8a8a" stroke-width="0.6"/>
<line x1="330" y1="46.5" x2="371.8" y2="46.5" stroke="#8a8a8a" stroke-width="0.6"/>
<rect x="330" y="22.2" width="41.8" height="38.8" fill="none" stroke="#666" stroke-width="0.6"/>
<text x="325" y="27.4" font-size="3.6" fill="#222" stroke="#222" stroke-width="0.15" transform="rotate(35 326.8 26.4)">10<tspan font-size="2.6" dy="-1.4">0</tspan></text>
<line x1="329" y1="26.4" x2="330" y2="26.4" stroke="#333" stroke-width="0.4"/>
<text x="333.9" y="66.6" font-size="3.6" fill="#222" stroke="#222" stroke-width="0.15" transform="rotate(-35 336.3 65)">10<tspan font-size="2.6" dy="-1.4">0</tspan></text>
<line x1="336.3" y1="61" x2="336.3" y2="62" stroke="#333" stroke-width="0.4"/>
<text x="325" y="37.1" font-size="3.6" fill="#222" stroke="#222" stroke-width="0.15" transform="rotate(35 326.8 36.1)">10<tspan font-size="2.6" dy="-1.4">1</tspan></text>
<line x1="329" y1="36.1" x2="330" y2="36.1" stroke="#333" stroke-width="0.4"/>
<text x="344.2" y="66.6" font-size="3.6" fill="#222" stroke="#222" stroke-width="0.15" transform="rotate(-35 346.6 65)">10<tspan font-size="2.6" dy="-1.4">1</tspan></text>
<line x1="346.6" y1="61" x2="346.6" y2="62" stroke="#333" stroke-width="0.4"/>
<text x="325" y="46.8" font-size="3.6" fill="#222" stroke="#222" stroke-width="0.15" transform="rotate(35 326.8 45.8)">10<tspan font-size="2.6" dy="-1.4">2</tspan></text>
<line x1="329" y1="45.8" x2="330" y2="45.8" stroke="#333" stroke-width="0.4"/>
<text x="354.5" y="66.6" font-size="3.6" fill="#222" stroke="#222" stroke-width="0.15" transform="rotate(-35 356.9 65)">10<tspan font-size="2.6" dy="-1.4">2</tspan></text>
<line x1="356.9" y1="61" x2="356.9" y2="62" stroke="#333" stroke-width="0.4"/>
<text x="325" y="56.5" font-size="3.6" fill="#222" stroke="#222" stroke-width="0.15" transform="rotate(35 326.8 55.5)">10<tspan font-size="2.6" dy="-1.4">3</tspan></text>
<line x1="329" y1="55.5" x2="330" y2="55.5" stroke="#333" stroke-width="0.4"/>
<text x="364.8" y="66.6" font-size="3.6" fill="#222" stroke="#222" stroke-width="0.15" transform="rotate(-35 367.2 65)">10<tspan font-size="2.6" dy="-1.4">3</tspan></text>
<line x1="367.2" y1="61" x2="367.2" y2="62" stroke="#333" stroke-width="0.4"/>
<text x="332.4" y="20.5" font-size="7.78" stroke="#000" stroke-width="0.2" transform="matrix(0.9 0 0 1 33.24 0)">20 nM</text>
<text x="370.8" y="28.5" font-size="6.56" stroke="#222" stroke-width="0.08" text-anchor="end" fill="#222" transform="matrix(0.9 0 0 1 37.08 0)">3%</text>
<text x="332.6" y="51.9" font-size="6.56" stroke="#222" stroke-width="0.08" fill="#222" transform="matrix(0.9 0 0 1 33.26 0)">67%</text>
<text x="370.8" y="51.9" font-size="6.56" stroke="#222" stroke-width="0.08" text-anchor="end" fill="#222" transform="matrix(0.9 0 0 1 37.08 0)">30%</text>
<rect x="380" y="22.2" width="42.9" height="38.8" fill="#fff"/>
<clipPath id="c3"><rect x="380" y="22.2" width="42.9" height="38.8"/></clipPath>
<g clip-path="url(#c3)">
<ellipse cx="405.2" cy="54.5" rx="3.2" ry="7.5" fill="#000" opacity="0.72" filter="url(#b1)"/>
<ellipse cx="404.8" cy="38" rx="2.6" ry="6.5" fill="#000" opacity="0.25" filter="url(#b1)"/>
<ellipse cx="388" cy="60" rx="9" ry="3.5" fill="#000" opacity="0.25" filter="url(#b2)"/>
<path fill="#000" fill-opacity="0.25" d="M403.7 49.7h0.7v0.7h-0.7zM401.5 60.0h0.7v0.7h-0.7zM407.7 42.7h0.7v0.7h-0.7zM402.0 40.3h0.7v0.7h-0.7zM407.4 47.2h0.7v0.7h-0.7zM404.9 48.1h0.7v0.7h-0.7zM404.8 43.5h0.7v0.7h-0.7zM405.0 41.4h0.7v0.7h-0.7zM404.9 51.9h0.7v0.7h-0.7zM405.9 48.6h0.7v0.7h-0.7zM403.2 51.0h0.7v0.7h-0.7zM404.0 59.4h0.7v0.7h-0.7zM406.5 49.3h0.7v0.7h-0.7zM404.1 45.8h0.7v0.7h-0.7zM403.1 47.9h0.7v0.7h-0.7zM405.6 53.1h0.7v0.7h-0.7zM406.1 60.0h0.7v0.7h-0.7zM403.6 50.1h0.7v0.7h-0.7zM410.6 38.8h0.7v0.7h-0.7zM404.0 51.0h0.7v0.7h-0.7zM405.3 52.4h0.7v0.7h-0.7zM404.5 52.2h0.7v0.7h-0.7zM405.1 54.6h0.7v0.7h-0.7zM401.2 44.7h0.7v0.7h-0.7zM405.0 43.8h0.7v0.7h-0.7zM402.9 53.8h0.7v0.7h-0.7zM403.7 53.8h0.7v0.7h-0.7zM406.5 51.8h0.7v0.7h-0.7zM406.0 49.4h0.7v0.7h-0.7zM402.2 49.8h0.7v0.7h-0.7zM405.9 46.8h0.7v0.7h-0.7zM404.8 54.5h0.7v0.7h-0.7zM403.2 53.8h0.7v0.7h-0.7zM408.7 46.7h0.7v0.7h-0.7zM405.3 49.1h0.7v0.7h-0.7zM408.1 51.9h0.7v0.7h-0.7zM406.8 45.9h0.7v0.7h-0.7zM405.0 49.9h0.7v0.7h-0.7zM401.4 58.6h0.7v0.7h-0.7zM406.8 39.5h0.7v0.7h-0.7zM406.5 49.2h0.7v0.7h-0.7zM405.9 52.2h0.7v0.7h-0.7zM402.0 48.7h0.7v0.7h-0.7zM408.0 46.6h0.7v0.7h-0.7zM403.0 41.8h0.7v0.7h-0.7zM402.6 52.0h0.7v0.7h-0.7zM408.4 52.6h0.7v0.7h-0.7zM405.5 60.0h0.7v0.7h-0.7zM404.0 46.0h0.7v0.7h-0.7zM406.1 53.3h0.7v0.7h-0.7zM403.0 43.0h0.7v0.7h-0.7zM405.6 51.5h0.7v0.7h-0.7zM402.4 48.8h0.7v0.7h-0.7zM403.9 52.8h0.7v0.7h-0.7zM404.8 49.5h0.7v0.7h-0.7zM404.3 56.3h0.7v0.7h-0.7zM407.8 47.8h0.7v0.7h-0.7zM406.7 45.5h0.7v0.7h-0.7zM405.1 54.5h0.7v0.7h-0.7zM408.0 47.7h0.7v0.7h-0.7zM404.9 51.2h0.7v0.7h-0.7zM402.0 50.1h0.7v0.7h-0.7zM403.6 52.2h0.7v0.7h-0.7zM402.7 38.1h0.7v0.7h-0.7zM405.1 51.6h0.7v0.7h-0.7zM403.9 55.3h0.7v0.7h-0.7zM404.5 46.4h0.7v0.7h-0.7zM406.0 40.6h0.7v0.7h-0.7zM403.6 49.9h0.7v0.7h-0.7zM406.7 49.0h0.7v0.7h-0.7zM405.6 46.1h0.7v0.7h-0.7zM405.6 60.0h0.7v0.7h-0.7zM403.6 60.0h0.7v0.7h-0.7zM403.7 50.1h0.7v0.7h-0.7zM405.3 56.1h0.7v0.7h-0.7zM402.5 37.4h0.7v0.7h-0.7zM406.2 54.8h0.7v0.7h-0.7zM406.2 60.0h0.7v0.7h-0.7zM405.4 51.5h0.7v0.7h-0.7zM406.9 52.2h0.7v0.7h-0.7z"/>
<path fill="#000" fill-opacity="0.2" d="M398.0 54.9h0.7v0.7h-0.7zM385.7 49.4h0.7v0.7h-0.7zM392.9 57.1h0.7v0.7h-0.7zM393.5 60.0h0.7v0.7h-0.7zM388.0 57.4h0.7v0.7h-0.7zM385.0 55.9h0.7v0.7h-0.7zM384.2 59.6h0.7v0.7h-0.7zM388.2 58.2h0.7v0.7h-0.7zM387.0 60.0h0.7v0.7h-0.7zM391.0 57.6h0.7v0.7h-0.7zM392.0 57.6h0.7v0.7h-0.7zM381.1 60.0h0.7v0.7h-0.7zM390.8 55.6h0.7v0.7h-0.7zM394.5 58.9h0.7v0.7h-0.7zM380.3 60.0h0.7v0.7h-0.7zM390.0 60.0h0.7v0.7h-0.7zM389.2 57.6h0.7v0.7h-0.7zM380.3 60.0h0.7v0.7h-0.7zM388.2 57.3h0.7v0.7h-0.7zM390.1 58.2h0.7v0.7h-0.7zM392.1 57.1h0.7v0.7h-0.7zM387.8 52.7h0.7v0.7h-0.7zM385.5 59.7h0.7v0.7h-0.7zM396.0 57.1h0.7v0.7h-0.7zM387.3 60.0h0.7v0.7h-0.7zM386.0 59.8h0.7v0.7h-0.7zM398.1 58.1h0.7v0.7h-0.7zM395.4 56.2h0.7v0.7h-0.7zM389.2 57.8h0.7v0.7h-0.7zM388.7 60.0h0.7v0.7h-0.7zM402.3 56.3h0.7v0.7h-0.7zM384.5 59.2h0.7v0.7h-0.7zM381.7 59.2h0.7v0.7h-0.7zM391.4 57.3h0.7v0.7h-0.7zM391.2 54.1h0.7v0.7h-0.7zM392.6 54.1h0.7v0.7h-0.7zM383.8 56.6h0.7v0.7h-0.7zM385.6 60.0h0.7v0.7h-0.7zM388.5 57.0h0.7v0.7h-0.7zM391.3 60.0h0.7v0.7h-0.7zM388.0 58.9h0.7v0.7h-0.7zM395.4 58.7h0.7v0.7h-0.7zM380.3 60.0h0.7v0.7h-0.7zM401.3 53.0h0.7v0.7h-0.7zM387.8 59.0h0.7v0.7h-0.7zM393.8 59.7h0.7v0.7h-0.7zM386.4 55.4h0.7v0.7h-0.7zM388.6 60.0h0.7v0.7h-0.7zM381.5 55.4h0.7v0.7h-0.7zM387.9 53.2h0.7v0.7h-0.7z"/>
</g>
<line x1="399.3" y1="22.2" x2="399.3" y2="61" stroke="#8a8a8a" stroke-width="0.6"/>
<line x1="380" y1="46.2" x2="422.9" y2="46.2" stroke="#8a8a8a" stroke-width="0.6"/>
<rect x="380" y="22.2" width="42.9" height="38.8" fill="none" stroke="#666" stroke-width="0.6"/>
<text x="375" y="27.4" font-size="3.6" fill="#222" stroke="#222" stroke-width="0.15" transform="rotate(35 376.8 26.4)">10<tspan font-size="2.6" dy="-1.4">0</tspan></text>
<line x1="379" y1="26.4" x2="380" y2="26.4" stroke="#333" stroke-width="0.4"/>
<text x="383.9" y="66.6" font-size="3.6" fill="#222" stroke="#222" stroke-width="0.15" transform="rotate(-35 386.3 65)">10<tspan font-size="2.6" dy="-1.4">0</tspan></text>
<line x1="386.3" y1="61" x2="386.3" y2="62" stroke="#333" stroke-width="0.4"/>
<text x="375" y="37.1" font-size="3.6" fill="#222" stroke="#222" stroke-width="0.15" transform="rotate(35 376.8 36.1)">10<tspan font-size="2.6" dy="-1.4">1</tspan></text>
<line x1="379" y1="36.1" x2="380" y2="36.1" stroke="#333" stroke-width="0.4"/>
<text x="394.2" y="66.6" font-size="3.6" fill="#222" stroke="#222" stroke-width="0.15" transform="rotate(-35 396.6 65)">10<tspan font-size="2.6" dy="-1.4">1</tspan></text>
<line x1="396.6" y1="61" x2="396.6" y2="62" stroke="#333" stroke-width="0.4"/>
<text x="375" y="46.8" font-size="3.6" fill="#222" stroke="#222" stroke-width="0.15" transform="rotate(35 376.8 45.8)">10<tspan font-size="2.6" dy="-1.4">2</tspan></text>
<line x1="379" y1="45.8" x2="380" y2="45.8" stroke="#333" stroke-width="0.4"/>
<text x="404.5" y="66.6" font-size="3.6" fill="#222" stroke="#222" stroke-width="0.15" transform="rotate(-35 406.9 65)">10<tspan font-size="2.6" dy="-1.4">2</tspan></text>
<line x1="406.9" y1="61" x2="406.9" y2="62" stroke="#333" stroke-width="0.4"/>
<text x="375" y="56.5" font-size="3.6" fill="#222" stroke="#222" stroke-width="0.15" transform="rotate(35 376.8 55.5)">10<tspan font-size="2.6" dy="-1.4">3</tspan></text>
<line x1="379" y1="55.5" x2="380" y2="55.5" stroke="#333" stroke-width="0.4"/>
<text x="414.8" y="66.6" font-size="3.6" fill="#222" stroke="#222" stroke-width="0.15" transform="rotate(-35 417.2 65)">10<tspan font-size="2.6" dy="-1.4">3</tspan></text>
<line x1="417.2" y1="61" x2="417.2" y2="62" stroke="#333" stroke-width="0.4"/>
<text x="382.4" y="20.5" font-size="7.78" stroke="#000" stroke-width="0.2" transform="matrix(0.9 0 0 1 38.24 0)">50 nM</text>
<text x="421.9" y="28.5" font-size="6.56" stroke="#222" stroke-width="0.08" text-anchor="end" fill="#222" transform="matrix(0.9 0 0 1 42.19 0)">5%</text>
<text x="382.6" y="51.6" font-size="6.56" stroke="#222" stroke-width="0.08" fill="#222" transform="matrix(0.9 0 0 1 38.26 0)">24%</text>
<text x="421.9" y="51.6" font-size="6.56" stroke="#222" stroke-width="0.08" text-anchor="end" fill="#222" transform="matrix(0.9 0 0 1 42.19 0)">71%</text>
<rect x="278" y="103" width="40.8" height="37.9" fill="#fff"/>
<clipPath id="c4"><rect x="278" y="103" width="40.8" height="37.9"/></clipPath>
<g clip-path="url(#c4)">
<ellipse cx="282" cy="139" rx="6" ry="5" fill="#000" opacity="0.5" filter="url(#b2)"/>
<ellipse cx="295" cy="115.5" rx="3" ry="3" fill="#000" opacity="0.15" filter="url(#b1)"/>
<ellipse cx="297" cy="133" rx="5" ry="5" fill="#000" opacity="0.06" filter="url(#b2)"/>
<path fill="#000" fill-opacity="0.25" d="M281.1 135.5h0.7v0.7h-0.7zM283.6 134.5h0.7v0.7h-0.7zM278.9 135.6h0.7v0.7h-0.7zM281.8 134.7h0.7v0.7h-0.7zM282.0 139.6h0.7v0.7h-0.7zM286.1 139.9h0.7v0.7h-0.7zM279.3 135.5h0.7v0.7h-0.7zM278.3 139.9h0.7v0.7h-0.7zM279.5 136.9h0.7v0.7h-0.7zM283.8 132.2h0.7v0.7h-0.7zM283.6 136.9h0.7v0.7h-0.7zM278.3 138.0h0.7v0.7h-0.7zM286.2 130.5h0.7v0.7h-0.7zM284.8 137.7h0.7v0.7h-0.7zM283.7 138.5h0.7v0.7h-0.7zM286.6 136.2h0.7v0.7h-0.7zM285.1 135.6h0.7v0.7h-0.7zM284.5 134.2h0.7v0.7h-0.7zM281.6 139.9h0.7v0.7h-0.7zM283.6 136.4h0.7v0.7h-0.7zM278.3 134.2h0.7v0.7h-0.7zM282.7 139.9h0.7v0.7h-0.7zM283.5 138.8h0.7v0.7h-0.7zM281.9 139.9h0.7v0.7h-0.7zM280.6 135.1h0.7v0.7h-0.7zM285.1 137.2h0.7v0.7h-0.7zM281.0 135.0h0.7v0.7h-0.7zM281.1 139.2h0.7v0.7h-0.7zM283.2 132.8h0.7v0.7h-0.7zM283.5 137.6h0.7v0.7h-0.7zM278.5 139.7h0.7v0.7h-0.7zM281.0 135.8h0.7v0.7h-0.7zM284.8 139.9h0.7v0.7h-0.7zM279.6 138.5h0.7v0.7h-0.7zM278.9 139.9h0.7v0.7h-0.7zM280.3 139.9h0.7v0.7h-0.7zM279.7 139.8h0.7v0.7h-0.7zM289.8 128.1h0.7v0.7h-0.7zM280.5 138.8h0.7v0.7h-0.7zM281.7 134.7h0.7v0.7h-0.7zM289.5 137.3h0.7v0.7h-0.7zM278.3 139.9h0.7v0.7h-0.7zM278.3 139.9h0.7v0.7h-0.7zM280.0 137.5h0.7v0.7h-0.7zM286.4 137.4h0.7v0.7h-0.7zM278.3 131.1h0.7v0.7h-0.7zM286.1 139.6h0.7v0.7h-0.7zM279.1 139.9h0.7v0.7h-0.7zM283.7 139.3h0.7v0.7h-0.7zM278.3 135.9h0.7v0.7h-0.7zM285.2 139.6h0.7v0.7h-0.7zM285.1 128.4h0.7v0.7h-0.7zM282.6 138.7h0.7v0.7h-0.7zM290.9 133.7h0.7v0.7h-0.7zM280.8 137.1h0.7v0.7h-0.7zM285.1 135.4h0.7v0.7h-0.7zM286.0 134.2h0.7v0.7h-0.7zM282.9 135.2h0.7v0.7h-0.7zM282.6 134.6h0.7v0.7h-0.7zM278.3 139.9h0.7v0.7h-0.7zM283.1 135.0h0.7v0.7h-0.7zM282.7 139.9h0.7v0.7h-0.7zM278.6 136.6h0.7v0.7h-0.7zM283.9 138.8h0.7v0.7h-0.7zM280.8 129.6h0.7v0.7h-0.7zM286.4 138.1h0.7v0.7h-0.7zM282.0 136.0h0.7v0.7h-0.7zM282.9 135.5h0.7v0.7h-0.7zM278.4 134.4h0.7v0.7h-0.7zM279.9 134.9h0.7v0.7h-0.7zM278.3 139.2h0.7v0.7h-0.7zM278.3 139.3h0.7v0.7h-0.7zM278.4 138.2h0.7v0.7h-0.7zM286.8 137.7h0.7v0.7h-0.7zM279.4 137.2h0.7v0.7h-0.7zM282.5 130.9h0.7v0.7h-0.7zM279.9 137.6h0.7v0.7h-0.7zM280.4 137.3h0.7v0.7h-0.7zM284.6 139.7h0.7v0.7h-0.7zM285.2 139.1h0.7v0.7h-0.7zM281.0 136.9h0.7v0.7h-0.7zM281.1 135.9h0.7v0.7h-0.7zM281.4 131.0h0.7v0.7h-0.7zM280.8 136.9h0.7v0.7h-0.7zM278.6 136.9h0.7v0.7h-0.7zM283.8 136.4h0.7v0.7h-0.7zM289.3 127.9h0.7v0.7h-0.7zM281.3 130.6h0.7v0.7h-0.7zM285.4 139.9h0.7v0.7h-0.7zM278.3 137.4h0.7v0.7h-0.7z"/>
<path fill="#000" fill-opacity="0.2" d="M297.0 115.2h0.7v0.7h-0.7zM297.1 110.4h0.7v0.7h-0.7zM297.7 116.9h0.7v0.7h-0.7zM296.0 114.5h0.7v0.7h-0.7zM297.3 114.8h0.7v0.7h-0.7zM296.4 114.7h0.7v0.7h-0.7zM291.5 115.9h0.7v0.7h-0.7zM296.4 117.9h0.7v0.7h-0.7zM294.2 115.9h0.7v0.7h-0.7zM297.2 116.4h0.7v0.7h-0.7zM298.5 121.0h0.7v0.7h-0.7zM294.2 111.2h0.7v0.7h-0.7zM297.7 119.8h0.7v0.7h-0.7zM297.8 118.0h0.7v0.7h-0.7zM294.8 114.2h0.7v0.7h-0.7zM297.8 113.7h0.7v0.7h-0.7zM292.4 113.5h0.7v0.7h-0.7zM301.0 120.8h0.7v0.7h-0.7zM294.6 114.2h0.7v0.7h-0.7zM296.5 114.1h0.7v0.7h-0.7zM298.6 115.8h0.7v0.7h-0.7zM293.8 119.3h0.7v0.7h-0.7zM294.8 116.6h0.7v0.7h-0.7zM296.0 115.2h0.7v0.7h-0.7zM296.6 114.3h0.7v0.7h-0.7zM292.3 110.5h0.7v0.7h-0.7zM293.5 114.1h0.7v0.7h-0.7zM296.0 116.1h0.7v0.7h-0.7zM297.1 116.3h0.7v0.7h-0.7zM294.4 114.2h0.7v0.7h-0.7z"/>
</g>
<line x1="289.4" y1="103" x2="289.4" y2="140.9" stroke="#8a8a8a" stroke-width="0.6"/>
<line x1="278" y1="125.4" x2="318.8" y2="125.4" stroke="#8a8a8a" stroke-width="0.6"/>
<rect x="278" y="103" width="40.8" height="37.9" fill="none" stroke="#666" stroke-width="0.6"/>
<text x="273" y="108.2" font-size="3.6" fill="#222" stroke="#222" stroke-width="0.15" transform="rotate(35 274.8 107.2)">10<tspan font-size="2.6" dy="-1.4">0</tspan></text>
<line x1="277" y1="107.2" x2="278" y2="107.2" stroke="#333" stroke-width="0.4"/>
<text x="281.9" y="146.5" font-size="3.6" fill="#222" stroke="#222" stroke-width="0.15" transform="rotate(-35 284.3 144.9)">10<tspan font-size="2.6" dy="-1.4">0</tspan></text>
<line x1="284.3" y1="140.9" x2="284.3" y2="141.9" stroke="#333" stroke-width="0.4"/>
<text x="273" y="117.9" font-size="3.6" fill="#222" stroke="#222" stroke-width="0.15" transform="rotate(35 274.8 116.9)">10<tspan font-size="2.6" dy="-1.4">1</tspan></text>
<line x1="277" y1="116.9" x2="278" y2="116.9" stroke="#333" stroke-width="0.4"/>
<text x="292.2" y="146.5" font-size="3.6" fill="#222" stroke="#222" stroke-width="0.15" transform="rotate(-35 294.6 144.9)">10<tspan font-size="2.6" dy="-1.4">1</tspan></text>
<line x1="294.6" y1="140.9" x2="294.6" y2="141.9" stroke="#333" stroke-width="0.4"/>
<text x="273" y="127.6" font-size="3.6" fill="#222" stroke="#222" stroke-width="0.15" transform="rotate(35 274.8 126.6)">10<tspan font-size="2.6" dy="-1.4">2</tspan></text>
<line x1="277" y1="126.6" x2="278" y2="126.6" stroke="#333" stroke-width="0.4"/>
<text x="302.5" y="146.5" font-size="3.6" fill="#222" stroke="#222" stroke-width="0.15" transform="rotate(-35 304.9 144.9)">10<tspan font-size="2.6" dy="-1.4">2</tspan></text>
<line x1="304.9" y1="140.9" x2="304.9" y2="141.9" stroke="#333" stroke-width="0.4"/>
<text x="273" y="137.3" font-size="3.6" fill="#222" stroke="#222" stroke-width="0.15" transform="rotate(35 274.8 136.3)">10<tspan font-size="2.6" dy="-1.4">3</tspan></text>
<line x1="277" y1="136.3" x2="278" y2="136.3" stroke="#333" stroke-width="0.4"/>
<text x="312.8" y="146.5" font-size="3.6" fill="#222" stroke="#222" stroke-width="0.15" transform="rotate(-35 315.2 144.9)">10<tspan font-size="2.6" dy="-1.4">3</tspan></text>
<line x1="315.2" y1="140.9" x2="315.2" y2="141.9" stroke="#333" stroke-width="0.4"/>
<text x="279.4" y="101.5" font-size="7.78" stroke="#000" stroke-width="0.2" transform="matrix(0.9 0 0 1 27.94 0)">0 nM</text>
<text x="317.8" y="109.3" font-size="6.56" stroke="#222" stroke-width="0.08" text-anchor="end" fill="#222" transform="matrix(0.9 0 0 1 31.78 0)">3%</text>
<text x="280.6" y="130.8" font-size="6.56" stroke="#222" stroke-width="0.08" fill="#222" transform="matrix(0.9 0 0 1 28.06 0)">94%</text>
<text x="317.8" y="130.8" font-size="6.56" stroke="#222" stroke-width="0.08" text-anchor="end" fill="#222" transform="matrix(0.9 0 0 1 31.78 0)">3%</text>
<text x="268.9" y="121.5" font-size="6.2" stroke="#000" stroke-width="0.2" text-anchor="middle" transform="rotate(-90 268.9 121.5)">PI</text>
<text x="299.9" y="153.6" font-size="7.3" stroke="#000" stroke-width="0.2" text-anchor="middle" textLength="42.8" lengthAdjust="spacingAndGlyphs">annexin-V-FITC</text>
<rect x="328.5" y="103" width="42.3" height="37.9" fill="#fff"/>
<clipPath id="c5"><rect x="328.5" y="103" width="42.3" height="37.9"/></clipPath>
<g clip-path="url(#c5)">
<ellipse cx="331" cy="139" rx="5.5" ry="5" fill="#000" opacity="0.45" filter="url(#b2)"/>
<ellipse cx="347" cy="117" rx="3.5" ry="6" fill="#000" opacity="0.12" filter="url(#b2)"/>
<ellipse cx="347" cy="132" rx="5" ry="5" fill="#000" opacity="0.08" filter="url(#b2)"/>
<path fill="#000" fill-opacity="0.22" d="M328.8 136.5h0.7v0.7h-0.7zM333.5 138.6h0.7v0.7h-0.7zM331.6 136.5h0.7v0.7h-0.7zM334.8 137.0h0.7v0.7h-0.7zM334.2 138.7h0.7v0.7h-0.7zM332.6 139.9h0.7v0.7h-0.7zM330.3 135.9h0.7v0.7h-0.7zM329.6 134.6h0.7v0.7h-0.7zM336.7 139.9h0.7v0.7h-0.7zM332.1 138.7h0.7v0.7h-0.7zM335.5 139.4h0.7v0.7h-0.7zM335.6 133.2h0.7v0.7h-0.7zM330.1 138.4h0.7v0.7h-0.7zM336.3 137.3h0.7v0.7h-0.7zM329.4 135.9h0.7v0.7h-0.7zM330.0 134.4h0.7v0.7h-0.7zM336.5 135.1h0.7v0.7h-0.7zM332.1 139.9h0.7v0.7h-0.7zM335.6 138.0h0.7v0.7h-0.7zM330.2 138.2h0.7v0.7h-0.7zM336.9 138.9h0.7v0.7h-0.7zM335.8 137.3h0.7v0.7h-0.7zM333.5 136.4h0.7v0.7h-0.7zM333.3 139.9h0.7v0.7h-0.7zM328.8 136.8h0.7v0.7h-0.7zM332.7 135.3h0.7v0.7h-0.7zM331.1 139.4h0.7v0.7h-0.7zM338.0 138.9h0.7v0.7h-0.7zM333.0 132.3h0.7v0.7h-0.7zM337.8 137.2h0.7v0.7h-0.7zM331.9 133.6h0.7v0.7h-0.7zM331.8 133.7h0.7v0.7h-0.7zM332.2 138.4h0.7v0.7h-0.7zM332.1 137.8h0.7v0.7h-0.7zM329.4 139.9h0.7v0.7h-0.7zM330.0 131.5h0.7v0.7h-0.7zM331.4 134.7h0.7v0.7h-0.7zM329.0 135.9h0.7v0.7h-0.7zM332.9 133.5h0.7v0.7h-0.7zM331.6 139.9h0.7v0.7h-0.7zM334.0 136.5h0.7v0.7h-0.7zM332.4 136.6h0.7v0.7h-0.7zM331.9 139.2h0.7v0.7h-0.7zM331.7 129.8h0.7v0.7h-0.7zM331.9 134.3h0.7v0.7h-0.7zM334.0 135.2h0.7v0.7h-0.7zM332.4 139.9h0.7v0.7h-0.7zM328.9 133.6h0.7v0.7h-0.7zM328.8 129.8h0.7v0.7h-0.7zM328.8 138.1h0.7v0.7h-0.7zM330.1 131.4h0.7v0.7h-0.7zM328.8 138.9h0.7v0.7h-0.7zM329.7 135.9h0.7v0.7h-0.7zM333.0 139.9h0.7v0.7h-0.7zM337.8 139.9h0.7v0.7h-0.7zM332.4 137.6h0.7v0.7h-0.7zM337.4 139.9h0.7v0.7h-0.7zM331.1 138.4h0.7v0.7h-0.7zM332.9 137.2h0.7v0.7h-0.7zM330.5 133.0h0.7v0.7h-0.7zM330.4 132.4h0.7v0.7h-0.7zM335.7 138.6h0.7v0.7h-0.7zM328.8 139.9h0.7v0.7h-0.7zM334.7 131.3h0.7v0.7h-0.7zM337.5 139.4h0.7v0.7h-0.7zM338.2 133.3h0.7v0.7h-0.7zM333.6 138.3h0.7v0.7h-0.7zM332.6 137.5h0.7v0.7h-0.7zM335.2 132.5h0.7v0.7h-0.7zM328.8 132.8h0.7v0.7h-0.7zM330.3 135.2h0.7v0.7h-0.7zM333.1 137.8h0.7v0.7h-0.7zM332.1 135.0h0.7v0.7h-0.7zM330.7 139.9h0.7v0.7h-0.7zM334.3 137.3h0.7v0.7h-0.7zM331.0 139.9h0.7v0.7h-0.7zM330.2 138.9h0.7v0.7h-0.7zM335.5 136.2h0.7v0.7h-0.7zM334.5 133.7h0.7v0.7h-0.7zM335.0 137.6h0.7v0.7h-0.7z"/>
<path fill="#000" fill-opacity="0.2" d="M343.0 121.3h0.7v0.7h-0.7zM344.8 124.4h0.7v0.7h-0.7zM345.3 117.2h0.7v0.7h-0.7zM347.7 116.3h0.7v0.7h-0.7zM347.6 115.2h0.7v0.7h-0.7zM348.7 118.0h0.7v0.7h-0.7zM347.5 104.2h0.7v0.7h-0.7zM349.9 118.2h0.7v0.7h-0.7zM342.5 118.5h0.7v0.7h-0.7zM348.2 123.4h0.7v0.7h-0.7zM344.3 125.7h0.7v0.7h-0.7zM346.6 130.0h0.7v0.7h-0.7zM346.6 121.4h0.7v0.7h-0.7zM346.1 112.4h0.7v0.7h-0.7zM349.7 122.5h0.7v0.7h-0.7zM350.8 122.3h0.7v0.7h-0.7zM345.6 109.7h0.7v0.7h-0.7zM345.4 114.6h0.7v0.7h-0.7zM345.0 120.9h0.7v0.7h-0.7zM347.8 116.7h0.7v0.7h-0.7zM347.4 117.3h0.7v0.7h-0.7zM347.5 121.8h0.7v0.7h-0.7zM349.4 114.6h0.7v0.7h-0.7zM343.2 125.1h0.7v0.7h-0.7zM347.3 123.5h0.7v0.7h-0.7zM342.9 116.4h0.7v0.7h-0.7zM347.1 110.8h0.7v0.7h-0.7zM345.7 121.6h0.7v0.7h-0.7zM349.7 126.0h0.7v0.7h-0.7zM344.8 111.0h0.7v0.7h-0.7z"/>
</g>
<line x1="340" y1="103" x2="340" y2="140.9" stroke="#8a8a8a" stroke-width="0.6"/>
<line x1="328.5" y1="125.4" x2="370.8" y2="125.4" stroke="#8a8a8a" stroke-width="0.6"/>
<rect x="328.5" y="103" width="42.3" height="37.9" fill="none" stroke="#666" stroke-width="0.6"/>
<text x="323.5" y="108.2" font-size="3.6" fill="#222" stroke="#222" stroke-width="0.15" transform="rotate(35 325.3 107.2)">10<tspan font-size="2.6" dy="-1.4">0</tspan></text>
<line x1="327.5" y1="107.2" x2="328.5" y2="107.2" stroke="#333" stroke-width="0.4"/>
<text x="332.4" y="146.5" font-size="3.6" fill="#222" stroke="#222" stroke-width="0.15" transform="rotate(-35 334.8 144.9)">10<tspan font-size="2.6" dy="-1.4">0</tspan></text>
<line x1="334.8" y1="140.9" x2="334.8" y2="141.9" stroke="#333" stroke-width="0.4"/>
<text x="323.5" y="117.9" font-size="3.6" fill="#222" stroke="#222" stroke-width="0.15" transform="rotate(35 325.3 116.9)">10<tspan font-size="2.6" dy="-1.4">1</tspan></text>
<line x1="327.5" y1="116.9" x2="328.5" y2="116.9" stroke="#333" stroke-width="0.4"/>
<text x="342.7" y="146.5" font-size="3.6" fill="#222" stroke="#222" stroke-width="0.15" transform="rotate(-35 345.1 144.9)">10<tspan font-size="2.6" dy="-1.4">1</tspan></text>
<line x1="345.1" y1="140.9" x2="345.1" y2="141.9" stroke="#333" stroke-width="0.4"/>
<text x="323.5" y="127.6" font-size="3.6" fill="#222" stroke="#222" stroke-width="0.15" transform="rotate(35 325.3 126.6)">10<tspan font-size="2.6" dy="-1.4">2</tspan></text>
<line x1="327.5" y1="126.6" x2="328.5" y2="126.6" stroke="#333" stroke-width="0.4"/>
<text x="353" y="146.5" font-size="3.6" fill="#222" stroke="#222" stroke-width="0.15" transform="rotate(-35 355.4 144.9)">10<tspan font-size="2.6" dy="-1.4">2</tspan></text>
<line x1="355.4" y1="140.9" x2="355.4" y2="141.9" stroke="#333" stroke-width="0.4"/>
<text x="323.5" y="137.3" font-size="3.6" fill="#222" stroke="#222" stroke-width="0.15" transform="rotate(35 325.3 136.3)">10<tspan font-size="2.6" dy="-1.4">3</tspan></text>
<line x1="327.5" y1="136.3" x2="328.5" y2="136.3" stroke="#333" stroke-width="0.4"/>
<text x="363.3" y="146.5" font-size="3.6" fill="#222" stroke="#222" stroke-width="0.15" transform="rotate(-35 365.7 144.9)">10<tspan font-size="2.6" dy="-1.4">3</tspan></text>
<line x1="365.7" y1="140.9" x2="365.7" y2="141.9" stroke="#333" stroke-width="0.4"/>
<text x="331.1" y="101.5" font-size="7.78" stroke="#000" stroke-width="0.2" transform="matrix(0.9 0 0 1 33.11 0)">20 nM</text>
<text x="369.8" y="109.3" font-size="6.56" stroke="#222" stroke-width="0.08" text-anchor="end" fill="#222" transform="matrix(0.9 0 0 1 36.98 0)">3%</text>
<text x="331.1" y="130.8" font-size="6.56" stroke="#222" stroke-width="0.08" fill="#222" transform="matrix(0.9 0 0 1 33.11 0)">92%</text>
<text x="369.8" y="130.8" font-size="6.56" stroke="#222" stroke-width="0.08" text-anchor="end" fill="#222" transform="matrix(0.9 0 0 1 36.98 0)">5%</text>
<rect x="379.4" y="103" width="42.6" height="37.9" fill="#fff"/>
<clipPath id="c6"><rect x="379.4" y="103" width="42.6" height="37.9"/></clipPath>
<g clip-path="url(#c6)">
<ellipse cx="398.6" cy="131.8" rx="3.4" ry="8" fill="#000" opacity="0.72" filter="url(#b1)"/>
<ellipse cx="400.2" cy="121.5" rx="2.6" ry="5" fill="#000" opacity="0.45" filter="url(#b1)"/>
<ellipse cx="401" cy="116" rx="2" ry="3" fill="#000" opacity="0.15" filter="url(#b1)"/>
<ellipse cx="381" cy="139" rx="3" ry="4" fill="#000" opacity="0.3" filter="url(#b1)"/>
<path fill="#000" fill-opacity="0.22" d="M400.3 134.7h0.7v0.7h-0.7zM399.5 123.5h0.7v0.7h-0.7zM401.0 134.0h0.7v0.7h-0.7zM400.4 127.6h0.7v0.7h-0.7zM399.8 134.0h0.7v0.7h-0.7zM397.6 120.8h0.7v0.7h-0.7zM399.8 132.4h0.7v0.7h-0.7zM399.0 134.4h0.7v0.7h-0.7zM397.5 129.6h0.7v0.7h-0.7zM398.2 132.9h0.7v0.7h-0.7zM403.0 128.7h0.7v0.7h-0.7zM404.1 137.6h0.7v0.7h-0.7zM401.0 132.9h0.7v0.7h-0.7zM403.4 129.1h0.7v0.7h-0.7zM398.7 124.7h0.7v0.7h-0.7zM400.2 136.7h0.7v0.7h-0.7zM400.3 132.1h0.7v0.7h-0.7zM398.5 130.8h0.7v0.7h-0.7zM395.4 135.2h0.7v0.7h-0.7zM398.0 124.5h0.7v0.7h-0.7zM397.1 125.9h0.7v0.7h-0.7zM401.1 135.3h0.7v0.7h-0.7zM395.6 134.6h0.7v0.7h-0.7zM401.2 127.1h0.7v0.7h-0.7zM395.3 126.3h0.7v0.7h-0.7zM397.4 131.7h0.7v0.7h-0.7zM398.1 119.9h0.7v0.7h-0.7zM399.6 122.3h0.7v0.7h-0.7zM401.3 124.0h0.7v0.7h-0.7zM397.3 125.7h0.7v0.7h-0.7zM397.6 136.5h0.7v0.7h-0.7zM401.1 133.0h0.7v0.7h-0.7zM399.8 122.3h0.7v0.7h-0.7zM397.7 127.2h0.7v0.7h-0.7zM396.6 132.5h0.7v0.7h-0.7zM397.1 126.5h0.7v0.7h-0.7zM396.4 119.7h0.7v0.7h-0.7zM400.5 136.7h0.7v0.7h-0.7zM399.4 125.1h0.7v0.7h-0.7zM392.2 130.9h0.7v0.7h-0.7zM402.0 131.5h0.7v0.7h-0.7zM401.3 137.4h0.7v0.7h-0.7zM401.8 127.8h0.7v0.7h-0.7zM401.6 133.9h0.7v0.7h-0.7zM395.2 128.0h0.7v0.7h-0.7zM395.4 129.5h0.7v0.7h-0.7zM400.4 124.7h0.7v0.7h-0.7zM393.9 136.5h0.7v0.7h-0.7zM399.9 137.4h0.7v0.7h-0.7zM395.7 135.3h0.7v0.7h-0.7zM404.2 139.9h0.7v0.7h-0.7zM398.5 131.3h0.7v0.7h-0.7zM398.6 135.0h0.7v0.7h-0.7zM401.6 130.4h0.7v0.7h-0.7zM395.6 133.7h0.7v0.7h-0.7zM397.8 133.1h0.7v0.7h-0.7zM399.7 138.1h0.7v0.7h-0.7zM401.8 127.7h0.7v0.7h-0.7zM399.9 138.8h0.7v0.7h-0.7zM397.7 132.2h0.7v0.7h-0.7zM402.0 136.3h0.7v0.7h-0.7zM400.3 123.4h0.7v0.7h-0.7zM395.8 131.2h0.7v0.7h-0.7zM400.0 139.9h0.7v0.7h-0.7zM396.8 135.7h0.7v0.7h-0.7zM400.9 121.6h0.7v0.7h-0.7zM397.0 130.8h0.7v0.7h-0.7zM397.8 129.2h0.7v0.7h-0.7zM400.2 126.0h0.7v0.7h-0.7zM400.2 126.8h0.7v0.7h-0.7zM397.6 132.7h0.7v0.7h-0.7zM397.6 131.4h0.7v0.7h-0.7zM403.0 130.1h0.7v0.7h-0.7zM398.6 133.7h0.7v0.7h-0.7zM398.1 135.4h0.7v0.7h-0.7zM395.8 133.1h0.7v0.7h-0.7zM397.7 126.0h0.7v0.7h-0.7zM403.4 125.7h0.7v0.7h-0.7zM403.4 133.3h0.7v0.7h-0.7zM402.6 125.1h0.7v0.7h-0.7zM402.0 137.3h0.7v0.7h-0.7zM398.7 129.4h0.7v0.7h-0.7zM405.1 130.9h0.7v0.7h-0.7zM397.9 126.9h0.7v0.7h-0.7zM400.1 131.7h0.7v0.7h-0.7zM399.4 138.6h0.7v0.7h-0.7zM398.2 132.4h0.7v0.7h-0.7zM402.6 125.0h0.7v0.7h-0.7zM401.6 139.2h0.7v0.7h-0.7zM395.6 124.5h0.7v0.7h-0.7zM396.4 120.8h0.7v0.7h-0.7zM400.1 120.7h0.7v0.7h-0.7zM400.2 137.3h0.7v0.7h-0.7zM395.0 128.4h0.7v0.7h-0.7zM394.2 133.9h0.7v0.7h-0.7zM397.2 128.7h0.7v0.7h-0.7zM399.1 132.7h0.7v0.7h-0.7zM398.1 130.1h0.7v0.7h-0.7zM397.6 130.6h0.7v0.7h-0.7zM396.1 130.3h0.7v0.7h-0.7z"/>
</g>
<line x1="390.9" y1="103" x2="390.9" y2="140.9" stroke="#8a8a8a" stroke-width="0.6"/>
<line x1="379.4" y1="125.4" x2="422" y2="125.4" stroke="#8a8a8a" stroke-width="0.6"/>
<rect x="379.4" y="103" width="42.6" height="37.9" fill="none" stroke="#666" stroke-width="0.6"/>
<text x="374.4" y="108.2" font-size="3.6" fill="#222" stroke="#222" stroke-width="0.15" transform="rotate(35 376.2 107.2)">10<tspan font-size="2.6" dy="-1.4">0</tspan></text>
<line x1="378.4" y1="107.2" x2="379.4" y2="107.2" stroke="#333" stroke-width="0.4"/>
<text x="383.3" y="146.5" font-size="3.6" fill="#222" stroke="#222" stroke-width="0.15" transform="rotate(-35 385.7 144.9)">10<tspan font-size="2.6" dy="-1.4">0</tspan></text>
<line x1="385.7" y1="140.9" x2="385.7" y2="141.9" stroke="#333" stroke-width="0.4"/>
<text x="374.4" y="117.9" font-size="3.6" fill="#222" stroke="#222" stroke-width="0.15" transform="rotate(35 376.2 116.9)">10<tspan font-size="2.6" dy="-1.4">1</tspan></text>
<line x1="378.4" y1="116.9" x2="379.4" y2="116.9" stroke="#333" stroke-width="0.4"/>
<text x="393.6" y="146.5" font-size="3.6" fill="#222" stroke="#222" stroke-width="0.15" transform="rotate(-35 396 144.9)">10<tspan font-size="2.6" dy="-1.4">1</tspan></text>
<line x1="396" y1="140.9" x2="396" y2="141.9" stroke="#333" stroke-width="0.4"/>
<text x="374.4" y="127.6" font-size="3.6" fill="#222" stroke="#222" stroke-width="0.15" transform="rotate(35 376.2 126.6)">10<tspan font-size="2.6" dy="-1.4">2</tspan></text>
<line x1="378.4" y1="126.6" x2="379.4" y2="126.6" stroke="#333" stroke-width="0.4"/>
<text x="403.9" y="146.5" font-size="3.6" fill="#222" stroke="#222" stroke-width="0.15" transform="rotate(-35 406.3 144.9)">10<tspan font-size="2.6" dy="-1.4">2</tspan></text>
<line x1="406.3" y1="140.9" x2="406.3" y2="141.9" stroke="#333" stroke-width="0.4"/>
<text x="374.4" y="137.3" font-size="3.6" fill="#222" stroke="#222" stroke-width="0.15" transform="rotate(35 376.2 136.3)">10<tspan font-size="2.6" dy="-1.4">3</tspan></text>
<line x1="378.4" y1="136.3" x2="379.4" y2="136.3" stroke="#333" stroke-width="0.4"/>
<text x="414.2" y="146.5" font-size="3.6" fill="#222" stroke="#222" stroke-width="0.15" transform="rotate(-35 416.6 144.9)">10<tspan font-size="2.6" dy="-1.4">3</tspan></text>
<line x1="416.6" y1="140.9" x2="416.6" y2="141.9" stroke="#333" stroke-width="0.4"/>
<text x="381.5" y="101.5" font-size="7.78" stroke="#000" stroke-width="0.2" transform="matrix(0.9 0 0 1 38.15 0)">50 nM</text>
<text x="421" y="109.3" font-size="6.56" stroke="#222" stroke-width="0.08" text-anchor="end" fill="#222" transform="matrix(0.9 0 0 1 42.1 0)">7%</text>
<text x="382" y="130.8" font-size="6.56" stroke="#222" stroke-width="0.08" fill="#222" transform="matrix(0.9 0 0 1 38.2 0)">21%</text>
<text x="421" y="130.8" font-size="6.56" stroke="#222" stroke-width="0.08" text-anchor="end" fill="#222" transform="matrix(0.9 0 0 1 42.1 0)">72%</text>
<rect x="277.1" y="183.7" width="42.3" height="37.7" fill="#fff"/>
<clipPath id="c7"><rect x="277.1" y="183.7" width="42.3" height="37.7"/></clipPath>
<g clip-path="url(#c7)">
<ellipse cx="287" cy="219.5" rx="9.5" ry="4" fill="#000" opacity="0.52" filter="url(#b1)"/>
<ellipse cx="301" cy="195" rx="3.5" ry="3" fill="#000" opacity="0.15" filter="url(#b1)"/>
<ellipse cx="303" cy="212" rx="5" ry="6" fill="#000" opacity="0.06" filter="url(#b2)"/>
<path fill="#000" fill-opacity="0.25" d="M277.4 215.5h0.7v0.7h-0.7zM294.6 217.2h0.7v0.7h-0.7zM278.7 217.8h0.7v0.7h-0.7zM280.1 212.0h0.7v0.7h-0.7zM281.3 219.2h0.7v0.7h-0.7zM286.9 216.7h0.7v0.7h-0.7zM280.4 213.8h0.7v0.7h-0.7zM291.7 217.7h0.7v0.7h-0.7zM280.2 210.7h0.7v0.7h-0.7zM278.2 220.4h0.7v0.7h-0.7zM279.3 216.8h0.7v0.7h-0.7zM286.1 216.5h0.7v0.7h-0.7zM283.6 212.9h0.7v0.7h-0.7zM279.7 220.4h0.7v0.7h-0.7zM281.2 219.5h0.7v0.7h-0.7zM277.4 216.2h0.7v0.7h-0.7zM286.3 220.1h0.7v0.7h-0.7zM279.4 218.8h0.7v0.7h-0.7zM286.9 214.8h0.7v0.7h-0.7zM287.4 214.3h0.7v0.7h-0.7zM281.0 216.9h0.7v0.7h-0.7zM277.4 216.7h0.7v0.7h-0.7zM280.0 212.6h0.7v0.7h-0.7zM282.9 219.3h0.7v0.7h-0.7zM283.0 220.4h0.7v0.7h-0.7zM279.2 213.1h0.7v0.7h-0.7zM292.8 218.2h0.7v0.7h-0.7zM289.7 214.5h0.7v0.7h-0.7zM289.0 217.8h0.7v0.7h-0.7zM288.2 217.1h0.7v0.7h-0.7zM291.0 215.1h0.7v0.7h-0.7zM280.2 212.6h0.7v0.7h-0.7zM290.8 214.8h0.7v0.7h-0.7zM279.8 214.2h0.7v0.7h-0.7zM282.8 213.2h0.7v0.7h-0.7zM283.5 215.1h0.7v0.7h-0.7zM282.2 214.1h0.7v0.7h-0.7zM285.2 215.6h0.7v0.7h-0.7zM285.6 217.7h0.7v0.7h-0.7zM286.7 210.4h0.7v0.7h-0.7zM282.3 214.6h0.7v0.7h-0.7zM288.9 212.3h0.7v0.7h-0.7zM281.4 216.1h0.7v0.7h-0.7zM283.3 220.0h0.7v0.7h-0.7zM282.8 219.9h0.7v0.7h-0.7zM277.7 211.6h0.7v0.7h-0.7zM291.1 218.3h0.7v0.7h-0.7zM287.4 217.4h0.7v0.7h-0.7zM287.4 213.4h0.7v0.7h-0.7zM289.7 215.4h0.7v0.7h-0.7zM289.9 217.3h0.7v0.7h-0.7zM277.4 213.1h0.7v0.7h-0.7zM290.6 216.6h0.7v0.7h-0.7zM283.0 217.7h0.7v0.7h-0.7zM282.9 215.4h0.7v0.7h-0.7zM285.5 217.4h0.7v0.7h-0.7zM292.6 217.1h0.7v0.7h-0.7zM294.4 220.4h0.7v0.7h-0.7zM293.6 220.2h0.7v0.7h-0.7zM285.7 217.4h0.7v0.7h-0.7zM284.3 214.8h0.7v0.7h-0.7zM284.7 215.1h0.7v0.7h-0.7zM293.2 218.6h0.7v0.7h-0.7zM282.8 211.3h0.7v0.7h-0.7zM284.7 215.8h0.7v0.7h-0.7zM279.6 213.6h0.7v0.7h-0.7zM277.4 218.7h0.7v0.7h-0.7zM284.7 220.4h0.7v0.7h-0.7zM284.8 216.6h0.7v0.7h-0.7zM292.2 217.4h0.7v0.7h-0.7zM285.8 215.9h0.7v0.7h-0.7zM282.0 220.4h0.7v0.7h-0.7zM290.0 220.4h0.7v0.7h-0.7zM283.3 217.1h0.7v0.7h-0.7zM280.6 219.9h0.7v0.7h-0.7zM278.0 218.7h0.7v0.7h-0.7zM290.5 220.4h0.7v0.7h-0.7zM280.3 220.3h0.7v0.7h-0.7zM281.4 214.7h0.7v0.7h-0.7zM278.4 220.4h0.7v0.7h-0.7zM293.2 215.2h0.7v0.7h-0.7zM281.2 216.0h0.7v0.7h-0.7zM297.5 220.0h0.7v0.7h-0.7zM282.3 211.6h0.7v0.7h-0.7zM281.6 220.4h0.7v0.7h-0.7zM294.3 216.2h0.7v0.7h-0.7zM281.5 215.5h0.7v0.7h-0.7zM277.4 219.7h0.7v0.7h-0.7zM279.6 220.2h0.7v0.7h-0.7zM277.4 213.2h0.7v0.7h-0.7zM286.4 214.7h0.7v0.7h-0.7zM288.9 217.0h0.7v0.7h-0.7zM279.1 218.9h0.7v0.7h-0.7zM289.2 211.3h0.7v0.7h-0.7zM294.1 218.5h0.7v0.7h-0.7zM288.8 211.4h0.7v0.7h-0.7zM281.4 216.0h0.7v0.7h-0.7zM290.4 212.6h0.7v0.7h-0.7zM280.6 210.9h0.7v0.7h-0.7zM283.8 218.0h0.7v0.7h-0.7zM277.4 215.2h0.7v0.7h-0.7zM287.6 220.4h0.7v0.7h-0.7zM288.3 216.1h0.7v0.7h-0.7zM279.1 214.2h0.7v0.7h-0.7zM281.7 217.4h0.7v0.7h-0.7zM284.8 220.4h0.7v0.7h-0.7zM286.4 213.8h0.7v0.7h-0.7zM292.7 219.8h0.7v0.7h-0.7zM285.5 214.8h0.7v0.7h-0.7zM277.4 213.9h0.7v0.7h-0.7z"/>
<path fill="#000" fill-opacity="0.2" d="M304.3 193.4h0.7v0.7h-0.7zM298.7 195.4h0.7v0.7h-0.7zM302.6 196.2h0.7v0.7h-0.7zM303.6 197.8h0.7v0.7h-0.7zM299.9 197.0h0.7v0.7h-0.7zM299.5 196.4h0.7v0.7h-0.7zM302.4 195.5h0.7v0.7h-0.7zM304.4 195.0h0.7v0.7h-0.7zM304.8 196.8h0.7v0.7h-0.7zM302.3 193.9h0.7v0.7h-0.7zM300.1 193.9h0.7v0.7h-0.7zM301.5 195.0h0.7v0.7h-0.7zM309.5 196.3h0.7v0.7h-0.7zM303.9 193.3h0.7v0.7h-0.7zM300.2 194.4h0.7v0.7h-0.7zM302.5 192.9h0.7v0.7h-0.7zM306.0 193.9h0.7v0.7h-0.7zM304.7 190.3h0.7v0.7h-0.7zM302.0 195.6h0.7v0.7h-0.7zM302.5 196.2h0.7v0.7h-0.7z"/>
</g>
<line x1="295.7" y1="183.7" x2="295.7" y2="221.4" stroke="#8a8a8a" stroke-width="0.6"/>
<line x1="277.1" y1="204.6" x2="319.4" y2="204.6" stroke="#8a8a8a" stroke-width="0.6"/>
<rect x="277.1" y="183.7" width="42.3" height="37.7" fill="none" stroke="#666" stroke-width="0.6"/>
<text x="272.1" y="188.9" font-size="3.6" fill="#222" stroke="#222" stroke-width="0.15" transform="rotate(35 273.9 187.9)">10<tspan font-size="2.6" dy="-1.4">0</tspan></text>
<line x1="276.1" y1="187.9" x2="277.1" y2="187.9" stroke="#333" stroke-width="0.4"/>
<text x="281" y="227" font-size="3.6" fill="#222" stroke="#222" stroke-width="0.15" transform="rotate(-35 283.4 225.4)">10<tspan font-size="2.6" dy="-1.4">0</tspan></text>
<line x1="283.4" y1="221.4" x2="283.4" y2="222.4" stroke="#333" stroke-width="0.4"/>
<text x="272.1" y="198.6" font-size="3.6" fill="#222" stroke="#222" stroke-width="0.15" transform="rotate(35 273.9 197.6)">10<tspan font-size="2.6" dy="-1.4">1</tspan></text>
<line x1="276.1" y1="197.6" x2="277.1" y2="197.6" stroke="#333" stroke-width="0.4"/>
<text x="291.3" y="227" font-size="3.6" fill="#222" stroke="#222" stroke-width="0.15" transform="rotate(-35 293.7 225.4)">10<tspan font-size="2.6" dy="-1.4">1</tspan></text>
<line x1="293.7" y1="221.4" x2="293.7" y2="222.4" stroke="#333" stroke-width="0.4"/>
<text x="272.1" y="208.3" font-size="3.6" fill="#222" stroke="#222" stroke-width="0.15" transform="rotate(35 273.9 207.3)">10<tspan font-size="2.6" dy="-1.4">2</tspan></text>
<line x1="276.1" y1="207.3" x2="277.1" y2="207.3" stroke="#333" stroke-width="0.4"/>
<text x="301.6" y="227" font-size="3.6" fill="#222" stroke="#222" stroke-width="0.15" transform="rotate(-35 304 225.4)">10<tspan font-size="2.6" dy="-1.4">2</tspan></text>
<line x1="304" y1="221.4" x2="304" y2="222.4" stroke="#333" stroke-width="0.4"/>
<text x="272.1" y="218" font-size="3.6" fill="#222" stroke="#222" stroke-width="0.15" transform="rotate(35 273.9 217)">10<tspan font-size="2.6" dy="-1.4">3</tspan></text>
<line x1="276.1" y1="217" x2="277.1" y2="217" stroke="#333" stroke-width="0.4"/>
<text x="311.9" y="227" font-size="3.6" fill="#222" stroke="#222" stroke-width="0.15" transform="rotate(-35 314.3 225.4)">10<tspan font-size="2.6" dy="-1.4">3</tspan></text>
<line x1="314.3" y1="221.4" x2="314.3" y2="222.4" stroke="#333" stroke-width="0.4"/>
<text x="278.7" y="181.8" font-size="7.78" stroke="#000" stroke-width="0.2" transform="matrix(0.9 0 0 1 27.87 0)">0 nM</text>
<text x="318.4" y="190" font-size="6.56" stroke="#222" stroke-width="0.08" text-anchor="end" fill="#222" transform="matrix(0.9 0 0 1 31.84 0)">3%</text>
<text x="279.7" y="210" font-size="6.56" stroke="#222" stroke-width="0.08" fill="#222" transform="matrix(0.9 0 0 1 27.97 0)">91%</text>
<text x="318.4" y="210" font-size="6.56" stroke="#222" stroke-width="0.08" text-anchor="end" fill="#222" transform="matrix(0.9 0 0 1 31.84 0)">6%</text>
<text x="268.3" y="201.9" font-size="6.2" stroke="#000" stroke-width="0.2" text-anchor="middle" transform="rotate(-90 268.3 201.9)">PI</text>
<text x="297.8" y="234.5" font-size="7.3" stroke="#000" stroke-width="0.2" text-anchor="middle" textLength="42.8" lengthAdjust="spacingAndGlyphs">annexin-V-FITC</text>
<rect x="327.7" y="183.7" width="42.1" height="37.7" fill="#fff"/>
<clipPath id="c8"><rect x="327.7" y="183.7" width="42.1" height="37.7"/></clipPath>
<g clip-path="url(#c8)">
<ellipse cx="336.5" cy="219.5" rx="9" ry="4" fill="#000" opacity="0.5" filter="url(#b1)"/>
<ellipse cx="354" cy="196" rx="2.5" ry="3.5" fill="#000" opacity="0.45" filter="url(#b1)"/>
<ellipse cx="343" cy="197" rx="7" ry="1.5" fill="#000" opacity="0.1" filter="url(#b1)"/>
<ellipse cx="351" cy="213" rx="3" ry="7" fill="#000" opacity="0.25" filter="url(#b1)"/>
<path fill="#000" fill-opacity="0.25" d="M336.4 217.4h0.7v0.7h-0.7zM328.0 215.2h0.7v0.7h-0.7zM328.0 218.6h0.7v0.7h-0.7zM336.5 216.5h0.7v0.7h-0.7zM330.9 215.5h0.7v0.7h-0.7zM344.2 220.4h0.7v0.7h-0.7zM334.7 220.2h0.7v0.7h-0.7zM328.0 212.2h0.7v0.7h-0.7zM332.6 214.8h0.7v0.7h-0.7zM332.2 217.5h0.7v0.7h-0.7zM350.1 215.3h0.7v0.7h-0.7zM335.2 217.7h0.7v0.7h-0.7zM334.8 219.3h0.7v0.7h-0.7zM343.9 213.9h0.7v0.7h-0.7zM335.8 216.3h0.7v0.7h-0.7zM336.8 213.2h0.7v0.7h-0.7zM328.0 211.2h0.7v0.7h-0.7zM337.6 217.5h0.7v0.7h-0.7zM335.4 211.1h0.7v0.7h-0.7zM333.1 215.1h0.7v0.7h-0.7zM328.0 214.7h0.7v0.7h-0.7zM338.5 218.4h0.7v0.7h-0.7zM334.9 218.3h0.7v0.7h-0.7zM332.0 217.2h0.7v0.7h-0.7zM335.2 218.4h0.7v0.7h-0.7zM334.7 216.6h0.7v0.7h-0.7zM334.3 215.4h0.7v0.7h-0.7zM346.2 218.3h0.7v0.7h-0.7zM337.1 220.4h0.7v0.7h-0.7zM342.0 213.1h0.7v0.7h-0.7zM338.5 219.1h0.7v0.7h-0.7zM344.4 220.3h0.7v0.7h-0.7zM338.9 214.1h0.7v0.7h-0.7zM330.6 217.7h0.7v0.7h-0.7zM337.5 214.4h0.7v0.7h-0.7zM333.1 216.0h0.7v0.7h-0.7zM335.3 217.8h0.7v0.7h-0.7zM333.6 213.9h0.7v0.7h-0.7zM341.2 220.4h0.7v0.7h-0.7zM334.5 219.6h0.7v0.7h-0.7zM337.2 218.6h0.7v0.7h-0.7zM337.4 215.1h0.7v0.7h-0.7zM337.9 219.5h0.7v0.7h-0.7zM330.5 220.4h0.7v0.7h-0.7zM345.4 220.4h0.7v0.7h-0.7zM344.9 218.9h0.7v0.7h-0.7zM333.3 215.5h0.7v0.7h-0.7zM330.9 217.3h0.7v0.7h-0.7zM334.8 218.7h0.7v0.7h-0.7zM328.0 220.4h0.7v0.7h-0.7zM346.4 216.9h0.7v0.7h-0.7zM338.4 218.2h0.7v0.7h-0.7zM336.4 216.5h0.7v0.7h-0.7zM334.4 214.9h0.7v0.7h-0.7zM335.9 216.9h0.7v0.7h-0.7zM336.6 214.9h0.7v0.7h-0.7zM335.2 217.1h0.7v0.7h-0.7zM338.0 214.3h0.7v0.7h-0.7zM337.1 219.5h0.7v0.7h-0.7zM338.0 216.1h0.7v0.7h-0.7zM332.5 216.4h0.7v0.7h-0.7zM338.6 220.4h0.7v0.7h-0.7zM334.2 215.4h0.7v0.7h-0.7zM336.9 217.5h0.7v0.7h-0.7zM330.5 215.2h0.7v0.7h-0.7zM334.5 218.7h0.7v0.7h-0.7zM329.0 214.5h0.7v0.7h-0.7zM337.5 213.9h0.7v0.7h-0.7zM335.5 217.9h0.7v0.7h-0.7zM334.4 214.5h0.7v0.7h-0.7zM334.7 216.2h0.7v0.7h-0.7zM336.7 214.9h0.7v0.7h-0.7zM340.5 212.8h0.7v0.7h-0.7zM334.1 217.0h0.7v0.7h-0.7zM339.8 215.5h0.7v0.7h-0.7zM337.7 215.6h0.7v0.7h-0.7zM338.7 220.4h0.7v0.7h-0.7zM333.0 218.1h0.7v0.7h-0.7zM330.4 219.4h0.7v0.7h-0.7zM341.1 217.1h0.7v0.7h-0.7zM329.3 218.0h0.7v0.7h-0.7zM340.7 219.7h0.7v0.7h-0.7zM339.1 212.4h0.7v0.7h-0.7zM331.6 220.4h0.7v0.7h-0.7zM328.9 219.8h0.7v0.7h-0.7zM344.4 218.9h0.7v0.7h-0.7zM340.6 216.2h0.7v0.7h-0.7zM328.9 216.7h0.7v0.7h-0.7zM334.0 216.9h0.7v0.7h-0.7zM338.5 216.6h0.7v0.7h-0.7zM336.0 218.1h0.7v0.7h-0.7zM335.0 220.4h0.7v0.7h-0.7zM337.2 217.2h0.7v0.7h-0.7zM334.0 215.4h0.7v0.7h-0.7zM341.7 217.4h0.7v0.7h-0.7zM329.6 215.6h0.7v0.7h-0.7zM334.3 215.9h0.7v0.7h-0.7zM340.4 214.1h0.7v0.7h-0.7zM337.5 217.4h0.7v0.7h-0.7zM329.1 217.1h0.7v0.7h-0.7z"/>
<path fill="#000" fill-opacity="0.25" d="M350.8 211.5h0.7v0.7h-0.7zM349.9 210.1h0.7v0.7h-0.7zM346.8 200.4h0.7v0.7h-0.7zM353.0 215.3h0.7v0.7h-0.7zM351.0 203.8h0.7v0.7h-0.7zM353.7 193.4h0.7v0.7h-0.7zM349.0 212.7h0.7v0.7h-0.7zM352.6 200.8h0.7v0.7h-0.7zM346.3 218.2h0.7v0.7h-0.7zM351.4 201.7h0.7v0.7h-0.7zM351.1 214.3h0.7v0.7h-0.7zM344.5 215.8h0.7v0.7h-0.7zM352.9 193.4h0.7v0.7h-0.7zM352.9 195.5h0.7v0.7h-0.7zM353.8 210.8h0.7v0.7h-0.7zM356.6 203.7h0.7v0.7h-0.7zM351.0 215.3h0.7v0.7h-0.7zM349.4 203.1h0.7v0.7h-0.7zM350.1 207.5h0.7v0.7h-0.7zM348.3 211.4h0.7v0.7h-0.7zM352.4 208.5h0.7v0.7h-0.7zM355.3 205.7h0.7v0.7h-0.7zM354.3 204.2h0.7v0.7h-0.7zM352.9 194.5h0.7v0.7h-0.7zM351.5 206.8h0.7v0.7h-0.7zM349.8 203.7h0.7v0.7h-0.7zM350.1 203.0h0.7v0.7h-0.7zM345.5 203.8h0.7v0.7h-0.7zM349.6 204.3h0.7v0.7h-0.7zM348.4 207.1h0.7v0.7h-0.7zM353.0 206.2h0.7v0.7h-0.7zM349.8 217.5h0.7v0.7h-0.7zM353.4 214.5h0.7v0.7h-0.7zM353.9 205.7h0.7v0.7h-0.7zM350.7 215.8h0.7v0.7h-0.7zM349.6 207.2h0.7v0.7h-0.7zM351.9 210.6h0.7v0.7h-0.7zM350.3 214.9h0.7v0.7h-0.7zM350.6 213.1h0.7v0.7h-0.7zM353.7 212.6h0.7v0.7h-0.7zM352.8 199.9h0.7v0.7h-0.7zM347.7 203.7h0.7v0.7h-0.7zM352.2 218.5h0.7v0.7h-0.7zM347.9 210.1h0.7v0.7h-0.7zM348.9 202.9h0.7v0.7h-0.7zM350.3 212.8h0.7v0.7h-0.7zM351.5 216.3h0.7v0.7h-0.7zM348.5 214.2h0.7v0.7h-0.7zM353.3 208.5h0.7v0.7h-0.7zM352.2 204.1h0.7v0.7h-0.7z"/>
</g>
<line x1="345.7" y1="183.7" x2="345.7" y2="221.4" stroke="#8a8a8a" stroke-width="0.6"/>
<line x1="327.7" y1="204.6" x2="369.8" y2="204.6" stroke="#8a8a8a" stroke-width="0.6"/>
<rect x="327.7" y="183.7" width="42.1" height="37.7" fill="none" stroke="#666" stroke-width="0.6"/>
<text x="322.7" y="188.9" font-size="3.6" fill="#222" stroke="#222" stroke-width="0.15" transform="rotate(35 324.5 187.9)">10<tspan font-size="2.6" dy="-1.4">0</tspan></text>
<line x1="326.7" y1="187.9" x2="327.7" y2="187.9" stroke="#333" stroke-width="0.4"/>
<text x="331.6" y="227" font-size="3.6" fill="#222" stroke="#222" stroke-width="0.15" transform="rotate(-35 334 225.4)">10<tspan font-size="2.6" dy="-1.4">0</tspan></text>
<line x1="334" y1="221.4" x2="334" y2="222.4" stroke="#333" stroke-width="0.4"/>
<text x="322.7" y="198.6" font-size="3.6" fill="#222" stroke="#222" stroke-width="0.15" transform="rotate(35 324.5 197.6)">10<tspan font-size="2.6" dy="-1.4">1</tspan></text>
<line x1="326.7" y1="197.6" x2="327.7" y2="197.6" stroke="#333" stroke-width="0.4"/>
<text x="341.9" y="227" font-size="3.6" fill="#222" stroke="#222" stroke-width="0.15" transform="rotate(-35 344.3 225.4)">10<tspan font-size="2.6" dy="-1.4">1</tspan></text>
<line x1="344.3" y1="221.4" x2="344.3" y2="222.4" stroke="#333" stroke-width="0.4"/>
<text x="322.7" y="208.3" font-size="3.6" fill="#222" stroke="#222" stroke-width="0.15" transform="rotate(35 324.5 207.3)">10<tspan font-size="2.6" dy="-1.4">2</tspan></text>
<line x1="326.7" y1="207.3" x2="327.7" y2="207.3" stroke="#333" stroke-width="0.4"/>
<text x="352.2" y="227" font-size="3.6" fill="#222" stroke="#222" stroke-width="0.15" transform="rotate(-35 354.6 225.4)">10<tspan font-size="2.6" dy="-1.4">2</tspan></text>
<line x1="354.6" y1="221.4" x2="354.6" y2="222.4" stroke="#333" stroke-width="0.4"/>
<text x="322.7" y="218" font-size="3.6" fill="#222" stroke="#222" stroke-width="0.15" transform="rotate(35 324.5 217)">10<tspan font-size="2.6" dy="-1.4">3</tspan></text>
<line x1="326.7" y1="217" x2="327.7" y2="217" stroke="#333" stroke-width="0.4"/>
<text x="362.5" y="227" font-size="3.6" fill="#222" stroke="#222" stroke-width="0.15" transform="rotate(-35 364.9 225.4)">10<tspan font-size="2.6" dy="-1.4">3</tspan></text>
<line x1="364.9" y1="221.4" x2="364.9" y2="222.4" stroke="#333" stroke-width="0.4"/>
<text x="329.2" y="181.8" font-size="7.78" stroke="#000" stroke-width="0.2" transform="matrix(0.9 0 0 1 32.92 0)">500 nM</text>
<text x="368.8" y="190" font-size="6.56" stroke="#222" stroke-width="0.08" text-anchor="end" fill="#222" transform="matrix(0.9 0 0 1 36.88 0)">7%</text>
<text x="330.3" y="210" font-size="6.56" stroke="#222" stroke-width="0.08" fill="#222" transform="matrix(0.9 0 0 1 33.03 0)">77%</text>
<text x="368.8" y="210" font-size="6.56" stroke="#222" stroke-width="0.08" text-anchor="end" fill="#222" transform="matrix(0.9 0 0 1 36.88 0)">14%</text>
<rect x="378.1" y="183.7" width="43.3" height="37.7" fill="#fff"/>
<clipPath id="c9"><rect x="378.1" y="183.7" width="43.3" height="37.7"/></clipPath>
<g clip-path="url(#c9)">
<ellipse cx="388" cy="219.5" rx="9" ry="4" fill="#000" opacity="0.5" filter="url(#b1)"/>
<ellipse cx="401" cy="199" rx="4.5" ry="2.3" fill="#000" opacity="0.75" filter="url(#b1)"/>
<ellipse cx="390" cy="199" rx="7" ry="2.3" fill="#000" opacity="0.25" filter="url(#b1)"/>
<ellipse cx="402" cy="212" rx="2.8" ry="6.5" fill="#000" opacity="0.6" filter="url(#b1)"/>
<path fill="#000" fill-opacity="0.25" d="M381.6 216.0h0.7v0.7h-0.7zM383.8 220.4h0.7v0.7h-0.7zM384.6 220.4h0.7v0.7h-0.7zM388.0 217.8h0.7v0.7h-0.7zM390.7 215.1h0.7v0.7h-0.7zM391.6 217.9h0.7v0.7h-0.7zM379.4 218.5h0.7v0.7h-0.7zM389.8 218.1h0.7v0.7h-0.7zM394.9 216.0h0.7v0.7h-0.7zM389.6 218.9h0.7v0.7h-0.7zM382.5 220.0h0.7v0.7h-0.7zM379.7 213.7h0.7v0.7h-0.7zM389.6 214.3h0.7v0.7h-0.7zM386.4 212.9h0.7v0.7h-0.7zM387.3 214.2h0.7v0.7h-0.7zM388.7 213.2h0.7v0.7h-0.7zM389.2 216.3h0.7v0.7h-0.7zM387.3 216.8h0.7v0.7h-0.7zM387.7 213.7h0.7v0.7h-0.7zM378.4 217.1h0.7v0.7h-0.7zM382.3 215.9h0.7v0.7h-0.7zM389.1 212.0h0.7v0.7h-0.7zM383.2 215.5h0.7v0.7h-0.7zM381.7 217.8h0.7v0.7h-0.7zM386.3 214.9h0.7v0.7h-0.7zM382.1 219.0h0.7v0.7h-0.7zM383.7 218.5h0.7v0.7h-0.7zM389.2 212.3h0.7v0.7h-0.7zM381.6 217.0h0.7v0.7h-0.7zM388.7 218.9h0.7v0.7h-0.7zM391.0 219.6h0.7v0.7h-0.7zM385.1 216.5h0.7v0.7h-0.7zM390.9 215.9h0.7v0.7h-0.7zM392.3 213.0h0.7v0.7h-0.7zM390.3 216.6h0.7v0.7h-0.7zM378.4 219.4h0.7v0.7h-0.7zM388.6 217.1h0.7v0.7h-0.7zM381.6 215.8h0.7v0.7h-0.7zM394.6 214.9h0.7v0.7h-0.7zM378.4 214.9h0.7v0.7h-0.7zM381.0 216.7h0.7v0.7h-0.7zM385.0 214.7h0.7v0.7h-0.7zM382.8 219.6h0.7v0.7h-0.7zM379.8 220.4h0.7v0.7h-0.7zM384.3 214.3h0.7v0.7h-0.7zM390.9 218.4h0.7v0.7h-0.7zM381.8 218.9h0.7v0.7h-0.7zM378.4 214.7h0.7v0.7h-0.7zM392.6 216.4h0.7v0.7h-0.7zM380.5 218.3h0.7v0.7h-0.7zM391.6 216.9h0.7v0.7h-0.7zM378.4 216.1h0.7v0.7h-0.7zM389.1 218.9h0.7v0.7h-0.7zM396.3 216.4h0.7v0.7h-0.7zM384.6 216.9h0.7v0.7h-0.7zM393.0 214.6h0.7v0.7h-0.7zM393.5 210.1h0.7v0.7h-0.7zM391.0 215.3h0.7v0.7h-0.7zM389.3 218.7h0.7v0.7h-0.7zM381.1 216.8h0.7v0.7h-0.7zM388.2 218.5h0.7v0.7h-0.7zM382.3 214.5h0.7v0.7h-0.7zM378.4 220.4h0.7v0.7h-0.7zM386.0 216.4h0.7v0.7h-0.7zM379.5 219.3h0.7v0.7h-0.7zM384.3 220.4h0.7v0.7h-0.7zM391.3 217.1h0.7v0.7h-0.7zM390.6 214.2h0.7v0.7h-0.7zM385.4 215.6h0.7v0.7h-0.7zM380.7 217.0h0.7v0.7h-0.7zM386.3 220.4h0.7v0.7h-0.7zM378.4 215.3h0.7v0.7h-0.7zM382.4 215.8h0.7v0.7h-0.7zM389.1 218.0h0.7v0.7h-0.7zM387.1 215.8h0.7v0.7h-0.7zM389.5 217.9h0.7v0.7h-0.7zM378.4 216.3h0.7v0.7h-0.7zM380.1 214.0h0.7v0.7h-0.7zM387.7 217.2h0.7v0.7h-0.7zM387.6 214.8h0.7v0.7h-0.7zM386.0 214.7h0.7v0.7h-0.7zM388.9 218.7h0.7v0.7h-0.7zM395.8 220.2h0.7v0.7h-0.7zM383.0 215.9h0.7v0.7h-0.7zM382.3 217.8h0.7v0.7h-0.7zM396.9 218.8h0.7v0.7h-0.7zM378.4 213.9h0.7v0.7h-0.7zM380.5 218.3h0.7v0.7h-0.7zM387.0 217.7h0.7v0.7h-0.7zM395.9 214.9h0.7v0.7h-0.7z"/>
<path fill="#000" fill-opacity="0.25" d="M399.9 220.4h0.7v0.7h-0.7zM402.9 205.3h0.7v0.7h-0.7zM396.9 200.9h0.7v0.7h-0.7zM395.9 210.4h0.7v0.7h-0.7zM402.1 216.0h0.7v0.7h-0.7zM401.7 205.8h0.7v0.7h-0.7zM400.1 220.4h0.7v0.7h-0.7zM397.6 211.0h0.7v0.7h-0.7zM402.1 213.7h0.7v0.7h-0.7zM401.0 213.0h0.7v0.7h-0.7zM404.0 209.1h0.7v0.7h-0.7zM400.9 208.9h0.7v0.7h-0.7zM399.6 208.8h0.7v0.7h-0.7zM401.2 211.3h0.7v0.7h-0.7zM405.3 217.8h0.7v0.7h-0.7zM400.9 213.6h0.7v0.7h-0.7zM402.7 214.6h0.7v0.7h-0.7zM402.1 211.6h0.7v0.7h-0.7zM400.8 205.3h0.7v0.7h-0.7zM404.2 217.8h0.7v0.7h-0.7zM403.7 212.6h0.7v0.7h-0.7zM402.7 207.3h0.7v0.7h-0.7zM397.5 214.0h0.7v0.7h-0.7zM402.5 206.7h0.7v0.7h-0.7zM399.6 217.7h0.7v0.7h-0.7zM397.5 220.4h0.7v0.7h-0.7zM403.6 220.4h0.7v0.7h-0.7zM400.2 209.9h0.7v0.7h-0.7zM400.7 210.9h0.7v0.7h-0.7zM401.5 205.5h0.7v0.7h-0.7zM404.7 205.3h0.7v0.7h-0.7zM400.7 213.3h0.7v0.7h-0.7zM400.7 207.4h0.7v0.7h-0.7zM402.9 207.8h0.7v0.7h-0.7zM398.9 209.4h0.7v0.7h-0.7zM401.5 220.2h0.7v0.7h-0.7zM399.3 215.8h0.7v0.7h-0.7zM400.0 207.9h0.7v0.7h-0.7zM401.2 211.6h0.7v0.7h-0.7zM404.2 220.4h0.7v0.7h-0.7zM400.4 218.0h0.7v0.7h-0.7zM404.5 214.9h0.7v0.7h-0.7zM400.1 215.4h0.7v0.7h-0.7zM401.7 212.1h0.7v0.7h-0.7zM401.3 214.0h0.7v0.7h-0.7zM404.8 216.8h0.7v0.7h-0.7zM401.5 216.0h0.7v0.7h-0.7zM405.6 204.4h0.7v0.7h-0.7zM405.7 202.0h0.7v0.7h-0.7zM403.4 213.6h0.7v0.7h-0.7zM405.7 211.7h0.7v0.7h-0.7zM400.8 205.2h0.7v0.7h-0.7zM398.9 214.6h0.7v0.7h-0.7zM401.4 205.7h0.7v0.7h-0.7zM403.3 205.4h0.7v0.7h-0.7zM400.9 207.2h0.7v0.7h-0.7zM406.1 218.8h0.7v0.7h-0.7zM401.6 200.6h0.7v0.7h-0.7zM402.7 210.4h0.7v0.7h-0.7zM402.9 213.4h0.7v0.7h-0.7zM401.2 215.6h0.7v0.7h-0.7zM404.1 211.3h0.7v0.7h-0.7zM401.0 207.1h0.7v0.7h-0.7zM403.7 203.4h0.7v0.7h-0.7zM401.6 205.5h0.7v0.7h-0.7zM398.5 213.6h0.7v0.7h-0.7zM401.9 210.2h0.7v0.7h-0.7zM404.2 201.0h0.7v0.7h-0.7zM401.8 211.7h0.7v0.7h-0.7zM404.1 203.5h0.7v0.7h-0.7z"/>
</g>
<line x1="396.2" y1="183.7" x2="396.2" y2="221.4" stroke="#8a8a8a" stroke-width="0.6"/>
<line x1="378.1" y1="204.6" x2="421.4" y2="204.6" stroke="#8a8a8a" stroke-width="0.6"/>
<rect x="378.1" y="183.7" width="43.3" height="37.7" fill="none" stroke="#666" stroke-width="0.6"/>
<text x="373.1" y="188.9" font-size="3.6" fill="#222" stroke="#222" stroke-width="0.15" transform="rotate(35 374.9 187.9)">10<tspan font-size="2.6" dy="-1.4">0</tspan></text>
<line x1="377.1" y1="187.9" x2="378.1" y2="187.9" stroke="#333" stroke-width="0.4"/>
<text x="382" y="227" font-size="3.6" fill="#222" stroke="#222" stroke-width="0.15" transform="rotate(-35 384.4 225.4)">10<tspan font-size="2.6" dy="-1.4">0</tspan></text>
<line x1="384.4" y1="221.4" x2="384.4" y2="222.4" stroke="#333" stroke-width="0.4"/>
<text x="373.1" y="198.6" font-size="3.6" fill="#222" stroke="#222" stroke-width="0.15" transform="rotate(35 374.9 197.6)">10<tspan font-size="2.6" dy="-1.4">1</tspan></text>
<line x1="377.1" y1="197.6" x2="378.1" y2="197.6" stroke="#333" stroke-width="0.4"/>
<text x="392.3" y="227" font-size="3.6" fill="#222" stroke="#222" stroke-width="0.15" transform="rotate(-35 394.7 225.4)">10<tspan font-size="2.6" dy="-1.4">1</tspan></text>
<line x1="394.7" y1="221.4" x2="394.7" y2="222.4" stroke="#333" stroke-width="0.4"/>
<text x="373.1" y="208.3" font-size="3.6" fill="#222" stroke="#222" stroke-width="0.15" transform="rotate(35 374.9 207.3)">10<tspan font-size="2.6" dy="-1.4">2</tspan></text>
<line x1="377.1" y1="207.3" x2="378.1" y2="207.3" stroke="#333" stroke-width="0.4"/>
<text x="402.6" y="227" font-size="3.6" fill="#222" stroke="#222" stroke-width="0.15" transform="rotate(-35 405 225.4)">10<tspan font-size="2.6" dy="-1.4">2</tspan></text>
<line x1="405" y1="221.4" x2="405" y2="222.4" stroke="#333" stroke-width="0.4"/>
<text x="373.1" y="218" font-size="3.6" fill="#222" stroke="#222" stroke-width="0.15" transform="rotate(35 374.9 217)">10<tspan font-size="2.6" dy="-1.4">3</tspan></text>
<line x1="377.1" y1="217" x2="378.1" y2="217" stroke="#333" stroke-width="0.4"/>
<text x="412.9" y="227" font-size="3.6" fill="#222" stroke="#222" stroke-width="0.15" transform="rotate(-35 415.3 225.4)">10<tspan font-size="2.6" dy="-1.4">3</tspan></text>
<line x1="415.3" y1="221.4" x2="415.3" y2="222.4" stroke="#333" stroke-width="0.4"/>
<text x="380" y="181.8" font-size="7.78" stroke="#000" stroke-width="0.2" transform="matrix(0.9 0 0 1 38 0)">1000 nM</text>
<text x="420.4" y="190" font-size="6.56" stroke="#222" stroke-width="0.08" text-anchor="end" fill="#222" transform="matrix(0.9 0 0 1 42.04 0)">15%</text>
<text x="380.7" y="210" font-size="6.56" stroke="#222" stroke-width="0.08" fill="#222" transform="matrix(0.9 0 0 1 38.07 0)">50%</text>
<text x="420.4" y="210" font-size="6.56" stroke="#222" stroke-width="0.08" text-anchor="end" fill="#222" transform="matrix(0.9 0 0 1 42.04 0)">31%</text>
<rect x="276" y="264.6" width="42.8" height="38.6" fill="#fff"/>
<clipPath id="c10"><rect x="276" y="264.6" width="42.8" height="38.6"/></clipPath>
<g clip-path="url(#c10)">
<rect x="274" y="295" width="18" height="10" fill="#000" opacity="0.58" filter="url(#b1)"/>
<ellipse cx="280" cy="302" rx="6" ry="4" fill="#000" opacity="0.3" filter="url(#b1)"/>
<ellipse cx="299" cy="290" rx="6" ry="9" fill="#000" opacity="0.1" filter="url(#b2)"/>
<path fill="#000" fill-opacity="0.3" d="M286.6 298.7h0.7v0.7h-0.7zM289.8 301.4h0.7v0.7h-0.7zM285.7 302.2h0.7v0.7h-0.7zM283.0 296.7h0.7v0.7h-0.7zM281.3 295.2h0.7v0.7h-0.7zM282.9 292.4h0.7v0.7h-0.7zM282.6 299.3h0.7v0.7h-0.7zM288.0 297.0h0.7v0.7h-0.7zM289.9 296.0h0.7v0.7h-0.7zM282.3 292.4h0.7v0.7h-0.7zM279.2 295.6h0.7v0.7h-0.7zM290.3 299.6h0.7v0.7h-0.7zM277.6 299.6h0.7v0.7h-0.7zM285.4 297.3h0.7v0.7h-0.7zM283.1 297.1h0.7v0.7h-0.7zM280.4 292.8h0.7v0.7h-0.7zM282.6 301.8h0.7v0.7h-0.7zM290.0 297.2h0.7v0.7h-0.7zM279.4 297.4h0.7v0.7h-0.7zM287.4 299.0h0.7v0.7h-0.7zM280.2 299.1h0.7v0.7h-0.7zM282.0 299.5h0.7v0.7h-0.7zM281.0 293.7h0.7v0.7h-0.7zM283.3 300.2h0.7v0.7h-0.7zM277.6 297.7h0.7v0.7h-0.7zM287.3 296.9h0.7v0.7h-0.7zM279.8 302.2h0.7v0.7h-0.7zM287.0 301.0h0.7v0.7h-0.7zM278.4 302.2h0.7v0.7h-0.7zM276.3 296.5h0.7v0.7h-0.7zM286.6 301.9h0.7v0.7h-0.7zM278.5 296.1h0.7v0.7h-0.7zM284.0 292.4h0.7v0.7h-0.7zM286.1 299.6h0.7v0.7h-0.7zM280.8 299.6h0.7v0.7h-0.7zM286.8 298.9h0.7v0.7h-0.7zM285.5 302.2h0.7v0.7h-0.7zM280.7 298.5h0.7v0.7h-0.7zM280.5 301.0h0.7v0.7h-0.7zM281.0 299.4h0.7v0.7h-0.7zM283.7 298.2h0.7v0.7h-0.7zM291.3 297.8h0.7v0.7h-0.7zM289.9 300.4h0.7v0.7h-0.7zM289.4 297.5h0.7v0.7h-0.7zM287.5 300.2h0.7v0.7h-0.7zM280.0 298.8h0.7v0.7h-0.7zM282.4 297.9h0.7v0.7h-0.7zM289.3 295.9h0.7v0.7h-0.7zM276.3 293.0h0.7v0.7h-0.7zM280.8 296.1h0.7v0.7h-0.7zM283.1 299.6h0.7v0.7h-0.7zM291.5 298.9h0.7v0.7h-0.7zM285.2 295.9h0.7v0.7h-0.7zM285.8 301.9h0.7v0.7h-0.7zM289.5 292.3h0.7v0.7h-0.7zM287.3 302.2h0.7v0.7h-0.7zM287.0 293.7h0.7v0.7h-0.7zM281.5 299.7h0.7v0.7h-0.7zM285.0 295.7h0.7v0.7h-0.7zM278.7 300.8h0.7v0.7h-0.7zM276.6 302.1h0.7v0.7h-0.7zM283.1 298.9h0.7v0.7h-0.7zM276.6 296.3h0.7v0.7h-0.7zM286.3 293.8h0.7v0.7h-0.7zM293.0 293.9h0.7v0.7h-0.7zM277.1 298.1h0.7v0.7h-0.7zM285.3 300.1h0.7v0.7h-0.7zM281.2 297.4h0.7v0.7h-0.7zM281.9 296.3h0.7v0.7h-0.7zM276.3 300.8h0.7v0.7h-0.7zM284.2 298.5h0.7v0.7h-0.7zM280.0 298.7h0.7v0.7h-0.7zM282.9 297.8h0.7v0.7h-0.7zM288.3 293.0h0.7v0.7h-0.7zM284.2 294.9h0.7v0.7h-0.7zM281.5 302.2h0.7v0.7h-0.7zM277.8 297.7h0.7v0.7h-0.7zM280.2 300.7h0.7v0.7h-0.7zM278.3 293.2h0.7v0.7h-0.7zM285.5 297.0h0.7v0.7h-0.7zM281.5 301.1h0.7v0.7h-0.7zM278.7 296.9h0.7v0.7h-0.7zM283.7 299.2h0.7v0.7h-0.7zM280.5 301.0h0.7v0.7h-0.7zM293.8 296.8h0.7v0.7h-0.7zM292.0 291.9h0.7v0.7h-0.7zM289.8 297.0h0.7v0.7h-0.7zM283.7 297.0h0.7v0.7h-0.7zM279.9 294.3h0.7v0.7h-0.7zM281.1 301.7h0.7v0.7h-0.7zM288.5 297.0h0.7v0.7h-0.7zM280.5 296.0h0.7v0.7h-0.7zM277.2 302.2h0.7v0.7h-0.7zM286.2 298.3h0.7v0.7h-0.7zM280.6 295.1h0.7v0.7h-0.7zM289.3 300.2h0.7v0.7h-0.7zM278.4 300.8h0.7v0.7h-0.7zM277.7 299.8h0.7v0.7h-0.7zM278.4 296.8h0.7v0.7h-0.7zM285.4 299.2h0.7v0.7h-0.7zM287.9 295.6h0.7v0.7h-0.7zM290.6 301.9h0.7v0.7h-0.7zM283.0 299.3h0.7v0.7h-0.7zM279.3 297.6h0.7v0.7h-0.7zM276.7 298.3h0.7v0.7h-0.7zM284.0 301.9h0.7v0.7h-0.7zM287.5 300.3h0.7v0.7h-0.7zM281.3 297.4h0.7v0.7h-0.7zM281.4 298.6h0.7v0.7h-0.7zM276.3 300.2h0.7v0.7h-0.7z"/>
<path fill="#000" fill-opacity="0.2" d="M292.0 287.5h0.7v0.7h-0.7zM298.1 287.5h0.7v0.7h-0.7zM304.4 289.5h0.7v0.7h-0.7zM304.0 295.6h0.7v0.7h-0.7zM296.1 291.9h0.7v0.7h-0.7zM303.0 288.4h0.7v0.7h-0.7zM298.3 287.3h0.7v0.7h-0.7zM298.2 288.3h0.7v0.7h-0.7zM298.3 294.8h0.7v0.7h-0.7zM303.3 290.6h0.7v0.7h-0.7zM298.8 294.1h0.7v0.7h-0.7zM296.9 284.9h0.7v0.7h-0.7zM302.3 285.5h0.7v0.7h-0.7zM301.6 285.4h0.7v0.7h-0.7zM305.0 285.0h0.7v0.7h-0.7zM301.3 297.2h0.7v0.7h-0.7zM294.3 297.1h0.7v0.7h-0.7zM294.8 281.5h0.7v0.7h-0.7zM300.8 293.4h0.7v0.7h-0.7zM297.2 277.9h0.7v0.7h-0.7zM297.8 288.5h0.7v0.7h-0.7zM296.5 288.6h0.7v0.7h-0.7zM291.1 287.3h0.7v0.7h-0.7zM304.9 297.4h0.7v0.7h-0.7zM296.6 286.6h0.7v0.7h-0.7zM299.5 295.1h0.7v0.7h-0.7zM300.8 284.4h0.7v0.7h-0.7zM298.6 290.7h0.7v0.7h-0.7zM303.5 295.7h0.7v0.7h-0.7zM300.0 295.8h0.7v0.7h-0.7z"/>
</g>
<line x1="291.6" y1="264.6" x2="291.6" y2="303.2" stroke="#8a8a8a" stroke-width="0.6"/>
<line x1="276" y1="285.2" x2="318.8" y2="285.2" stroke="#8a8a8a" stroke-width="0.6"/>
<rect x="276" y="264.6" width="42.8" height="38.6" fill="none" stroke="#666" stroke-width="0.6"/>
<text x="271" y="269.8" font-size="3.6" fill="#222" stroke="#222" stroke-width="0.15" transform="rotate(35 272.8 268.8)">10<tspan font-size="2.6" dy="-1.4">0</tspan></text>
<line x1="275" y1="268.8" x2="276" y2="268.8" stroke="#333" stroke-width="0.4"/>
<text x="279.9" y="308.8" font-size="3.6" fill="#222" stroke="#222" stroke-width="0.15" transform="rotate(-35 282.3 307.2)">10<tspan font-size="2.6" dy="-1.4">0</tspan></text>
<line x1="282.3" y1="303.2" x2="282.3" y2="304.2" stroke="#333" stroke-width="0.4"/>
<text x="271" y="279.5" font-size="3.6" fill="#222" stroke="#222" stroke-width="0.15" transform="rotate(35 272.8 278.5)">10<tspan font-size="2.6" dy="-1.4">1</tspan></text>
<line x1="275" y1="278.5" x2="276" y2="278.5" stroke="#333" stroke-width="0.4"/>
<text x="290.2" y="308.8" font-size="3.6" fill="#222" stroke="#222" stroke-width="0.15" transform="rotate(-35 292.6 307.2)">10<tspan font-size="2.6" dy="-1.4">1</tspan></text>
<line x1="292.6" y1="303.2" x2="292.6" y2="304.2" stroke="#333" stroke-width="0.4"/>
<text x="271" y="289.2" font-size="3.6" fill="#222" stroke="#222" stroke-width="0.15" transform="rotate(35 272.8 288.2)">10<tspan font-size="2.6" dy="-1.4">2</tspan></text>
<line x1="275" y1="288.2" x2="276" y2="288.2" stroke="#333" stroke-width="0.4"/>
<text x="300.5" y="308.8" font-size="3.6" fill="#222" stroke="#222" stroke-width="0.15" transform="rotate(-35 302.9 307.2)">10<tspan font-size="2.6" dy="-1.4">2</tspan></text>
<line x1="302.9" y1="303.2" x2="302.9" y2="304.2" stroke="#333" stroke-width="0.4"/>
<text x="271" y="298.9" font-size="3.6" fill="#222" stroke="#222" stroke-width="0.15" transform="rotate(35 272.8 297.9)">10<tspan font-size="2.6" dy="-1.4">3</tspan></text>
<line x1="275" y1="297.9" x2="276" y2="297.9" stroke="#333" stroke-width="0.4"/>
<text x="310.8" y="308.8" font-size="3.6" fill="#222" stroke="#222" stroke-width="0.15" transform="rotate(-35 313.2 307.2)">10<tspan font-size="2.6" dy="-1.4">3</tspan></text>
<line x1="313.2" y1="303.2" x2="313.2" y2="304.2" stroke="#333" stroke-width="0.4"/>
<text x="277.5" y="263.2" font-size="7.78" stroke="#000" stroke-width="0.2" transform="matrix(0.9 0 0 1 27.75 0)">0 nM</text>
<text x="317.8" y="270.9" font-size="6.56" stroke="#222" stroke-width="0.08" text-anchor="end" fill="#222" transform="matrix(0.9 0 0 1 31.78 0)">1%</text>
<text x="278.6" y="290.6" font-size="6.56" stroke="#222" stroke-width="0.08" fill="#222" transform="matrix(0.9 0 0 1 27.86 0)">93%</text>
<text x="317.8" y="290.6" font-size="6.56" stroke="#222" stroke-width="0.08" text-anchor="end" fill="#222" transform="matrix(0.9 0 0 1 31.78 0)">6%</text>
<text x="267.7" y="283" font-size="6.2" stroke="#000" stroke-width="0.2" text-anchor="middle" transform="rotate(-90 267.7 283)">PI</text>
<text x="296.8" y="316.6" font-size="7.3" stroke="#000" stroke-width="0.2" text-anchor="middle" textLength="42.8" lengthAdjust="spacingAndGlyphs">annexin-V-FITC</text>
<rect x="327.6" y="264.6" width="42.8" height="38.6" fill="#fff"/>
<clipPath id="c11"><rect x="327.6" y="264.6" width="42.8" height="38.6"/></clipPath>
<g clip-path="url(#c11)">
<rect x="325" y="295" width="17" height="10" fill="#000" opacity="0.55" filter="url(#b1)"/>
<ellipse cx="330" cy="302" rx="6" ry="4" fill="#000" opacity="0.35" filter="url(#b1)"/>
<ellipse cx="349" cy="289" rx="4.5" ry="9" fill="#000" opacity="0.1" filter="url(#b2)"/>
<path fill="#000" fill-opacity="0.3" d="M332.3 302.2h0.7v0.7h-0.7zM332.2 299.1h0.7v0.7h-0.7zM338.0 295.4h0.7v0.7h-0.7zM331.0 292.9h0.7v0.7h-0.7zM334.7 297.8h0.7v0.7h-0.7zM332.6 299.4h0.7v0.7h-0.7zM327.9 297.9h0.7v0.7h-0.7zM334.4 297.2h0.7v0.7h-0.7zM337.4 302.2h0.7v0.7h-0.7zM332.1 295.3h0.7v0.7h-0.7zM331.4 298.3h0.7v0.7h-0.7zM336.5 295.5h0.7v0.7h-0.7zM338.3 295.0h0.7v0.7h-0.7zM337.6 299.2h0.7v0.7h-0.7zM336.0 302.2h0.7v0.7h-0.7zM332.9 297.5h0.7v0.7h-0.7zM336.1 300.5h0.7v0.7h-0.7zM328.2 298.8h0.7v0.7h-0.7zM330.8 299.8h0.7v0.7h-0.7zM339.9 298.1h0.7v0.7h-0.7zM333.5 298.5h0.7v0.7h-0.7zM327.9 300.2h0.7v0.7h-0.7zM336.4 298.5h0.7v0.7h-0.7zM332.3 295.9h0.7v0.7h-0.7zM333.2 301.5h0.7v0.7h-0.7zM333.6 301.9h0.7v0.7h-0.7zM327.9 296.7h0.7v0.7h-0.7zM335.2 298.0h0.7v0.7h-0.7zM327.9 296.1h0.7v0.7h-0.7zM339.4 294.3h0.7v0.7h-0.7zM329.7 294.8h0.7v0.7h-0.7zM331.6 299.9h0.7v0.7h-0.7zM336.6 292.2h0.7v0.7h-0.7zM340.3 296.3h0.7v0.7h-0.7zM331.5 302.2h0.7v0.7h-0.7zM333.6 294.4h0.7v0.7h-0.7zM331.2 295.9h0.7v0.7h-0.7zM329.6 297.0h0.7v0.7h-0.7zM337.8 299.0h0.7v0.7h-0.7zM328.0 302.2h0.7v0.7h-0.7zM329.7 298.3h0.7v0.7h-0.7zM334.1 300.2h0.7v0.7h-0.7zM332.6 299.3h0.7v0.7h-0.7zM343.1 298.3h0.7v0.7h-0.7zM329.3 298.9h0.7v0.7h-0.7zM330.5 296.9h0.7v0.7h-0.7zM334.8 299.0h0.7v0.7h-0.7zM332.8 300.4h0.7v0.7h-0.7zM333.2 294.2h0.7v0.7h-0.7zM337.8 297.0h0.7v0.7h-0.7zM339.2 296.1h0.7v0.7h-0.7zM336.5 298.9h0.7v0.7h-0.7zM327.9 293.7h0.7v0.7h-0.7zM329.2 302.1h0.7v0.7h-0.7zM327.9 300.6h0.7v0.7h-0.7zM338.7 299.4h0.7v0.7h-0.7zM336.9 296.6h0.7v0.7h-0.7zM334.0 298.6h0.7v0.7h-0.7zM335.8 300.0h0.7v0.7h-0.7zM333.1 296.0h0.7v0.7h-0.7zM331.6 299.2h0.7v0.7h-0.7zM327.9 294.4h0.7v0.7h-0.7zM332.2 296.4h0.7v0.7h-0.7zM332.8 290.3h0.7v0.7h-0.7zM332.5 297.3h0.7v0.7h-0.7zM337.4 292.3h0.7v0.7h-0.7zM332.7 299.4h0.7v0.7h-0.7zM336.1 301.4h0.7v0.7h-0.7zM338.6 295.0h0.7v0.7h-0.7zM336.8 297.0h0.7v0.7h-0.7zM330.5 302.2h0.7v0.7h-0.7zM331.3 295.5h0.7v0.7h-0.7zM332.2 295.5h0.7v0.7h-0.7zM338.4 299.1h0.7v0.7h-0.7zM340.1 299.2h0.7v0.7h-0.7zM331.3 301.0h0.7v0.7h-0.7zM331.2 296.7h0.7v0.7h-0.7zM333.3 298.1h0.7v0.7h-0.7zM339.2 296.3h0.7v0.7h-0.7zM335.5 297.9h0.7v0.7h-0.7zM328.6 294.8h0.7v0.7h-0.7zM333.0 299.2h0.7v0.7h-0.7zM335.4 299.4h0.7v0.7h-0.7zM334.2 296.7h0.7v0.7h-0.7zM335.8 295.1h0.7v0.7h-0.7zM328.2 297.0h0.7v0.7h-0.7zM327.9 296.5h0.7v0.7h-0.7zM330.8 296.4h0.7v0.7h-0.7zM333.8 295.7h0.7v0.7h-0.7zM332.2 293.1h0.7v0.7h-0.7zM334.6 295.5h0.7v0.7h-0.7zM335.8 289.8h0.7v0.7h-0.7zM330.5 298.7h0.7v0.7h-0.7zM327.9 297.0h0.7v0.7h-0.7zM334.4 298.3h0.7v0.7h-0.7zM327.9 298.7h0.7v0.7h-0.7zM334.6 295.2h0.7v0.7h-0.7zM337.2 297.9h0.7v0.7h-0.7zM334.1 296.7h0.7v0.7h-0.7zM336.4 298.3h0.7v0.7h-0.7z"/>
<path fill="#000" fill-opacity="0.2" d="M351.7 291.6h0.7v0.7h-0.7zM347.5 287.7h0.7v0.7h-0.7zM351.2 286.9h0.7v0.7h-0.7zM349.9 292.0h0.7v0.7h-0.7zM348.6 275.5h0.7v0.7h-0.7zM349.3 290.2h0.7v0.7h-0.7zM349.3 284.6h0.7v0.7h-0.7zM351.9 288.2h0.7v0.7h-0.7zM347.5 284.8h0.7v0.7h-0.7zM349.9 282.7h0.7v0.7h-0.7zM346.6 300.6h0.7v0.7h-0.7zM352.2 295.1h0.7v0.7h-0.7zM352.3 292.5h0.7v0.7h-0.7zM344.9 295.9h0.7v0.7h-0.7zM352.0 291.8h0.7v0.7h-0.7zM344.3 296.2h0.7v0.7h-0.7zM352.3 286.1h0.7v0.7h-0.7zM349.3 293.5h0.7v0.7h-0.7zM348.8 295.4h0.7v0.7h-0.7zM349.2 293.0h0.7v0.7h-0.7zM349.2 280.4h0.7v0.7h-0.7zM346.6 302.2h0.7v0.7h-0.7zM349.7 296.6h0.7v0.7h-0.7zM351.8 299.0h0.7v0.7h-0.7zM350.3 285.5h0.7v0.7h-0.7zM349.0 277.8h0.7v0.7h-0.7zM348.5 294.3h0.7v0.7h-0.7zM343.8 290.1h0.7v0.7h-0.7zM351.0 296.7h0.7v0.7h-0.7zM346.8 285.2h0.7v0.7h-0.7zM344.5 283.1h0.7v0.7h-0.7zM350.3 301.0h0.7v0.7h-0.7zM346.2 297.0h0.7v0.7h-0.7zM350.0 286.1h0.7v0.7h-0.7zM354.3 274.3h0.7v0.7h-0.7z"/>
</g>
<line x1="342.5" y1="264.6" x2="342.5" y2="303.2" stroke="#8a8a8a" stroke-width="0.6"/>
<line x1="327.6" y1="285.2" x2="370.4" y2="285.2" stroke="#8a8a8a" stroke-width="0.6"/>
<rect x="327.6" y="264.6" width="42.8" height="38.6" fill="none" stroke="#666" stroke-width="0.6"/>
<text x="322.6" y="269.8" font-size="3.6" fill="#222" stroke="#222" stroke-width="0.15" transform="rotate(35 324.4 268.8)">10<tspan font-size="2.6" dy="-1.4">0</tspan></text>
<line x1="326.6" y1="268.8" x2="327.6" y2="268.8" stroke="#333" stroke-width="0.4"/>
<text x="331.5" y="308.8" font-size="3.6" fill="#222" stroke="#222" stroke-width="0.15" transform="rotate(-35 333.9 307.2)">10<tspan font-size="2.6" dy="-1.4">0</tspan></text>
<line x1="333.9" y1="303.2" x2="333.9" y2="304.2" stroke="#333" stroke-width="0.4"/>
<text x="322.6" y="279.5" font-size="3.6" fill="#222" stroke="#222" stroke-width="0.15" transform="rotate(35 324.4 278.5)">10<tspan font-size="2.6" dy="-1.4">1</tspan></text>
<line x1="326.6" y1="278.5" x2="327.6" y2="278.5" stroke="#333" stroke-width="0.4"/>
<text x="341.8" y="308.8" font-size="3.6" fill="#222" stroke="#222" stroke-width="0.15" transform="rotate(-35 344.2 307.2)">10<tspan font-size="2.6" dy="-1.4">1</tspan></text>
<line x1="344.2" y1="303.2" x2="344.2" y2="304.2" stroke="#333" stroke-width="0.4"/>
<text x="322.6" y="289.2" font-size="3.6" fill="#222" stroke="#222" stroke-width="0.15" transform="rotate(35 324.4 288.2)">10<tspan font-size="2.6" dy="-1.4">2</tspan></text>
<line x1="326.6" y1="288.2" x2="327.6" y2="288.2" stroke="#333" stroke-width="0.4"/>
<text x="352.1" y="308.8" font-size="3.6" fill="#222" stroke="#222" stroke-width="0.15" transform="rotate(-35 354.5 307.2)">10<tspan font-size="2.6" dy="-1.4">2</tspan></text>
<line x1="354.5" y1="303.2" x2="354.5" y2="304.2" stroke="#333" stroke-width="0.4"/>
<text x="322.6" y="298.9" font-size="3.6" fill="#222" stroke="#222" stroke-width="0.15" transform="rotate(35 324.4 297.9)">10<tspan font-size="2.6" dy="-1.4">3</tspan></text>
<line x1="326.6" y1="297.9" x2="327.6" y2="297.9" stroke="#333" stroke-width="0.4"/>
<text x="362.4" y="308.8" font-size="3.6" fill="#222" stroke="#222" stroke-width="0.15" transform="rotate(-35 364.8 307.2)">10<tspan font-size="2.6" dy="-1.4">3</tspan></text>
<line x1="364.8" y1="303.2" x2="364.8" y2="304.2" stroke="#333" stroke-width="0.4"/>
<text x="329.2" y="263.2" font-size="7.78" stroke="#000" stroke-width="0.2" transform="matrix(0.9 0 0 1 32.92 0)">1000 nM</text>
<text x="369.4" y="270.9" font-size="6.56" stroke="#222" stroke-width="0.08" text-anchor="end" fill="#222" transform="matrix(0.9 0 0 1 36.94 0)">1%</text>
<text x="330.2" y="290.6" font-size="6.56" stroke="#222" stroke-width="0.08" fill="#222" transform="matrix(0.9 0 0 1 33.02 0)">94%</text>
<text x="369.4" y="290.6" font-size="6.56" stroke="#222" stroke-width="0.08" text-anchor="end" fill="#222" transform="matrix(0.9 0 0 1 36.94 0)">5%</text>
<rect x="378" y="264.6" width="42.8" height="38.6" fill="#fff"/>
<clipPath id="c12"><rect x="378" y="264.6" width="42.8" height="38.6"/></clipPath>
<g clip-path="url(#c12)">
<rect x="376" y="295" width="17" height="10" fill="#000" opacity="0.52" filter="url(#b1)"/>
<ellipse cx="380" cy="302" rx="6" ry="4" fill="#000" opacity="0.35" filter="url(#b1)"/>
<ellipse cx="402" cy="287" rx="6" ry="10" fill="#000" opacity="0.1" filter="url(#b2)"/>
<path fill="#000" fill-opacity="0.3" d="M383.7 298.6h0.7v0.7h-0.7zM393.3 302.2h0.7v0.7h-0.7zM393.9 298.4h0.7v0.7h-0.7zM388.3 302.0h0.7v0.7h-0.7zM386.2 299.0h0.7v0.7h-0.7zM383.2 296.8h0.7v0.7h-0.7zM378.6 302.2h0.7v0.7h-0.7zM382.0 291.9h0.7v0.7h-0.7zM385.2 297.9h0.7v0.7h-0.7zM384.8 302.2h0.7v0.7h-0.7zM383.5 297.2h0.7v0.7h-0.7zM380.7 297.9h0.7v0.7h-0.7zM382.1 298.6h0.7v0.7h-0.7zM397.7 299.1h0.7v0.7h-0.7zM380.3 302.2h0.7v0.7h-0.7zM387.8 300.4h0.7v0.7h-0.7zM387.1 300.4h0.7v0.7h-0.7zM387.0 302.1h0.7v0.7h-0.7zM388.4 301.9h0.7v0.7h-0.7zM381.8 298.0h0.7v0.7h-0.7zM380.8 300.8h0.7v0.7h-0.7zM387.6 296.6h0.7v0.7h-0.7zM386.6 302.2h0.7v0.7h-0.7zM389.4 294.7h0.7v0.7h-0.7zM383.6 299.9h0.7v0.7h-0.7zM383.8 299.1h0.7v0.7h-0.7zM389.2 299.0h0.7v0.7h-0.7zM379.2 300.1h0.7v0.7h-0.7zM383.6 298.3h0.7v0.7h-0.7zM381.5 294.0h0.7v0.7h-0.7zM378.5 297.0h0.7v0.7h-0.7zM379.3 290.1h0.7v0.7h-0.7zM389.0 294.6h0.7v0.7h-0.7zM380.8 299.6h0.7v0.7h-0.7zM378.3 301.9h0.7v0.7h-0.7zM380.6 299.9h0.7v0.7h-0.7zM381.9 298.9h0.7v0.7h-0.7zM384.5 298.0h0.7v0.7h-0.7zM378.3 293.7h0.7v0.7h-0.7zM383.8 302.1h0.7v0.7h-0.7zM381.6 299.6h0.7v0.7h-0.7zM384.7 299.4h0.7v0.7h-0.7zM388.3 293.6h0.7v0.7h-0.7zM385.2 297.5h0.7v0.7h-0.7zM382.6 295.5h0.7v0.7h-0.7zM380.6 295.0h0.7v0.7h-0.7zM379.2 302.2h0.7v0.7h-0.7zM391.5 298.0h0.7v0.7h-0.7zM387.3 295.1h0.7v0.7h-0.7zM378.3 292.7h0.7v0.7h-0.7zM384.6 302.2h0.7v0.7h-0.7zM383.8 295.1h0.7v0.7h-0.7zM382.9 295.1h0.7v0.7h-0.7zM378.3 297.3h0.7v0.7h-0.7zM382.2 295.6h0.7v0.7h-0.7zM380.1 295.3h0.7v0.7h-0.7zM385.0 302.1h0.7v0.7h-0.7zM383.1 302.2h0.7v0.7h-0.7zM378.3 298.8h0.7v0.7h-0.7zM378.9 297.5h0.7v0.7h-0.7zM384.4 299.6h0.7v0.7h-0.7zM389.0 296.4h0.7v0.7h-0.7zM378.6 297.4h0.7v0.7h-0.7zM385.3 296.0h0.7v0.7h-0.7zM387.9 302.2h0.7v0.7h-0.7zM378.3 299.1h0.7v0.7h-0.7zM388.5 292.4h0.7v0.7h-0.7zM384.9 297.3h0.7v0.7h-0.7zM378.3 301.8h0.7v0.7h-0.7zM385.0 296.6h0.7v0.7h-0.7zM385.9 299.9h0.7v0.7h-0.7zM387.4 299.7h0.7v0.7h-0.7zM385.8 294.6h0.7v0.7h-0.7zM382.2 298.4h0.7v0.7h-0.7zM378.3 302.2h0.7v0.7h-0.7zM382.3 294.9h0.7v0.7h-0.7zM378.3 298.7h0.7v0.7h-0.7zM384.1 296.3h0.7v0.7h-0.7zM382.2 295.4h0.7v0.7h-0.7zM380.7 297.7h0.7v0.7h-0.7zM381.2 300.0h0.7v0.7h-0.7zM383.4 298.4h0.7v0.7h-0.7zM385.8 301.7h0.7v0.7h-0.7zM386.6 298.7h0.7v0.7h-0.7zM383.3 295.6h0.7v0.7h-0.7zM382.5 300.0h0.7v0.7h-0.7zM385.0 296.9h0.7v0.7h-0.7zM378.3 293.5h0.7v0.7h-0.7zM385.4 301.0h0.7v0.7h-0.7zM385.6 294.0h0.7v0.7h-0.7zM383.1 298.6h0.7v0.7h-0.7zM380.0 299.0h0.7v0.7h-0.7zM383.1 295.6h0.7v0.7h-0.7zM378.6 300.4h0.7v0.7h-0.7zM385.6 295.4h0.7v0.7h-0.7zM379.6 300.6h0.7v0.7h-0.7zM386.6 297.1h0.7v0.7h-0.7zM391.0 297.2h0.7v0.7h-0.7zM379.4 301.2h0.7v0.7h-0.7zM383.2 299.0h0.7v0.7h-0.7z"/>
<path fill="#000" fill-opacity="0.2" d="M402.1 282.1h0.7v0.7h-0.7zM397.4 286.9h0.7v0.7h-0.7zM407.5 282.1h0.7v0.7h-0.7zM407.3 289.3h0.7v0.7h-0.7zM397.7 289.6h0.7v0.7h-0.7zM404.2 282.7h0.7v0.7h-0.7zM393.7 290.1h0.7v0.7h-0.7zM397.7 290.6h0.7v0.7h-0.7zM394.6 287.2h0.7v0.7h-0.7zM398.8 279.4h0.7v0.7h-0.7zM401.1 289.0h0.7v0.7h-0.7zM399.8 281.1h0.7v0.7h-0.7zM402.8 277.8h0.7v0.7h-0.7zM404.1 290.9h0.7v0.7h-0.7zM408.5 293.2h0.7v0.7h-0.7zM403.4 289.5h0.7v0.7h-0.7zM402.1 280.3h0.7v0.7h-0.7zM407.7 291.1h0.7v0.7h-0.7zM400.9 281.3h0.7v0.7h-0.7zM407.8 291.1h0.7v0.7h-0.7zM397.4 291.9h0.7v0.7h-0.7zM409.4 287.9h0.7v0.7h-0.7zM403.6 285.6h0.7v0.7h-0.7zM399.6 294.3h0.7v0.7h-0.7zM414.0 288.7h0.7v0.7h-0.7zM401.5 292.6h0.7v0.7h-0.7zM400.8 292.2h0.7v0.7h-0.7zM405.2 282.1h0.7v0.7h-0.7zM397.8 287.6h0.7v0.7h-0.7zM405.2 289.6h0.7v0.7h-0.7zM406.8 280.0h0.7v0.7h-0.7zM403.9 284.4h0.7v0.7h-0.7zM402.4 289.9h0.7v0.7h-0.7zM398.2 286.7h0.7v0.7h-0.7zM397.5 289.5h0.7v0.7h-0.7zM398.7 285.1h0.7v0.7h-0.7zM402.8 284.2h0.7v0.7h-0.7zM406.5 284.3h0.7v0.7h-0.7zM405.3 289.6h0.7v0.7h-0.7zM398.0 286.7h0.7v0.7h-0.7z"/>
</g>
<line x1="393.2" y1="264.6" x2="393.2" y2="303.2" stroke="#8a8a8a" stroke-width="0.6"/>
<line x1="378" y1="285.2" x2="420.8" y2="285.2" stroke="#8a8a8a" stroke-width="0.6"/>
<rect x="378" y="264.6" width="42.8" height="38.6" fill="none" stroke="#666" stroke-width="0.6"/>
<text x="373" y="269.8" font-size="3.6" fill="#222" stroke="#222" stroke-width="0.15" transform="rotate(35 374.8 268.8)">10<tspan font-size="2.6" dy="-1.4">0</tspan></text>
<line x1="377" y1="268.8" x2="378" y2="268.8" stroke="#333" stroke-width="0.4"/>
<text x="381.9" y="308.8" font-size="3.6" fill="#222" stroke="#222" stroke-width="0.15" transform="rotate(-35 384.3 307.2)">10<tspan font-size="2.6" dy="-1.4">0</tspan></text>
<line x1="384.3" y1="303.2" x2="384.3" y2="304.2" stroke="#333" stroke-width="0.4"/>
<text x="373" y="279.5" font-size="3.6" fill="#222" stroke="#222" stroke-width="0.15" transform="rotate(35 374.8 278.5)">10<tspan font-size="2.6" dy="-1.4">1</tspan></text>
<line x1="377" y1="278.5" x2="378" y2="278.5" stroke="#333" stroke-width="0.4"/>
<text x="392.2" y="308.8" font-size="3.6" fill="#222" stroke="#222" stroke-width="0.15" transform="rotate(-35 394.6 307.2)">10<tspan font-size="2.6" dy="-1.4">1</tspan></text>
<line x1="394.6" y1="303.2" x2="394.6" y2="304.2" stroke="#333" stroke-width="0.4"/>
<text x="373" y="289.2" font-size="3.6" fill="#222" stroke="#222" stroke-width="0.15" transform="rotate(35 374.8 288.2)">10<tspan font-size="2.6" dy="-1.4">2</tspan></text>
<line x1="377" y1="288.2" x2="378" y2="288.2" stroke="#333" stroke-width="0.4"/>
<text x="402.5" y="308.8" font-size="3.6" fill="#222" stroke="#222" stroke-width="0.15" transform="rotate(-35 404.9 307.2)">10<tspan font-size="2.6" dy="-1.4">2</tspan></text>
<line x1="404.9" y1="303.2" x2="404.9" y2="304.2" stroke="#333" stroke-width="0.4"/>
<text x="373" y="298.9" font-size="3.6" fill="#222" stroke="#222" stroke-width="0.15" transform="rotate(35 374.8 297.9)">10<tspan font-size="2.6" dy="-1.4">3</tspan></text>
<line x1="377" y1="297.9" x2="378" y2="297.9" stroke="#333" stroke-width="0.4"/>
<text x="412.8" y="308.8" font-size="3.6" fill="#222" stroke="#222" stroke-width="0.15" transform="rotate(-35 415.2 307.2)">10<tspan font-size="2.6" dy="-1.4">3</tspan></text>
<line x1="415.2" y1="303.2" x2="415.2" y2="304.2" stroke="#333" stroke-width="0.4"/>
<text x="379.2" y="263.2" font-size="7.78" stroke="#000" stroke-width="0.2" transform="matrix(0.9 0 0 1 37.92 0)">2000 nM</text>
<text x="419.8" y="270.9" font-size="6.56" stroke="#222" stroke-width="0.08" text-anchor="end" fill="#222" transform="matrix(0.9 0 0 1 41.98 0)">1%</text>
<text x="380.6" y="290.6" font-size="6.56" stroke="#222" stroke-width="0.08" fill="#222" transform="matrix(0.9 0 0 1 38.06 0)">93%</text>
<text x="419.8" y="290.6" font-size="6.56" stroke="#222" stroke-width="0.08" text-anchor="end" fill="#222" transform="matrix(0.9 0 0 1 41.98 0)">6%</text>
<line x1="456.2" y1="54.46" x2="505.3" y2="54.46" stroke="#7a7a7a" stroke-width="0.6"/>
<line x1="456.2" y1="45.62" x2="505.3" y2="45.62" stroke="#7a7a7a" stroke-width="0.6"/>
<line x1="456.2" y1="36.78" x2="505.3" y2="36.78" stroke="#7a7a7a" stroke-width="0.6"/>
<line x1="456.2" y1="27.94" x2="505.3" y2="27.94" stroke="#7a7a7a" stroke-width="0.6"/>
<line x1="456.2" y1="19.1" x2="505.3" y2="19.1" stroke="#aaa" stroke-width="0.6"/>
<line x1="505.3" y1="19.1" x2="505.3" y2="63.3" stroke="#9a9a9a" stroke-width="0.5"/>
<text x="454.7" y="65.5" font-size="6.89" stroke="#000" stroke-width="0.2" text-anchor="end" transform="matrix(0.9 0 0 1 45.47 0)">0</text>
<line x1="455" y1="63.3" x2="456.2" y2="63.3" stroke="#333" stroke-width="0.45"/>
<text x="454.7" y="56.66" font-size="6.89" stroke="#000" stroke-width="0.2" text-anchor="end" transform="matrix(0.9 0 0 1 45.47 0)">20</text>
<line x1="455" y1="54.46" x2="456.2" y2="54.46" stroke="#333" stroke-width="0.45"/>
<text x="454.7" y="47.82" font-size="6.89" stroke="#000" stroke-width="0.2" text-anchor="end" transform="matrix(0.9 0 0 1 45.47 0)">40</text>
<line x1="455" y1="45.62" x2="456.2" y2="45.62" stroke="#333" stroke-width="0.45"/>
<text x="454.7" y="38.98" font-size="6.89" stroke="#000" stroke-width="0.2" text-anchor="end" transform="matrix(0.9 0 0 1 45.47 0)">60</text>
<line x1="455" y1="36.78" x2="456.2" y2="36.78" stroke="#333" stroke-width="0.45"/>
<text x="454.7" y="30.14" font-size="6.89" stroke="#000" stroke-width="0.2" text-anchor="end" transform="matrix(0.9 0 0 1 45.47 0)">80</text>
<line x1="455" y1="27.94" x2="456.2" y2="27.94" stroke="#333" stroke-width="0.45"/>
<text x="454.7" y="21.3" font-size="6.89" stroke="#000" stroke-width="0.2" text-anchor="end" transform="matrix(0.9 0 0 1 45.47 0)">100</text>
<line x1="455" y1="19.1" x2="456.2" y2="19.1" stroke="#333" stroke-width="0.45"/>
<rect x="459.65" y="57.42" width="7.1" height="5.88" fill="#bcbcbc" stroke="#666" stroke-width="0.5"/>
<line x1="461.43" y1="57.42" x2="461.43" y2="63.3" stroke="#999" stroke-width="0.35"/>
<line x1="464.97" y1="57.42" x2="464.97" y2="63.3" stroke="#999" stroke-width="0.35"/>
<line x1="463.2" y1="56.23" x2="463.2" y2="57.42" stroke="#555" stroke-width="0.4"/>
<line x1="462.4" y1="56.23" x2="464" y2="56.23" stroke="#555" stroke-width="0.4"/>
<rect x="476.25" y="42.08" width="7.1" height="21.22" fill="#bcbcbc" stroke="#666" stroke-width="0.5"/>
<line x1="478.03" y1="42.08" x2="478.03" y2="63.3" stroke="#999" stroke-width="0.35"/>
<line x1="481.57" y1="42.08" x2="481.57" y2="63.3" stroke="#999" stroke-width="0.35"/>
<line x1="479.8" y1="25.46" x2="479.8" y2="42.08" stroke="#555" stroke-width="0.4"/>
<line x1="479" y1="25.46" x2="480.6" y2="25.46" stroke="#555" stroke-width="0.4"/>
<rect x="492.85" y="32.58" width="7.1" height="30.72" fill="#bcbcbc" stroke="#666" stroke-width="0.5"/>
<line x1="494.62" y1="32.58" x2="494.62" y2="63.3" stroke="#999" stroke-width="0.35"/>
<line x1="498.17" y1="32.58" x2="498.17" y2="63.3" stroke="#999" stroke-width="0.35"/>
<line x1="496.4" y1="19.1" x2="496.4" y2="32.58" stroke="#555" stroke-width="0.4"/>
<line x1="495.6" y1="19.1" x2="497.2" y2="19.1" stroke="#555" stroke-width="0.4"/>
<line x1="456.2" y1="19.1" x2="456.2" y2="63.3" stroke="#111" stroke-width="0.6"/>
<line x1="456.2" y1="63.3" x2="505.3" y2="63.3" stroke="#111" stroke-width="0.6"/>
<text x="463.6" y="71.7" font-size="7.11" stroke="#000" stroke-width="0.2" text-anchor="middle" transform="matrix(0.9 0 0 1 46.36 0)">0</text>
<text x="480.8" y="71.7" font-size="7.11" stroke="#000" stroke-width="0.2" text-anchor="middle" transform="matrix(0.9 0 0 1 48.08 0)">20</text>
<text x="496.5" y="71.7" font-size="7.11" stroke="#000" stroke-width="0.2" text-anchor="middle" transform="matrix(0.9 0 0 1 49.65 0)">50</text>
<text x="507.5" y="71.7" font-size="6.89" stroke="#000" stroke-width="0.2" text-anchor="middle" transform="matrix(0.9 0 0 1 50.75 0)">nM</text>
<text x="480" y="81.2" font-size="7.11" stroke="#000" stroke-width="0.2" text-anchor="middle" transform="matrix(0.9 0 0 1 48 0)">AP23464</text>
<text x="442.8" y="41.3" font-size="6.6" stroke="#000" stroke-width="0.08" text-anchor="middle" transform="rotate(-90 442.8 41.3)">% annexin-V positive</text>
<line x1="456.2" y1="134.56" x2="505.3" y2="134.56" stroke="#7a7a7a" stroke-width="0.6"/>
<line x1="456.2" y1="125.72" x2="505.3" y2="125.72" stroke="#7a7a7a" stroke-width="0.6"/>
<line x1="456.2" y1="116.88" x2="505.3" y2="116.88" stroke="#7a7a7a" stroke-width="0.6"/>
<line x1="456.2" y1="108.04" x2="505.3" y2="108.04" stroke="#7a7a7a" stroke-width="0.6"/>
<line x1="456.2" y1="99.2" x2="505.3" y2="99.2" stroke="#aaa" stroke-width="0.6"/>
<line x1="505.3" y1="99.2" x2="505.3" y2="143.4" stroke="#9a9a9a" stroke-width="0.5"/>
<text x="454.7" y="145.6" font-size="6.89" stroke="#000" stroke-width="0.2" text-anchor="end" transform="matrix(0.9 0 0 1 45.47 0)">0</text>
<line x1="455" y1="143.4" x2="456.2" y2="143.4" stroke="#333" stroke-width="0.45"/>
<text x="454.7" y="136.76" font-size="6.89" stroke="#000" stroke-width="0.2" text-anchor="end" transform="matrix(0.9 0 0 1 45.47 0)">20</text>
<line x1="455" y1="134.56" x2="456.2" y2="134.56" stroke="#333" stroke-width="0.45"/>
<text x="454.7" y="127.92" font-size="6.89" stroke="#000" stroke-width="0.2" text-anchor="end" transform="matrix(0.9 0 0 1 45.47 0)">40</text>
<line x1="455" y1="125.72" x2="456.2" y2="125.72" stroke="#333" stroke-width="0.45"/>
<text x="454.7" y="119.08" font-size="6.89" stroke="#000" stroke-width="0.2" text-anchor="end" transform="matrix(0.9 0 0 1 45.47 0)">60</text>
<line x1="455" y1="116.88" x2="456.2" y2="116.88" stroke="#333" stroke-width="0.45"/>
<text x="454.7" y="110.24" font-size="6.89" stroke="#000" stroke-width="0.2" text-anchor="end" transform="matrix(0.9 0 0 1 45.47 0)">80</text>
<line x1="455" y1="108.04" x2="456.2" y2="108.04" stroke="#333" stroke-width="0.45"/>
<text x="454.7" y="101.4" font-size="6.89" stroke="#000" stroke-width="0.2" text-anchor="end" transform="matrix(0.9 0 0 1 45.47 0)">100</text>
<line x1="455" y1="99.2" x2="456.2" y2="99.2" stroke="#333" stroke-width="0.45"/>
<rect x="460.75" y="139.42" width="7.1" height="3.98" fill="#bcbcbc" stroke="#666" stroke-width="0.5"/>
<line x1="462.53" y1="139.42" x2="462.53" y2="143.4" stroke="#999" stroke-width="0.35"/>
<line x1="466.07" y1="139.42" x2="466.07" y2="143.4" stroke="#999" stroke-width="0.35"/>
<line x1="464.3" y1="137.21" x2="464.3" y2="139.42" stroke="#555" stroke-width="0.4"/>
<line x1="463.5" y1="137.21" x2="465.1" y2="137.21" stroke="#555" stroke-width="0.4"/>
<rect x="476.85" y="139.42" width="7.1" height="3.98" fill="#bcbcbc" stroke="#666" stroke-width="0.5"/>
<line x1="478.62" y1="139.42" x2="478.62" y2="143.4" stroke="#999" stroke-width="0.35"/>
<line x1="482.17" y1="139.42" x2="482.17" y2="143.4" stroke="#999" stroke-width="0.35"/>
<line x1="480.4" y1="137.65" x2="480.4" y2="139.42" stroke="#555" stroke-width="0.4"/>
<line x1="479.6" y1="137.65" x2="481.2" y2="137.65" stroke="#555" stroke-width="0.4"/>
<rect x="492.85" y="108.48" width="7.1" height="34.92" fill="#bcbcbc" stroke="#666" stroke-width="0.5"/>
<line x1="494.62" y1="108.48" x2="494.62" y2="143.4" stroke="#999" stroke-width="0.35"/>
<line x1="498.17" y1="108.48" x2="498.17" y2="143.4" stroke="#999" stroke-width="0.35"/>
<line x1="496.4" y1="100.97" x2="496.4" y2="108.48" stroke="#555" stroke-width="0.4"/>
<line x1="495.6" y1="100.97" x2="497.2" y2="100.97" stroke="#555" stroke-width="0.4"/>
<line x1="456.2" y1="99.2" x2="456.2" y2="143.4" stroke="#111" stroke-width="0.6"/>
<line x1="456.2" y1="143.4" x2="505.3" y2="143.4" stroke="#111" stroke-width="0.6"/>
<text x="463.6" y="151.8" font-size="7.11" stroke="#000" stroke-width="0.2" text-anchor="middle" transform="matrix(0.9 0 0 1 46.36 0)">0</text>
<text x="480.8" y="151.8" font-size="7.11" stroke="#000" stroke-width="0.2" text-anchor="middle" transform="matrix(0.9 0 0 1 48.08 0)">20</text>
<text x="496.5" y="151.8" font-size="7.11" stroke="#000" stroke-width="0.2" text-anchor="middle" transform="matrix(0.9 0 0 1 49.65 0)">50</text>
<text x="507.5" y="151.8" font-size="6.89" stroke="#000" stroke-width="0.2" text-anchor="middle" transform="matrix(0.9 0 0 1 50.75 0)">nM</text>
<text x="480.3" y="161.5" font-size="7.11" stroke="#000" stroke-width="0.2" text-anchor="middle" transform="matrix(0.9 0 0 1 48.03 0)">AP23464</text>
<text x="441.7" y="122.3" font-size="6.6" stroke="#000" stroke-width="0.08" text-anchor="middle" transform="rotate(-90 441.7 122.3)">% annexin-V positive</text>
<line x1="454.5" y1="216.08" x2="503.2" y2="216.08" stroke="#7a7a7a" stroke-width="0.6"/>
<line x1="454.5" y1="207.26" x2="503.2" y2="207.26" stroke="#7a7a7a" stroke-width="0.6"/>
<line x1="454.5" y1="198.44" x2="503.2" y2="198.44" stroke="#7a7a7a" stroke-width="0.6"/>
<line x1="454.5" y1="189.62" x2="503.2" y2="189.62" stroke="#7a7a7a" stroke-width="0.6"/>
<line x1="454.5" y1="180.8" x2="503.2" y2="180.8" stroke="#aaa" stroke-width="0.6"/>
<line x1="503.2" y1="180.8" x2="503.2" y2="224.9" stroke="#9a9a9a" stroke-width="0.5"/>
<text x="453" y="227.1" font-size="6.89" stroke="#000" stroke-width="0.2" text-anchor="end" transform="matrix(0.9 0 0 1 45.3 0)">0</text>
<line x1="453.3" y1="224.9" x2="454.5" y2="224.9" stroke="#333" stroke-width="0.45"/>
<text x="453" y="218.28" font-size="6.89" stroke="#000" stroke-width="0.2" text-anchor="end" transform="matrix(0.9 0 0 1 45.3 0)">20</text>
<line x1="453.3" y1="216.08" x2="454.5" y2="216.08" stroke="#333" stroke-width="0.45"/>
<text x="453" y="209.46" font-size="6.89" stroke="#000" stroke-width="0.2" text-anchor="end" transform="matrix(0.9 0 0 1 45.3 0)">40</text>
<line x1="453.3" y1="207.26" x2="454.5" y2="207.26" stroke="#333" stroke-width="0.45"/>
<text x="453" y="200.64" font-size="6.89" stroke="#000" stroke-width="0.2" text-anchor="end" transform="matrix(0.9 0 0 1 45.3 0)">60</text>
<line x1="453.3" y1="198.44" x2="454.5" y2="198.44" stroke="#333" stroke-width="0.45"/>
<text x="453" y="191.82" font-size="6.89" stroke="#000" stroke-width="0.2" text-anchor="end" transform="matrix(0.9 0 0 1 45.3 0)">80</text>
<line x1="453.3" y1="189.62" x2="454.5" y2="189.62" stroke="#333" stroke-width="0.45"/>
<text x="453" y="183" font-size="6.89" stroke="#000" stroke-width="0.2" text-anchor="end" transform="matrix(0.9 0 0 1 45.3 0)">100</text>
<line x1="453.3" y1="180.8" x2="454.5" y2="180.8" stroke="#333" stroke-width="0.45"/>
<rect x="457.65" y="221.59" width="5.3" height="3.31" fill="#bcbcbc" stroke="#666" stroke-width="0.5"/>
<line x1="458.98" y1="221.59" x2="458.98" y2="224.9" stroke="#999" stroke-width="0.35"/>
<line x1="461.62" y1="221.59" x2="461.62" y2="224.9" stroke="#999" stroke-width="0.35"/>
<line x1="460.3" y1="221.15" x2="460.3" y2="221.59" stroke="#555" stroke-width="0.4"/>
<line x1="459.5" y1="221.15" x2="461.1" y2="221.15" stroke="#555" stroke-width="0.4"/>
<rect x="470.25" y="218.51" width="5.3" height="6.39" fill="#bcbcbc" stroke="#666" stroke-width="0.5"/>
<line x1="471.57" y1="218.51" x2="471.57" y2="224.9" stroke="#999" stroke-width="0.35"/>
<line x1="474.22" y1="218.51" x2="474.22" y2="224.9" stroke="#999" stroke-width="0.35"/>
<line x1="472.9" y1="216.08" x2="472.9" y2="218.51" stroke="#555" stroke-width="0.4"/>
<line x1="472.1" y1="216.08" x2="473.7" y2="216.08" stroke="#555" stroke-width="0.4"/>
<rect x="482.65" y="207.88" width="5.3" height="17.02" fill="#bcbcbc" stroke="#666" stroke-width="0.5"/>
<line x1="483.98" y1="207.88" x2="483.98" y2="224.9" stroke="#999" stroke-width="0.35"/>
<line x1="486.62" y1="207.88" x2="486.62" y2="224.9" stroke="#999" stroke-width="0.35"/>
<line x1="485.3" y1="200.82" x2="485.3" y2="207.88" stroke="#555" stroke-width="0.4"/>
<line x1="484.5" y1="200.82" x2="486.1" y2="200.82" stroke="#555" stroke-width="0.4"/>
<rect x="495.15" y="198.53" width="5.3" height="26.37" fill="#bcbcbc" stroke="#666" stroke-width="0.5"/>
<line x1="496.48" y1="198.53" x2="496.48" y2="224.9" stroke="#999" stroke-width="0.35"/>
<line x1="499.12" y1="198.53" x2="499.12" y2="224.9" stroke="#999" stroke-width="0.35"/>
<line x1="497.8" y1="194.25" x2="497.8" y2="198.53" stroke="#555" stroke-width="0.4"/>
<line x1="497" y1="194.25" x2="498.6" y2="194.25" stroke="#555" stroke-width="0.4"/>
<line x1="454.5" y1="180.8" x2="454.5" y2="224.9" stroke="#111" stroke-width="0.6"/>
<line x1="454.5" y1="224.9" x2="503.2" y2="224.9" stroke="#111" stroke-width="0.6"/>
<text x="460.6" y="233.9" font-size="7.11" stroke="#000" stroke-width="0.2" text-anchor="middle" transform="matrix(0.9 0 0 1 46.06 0)">0</text>
<text x="472.9" y="233.9" font-size="7.11" stroke="#000" stroke-width="0.2" text-anchor="middle" transform="matrix(0.9 0 0 1 47.29 0)">200</text>
<text x="486.6" y="233.9" font-size="7.11" stroke="#000" stroke-width="0.2" text-anchor="middle" transform="matrix(0.9 0 0 1 48.66 0)">500</text>
<text x="501.5" y="233.9" font-size="7.11" stroke="#000" stroke-width="0.2" text-anchor="middle" transform="matrix(0.9 0 0 1 50.15 0)">1000</text>
<text x="514" y="233.9" font-size="6.89" stroke="#000" stroke-width="0.2" text-anchor="middle" transform="matrix(0.9 0 0 1 51.4 0)">nM</text>
<text x="480.6" y="244" font-size="7.11" stroke="#000" stroke-width="0.2" text-anchor="middle" transform="matrix(0.9 0 0 1 48.06 0)">AP23464</text>
<text x="440.2" y="202.9" font-size="6.6" stroke="#000" stroke-width="0.08" text-anchor="middle" transform="rotate(-90 440.2 202.9)">% annexin-V positive</text>
<line x1="453.9" y1="296.24" x2="505.3" y2="296.24" stroke="#7a7a7a" stroke-width="0.6"/>
<line x1="453.9" y1="287.48" x2="505.3" y2="287.48" stroke="#7a7a7a" stroke-width="0.6"/>
<line x1="453.9" y1="278.72" x2="505.3" y2="278.72" stroke="#7a7a7a" stroke-width="0.6"/>
<line x1="453.9" y1="269.96" x2="505.3" y2="269.96" stroke="#7a7a7a" stroke-width="0.6"/>
<line x1="453.9" y1="261.2" x2="505.3" y2="261.2" stroke="#aaa" stroke-width="0.6"/>
<line x1="505.3" y1="261.2" x2="505.3" y2="305" stroke="#9a9a9a" stroke-width="0.5"/>
<text x="452.4" y="307.2" font-size="6.89" stroke="#000" stroke-width="0.2" text-anchor="end" transform="matrix(0.9 0 0 1 45.24 0)">0</text>
<line x1="452.7" y1="305" x2="453.9" y2="305" stroke="#333" stroke-width="0.45"/>
<text x="452.4" y="298.44" font-size="6.89" stroke="#000" stroke-width="0.2" text-anchor="end" transform="matrix(0.9 0 0 1 45.24 0)">20</text>
<line x1="452.7" y1="296.24" x2="453.9" y2="296.24" stroke="#333" stroke-width="0.45"/>
<text x="452.4" y="289.68" font-size="6.89" stroke="#000" stroke-width="0.2" text-anchor="end" transform="matrix(0.9 0 0 1 45.24 0)">40</text>
<line x1="452.7" y1="287.48" x2="453.9" y2="287.48" stroke="#333" stroke-width="0.45"/>
<text x="452.4" y="280.92" font-size="6.89" stroke="#000" stroke-width="0.2" text-anchor="end" transform="matrix(0.9 0 0 1 45.24 0)">60</text>
<line x1="452.7" y1="278.72" x2="453.9" y2="278.72" stroke="#333" stroke-width="0.45"/>
<text x="452.4" y="272.16" font-size="6.89" stroke="#000" stroke-width="0.2" text-anchor="end" transform="matrix(0.9 0 0 1 45.24 0)">80</text>
<line x1="452.7" y1="269.96" x2="453.9" y2="269.96" stroke="#333" stroke-width="0.45"/>
<text x="452.4" y="263.4" font-size="6.89" stroke="#000" stroke-width="0.2" text-anchor="end" transform="matrix(0.9 0 0 1 45.24 0)">100</text>
<line x1="452.7" y1="261.2" x2="453.9" y2="261.2" stroke="#333" stroke-width="0.45"/>
<rect x="457.8" y="301.93" width="5" height="3.07" fill="#bcbcbc" stroke="#666" stroke-width="0.5"/>
<line x1="459.05" y1="301.93" x2="459.05" y2="305" stroke="#999" stroke-width="0.35"/>
<line x1="461.55" y1="301.93" x2="461.55" y2="305" stroke="#999" stroke-width="0.35"/>
<line x1="460.3" y1="301.5" x2="460.3" y2="301.93" stroke="#555" stroke-width="0.4"/>
<line x1="459.5" y1="301.5" x2="461.1" y2="301.5" stroke="#555" stroke-width="0.4"/>
<rect x="470.1" y="302.63" width="5" height="2.37" fill="#bcbcbc" stroke="#666" stroke-width="0.5"/>
<line x1="471.35" y1="302.63" x2="471.35" y2="305" stroke="#999" stroke-width="0.35"/>
<line x1="473.85" y1="302.63" x2="473.85" y2="305" stroke="#999" stroke-width="0.35"/>
<line x1="472.6" y1="302.37" x2="472.6" y2="302.63" stroke="#555" stroke-width="0.4"/>
<line x1="471.8" y1="302.37" x2="473.4" y2="302.37" stroke="#555" stroke-width="0.4"/>
<rect x="482.5" y="301.93" width="5" height="3.07" fill="#bcbcbc" stroke="#666" stroke-width="0.5"/>
<line x1="483.75" y1="301.93" x2="483.75" y2="305" stroke="#999" stroke-width="0.35"/>
<line x1="486.25" y1="301.93" x2="486.25" y2="305" stroke="#999" stroke-width="0.35"/>
<line x1="485" y1="301.5" x2="485" y2="301.93" stroke="#555" stroke-width="0.4"/>
<line x1="484.2" y1="301.5" x2="485.8" y2="301.5" stroke="#555" stroke-width="0.4"/>
<rect x="495" y="298.69" width="5" height="6.31" fill="#bcbcbc" stroke="#666" stroke-width="0.5"/>
<line x1="496.25" y1="298.69" x2="496.25" y2="305" stroke="#999" stroke-width="0.35"/>
<line x1="498.75" y1="298.69" x2="498.75" y2="305" stroke="#999" stroke-width="0.35"/>
<line x1="497.5" y1="298.43" x2="497.5" y2="298.69" stroke="#555" stroke-width="0.4"/>
<line x1="496.7" y1="298.43" x2="498.3" y2="298.43" stroke="#555" stroke-width="0.4"/>
<line x1="453.9" y1="261.2" x2="453.9" y2="305" stroke="#111" stroke-width="0.6"/>
<line x1="453.9" y1="305" x2="505.3" y2="305" stroke="#111" stroke-width="0.6"/>
<text x="459.6" y="313.9" font-size="7.11" stroke="#000" stroke-width="0.2" text-anchor="middle" transform="matrix(0.9 0 0 1 45.96 0)">0</text>
<text x="471.5" y="313.9" font-size="7.11" stroke="#000" stroke-width="0.2" text-anchor="middle" transform="matrix(0.9 0 0 1 47.15 0)">1000</text>
<text x="487.4" y="313.9" font-size="7.11" stroke="#000" stroke-width="0.2" text-anchor="middle" transform="matrix(0.9 0 0 1 48.74 0)">2000</text>
<text x="503.2" y="313.9" font-size="7.11" stroke="#000" stroke-width="0.2" text-anchor="middle" transform="matrix(0.9 0 0 1 50.32 0)">5000</text>
<text x="514.5" y="313.9" font-size="6.89" stroke="#000" stroke-width="0.2" text-anchor="middle" transform="matrix(0.9 0 0 1 51.45 0)">nM</text>
<text x="480.6" y="324" font-size="7.11" stroke="#000" stroke-width="0.2" text-anchor="middle" transform="matrix(0.9 0 0 1 48.06 0)">AP23464</text>
<text x="438.6" y="285.2" font-size="6.6" stroke="#000" stroke-width="0.08" text-anchor="middle" transform="rotate(-90 438.6 285.2)">% annexin-V positive</text>
</svg>
</body></html>
